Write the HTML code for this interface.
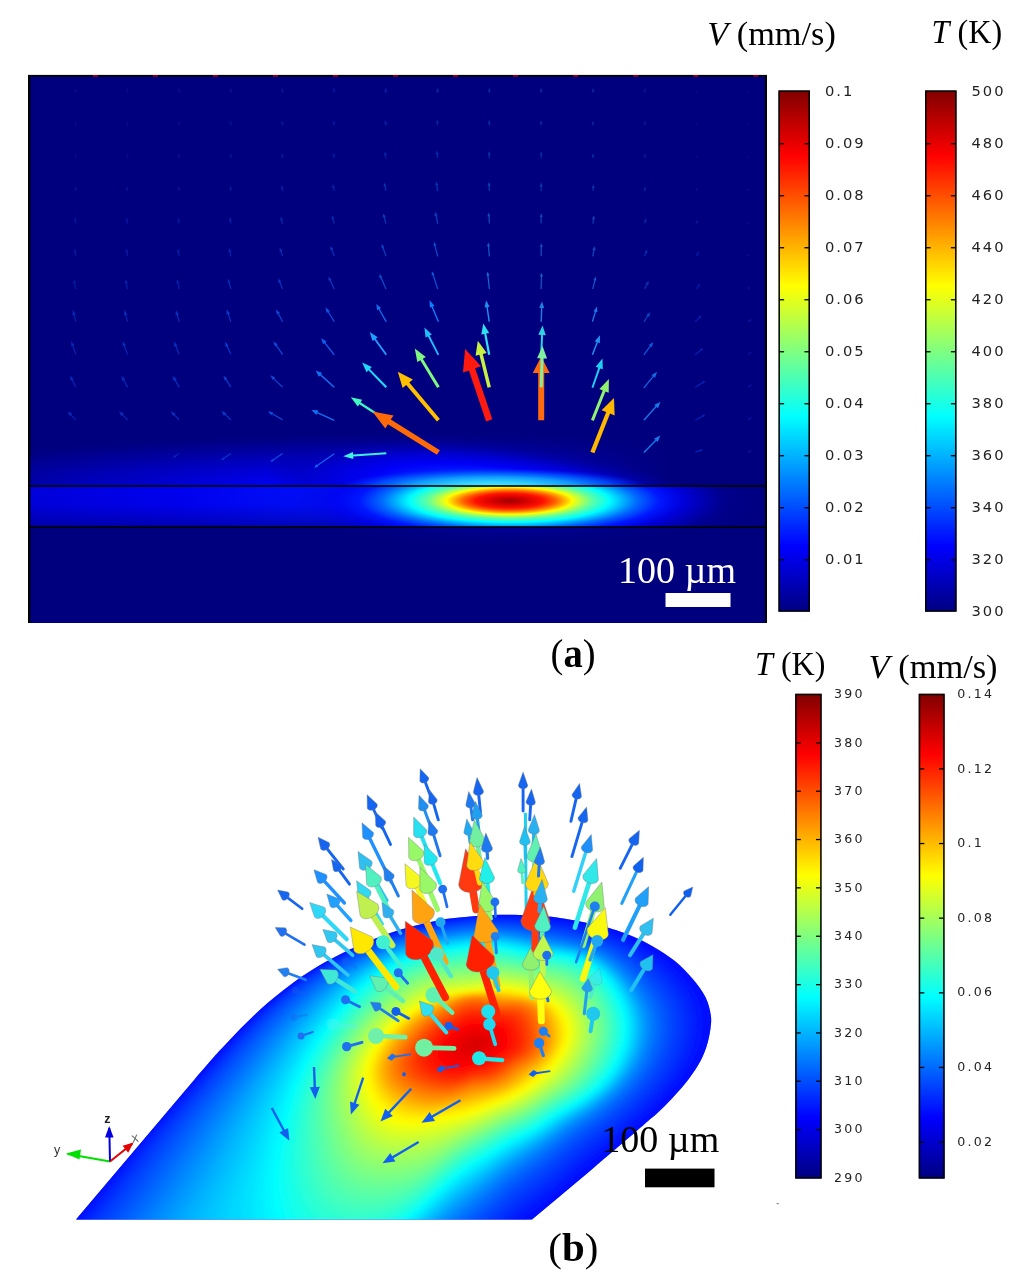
<!DOCTYPE html>
<html lang="en"><head><meta charset="utf-8"><title>Figure</title>
<style>html,body{margin:0;padding:0;background:#fff}svg{display:block}.pal{font-family:"Liberation Serif","DejaVu Serif",serif}.mono{font-family:"DejaVu Sans","Liberation Sans",sans-serif;font-size:14.7px;letter-spacing:2px;fill:#222}.m2{font-size:12.6px;letter-spacing:2.2px}</style></head><body>
<svg width="1024" height="1281" viewBox="0 0 1024 1281">
<rect width="1024" height="1281" fill="#fff"/>
<defs>
<clipPath id="cpA"><rect x="28" y="75" width="739" height="548"/></clipPath>
<clipPath id="cpTop"><rect x="28" y="75" width="739" height="411.0"/></clipPath>
<clipPath id="cpLay"><rect x="28" y="486.0" width="739" height="41.0"/></clipPath>
<clipPath id="cpBot"><rect x="28" y="527.0" width="739" height="96.0"/></clipPath>
<radialGradient id="gHot" gradientUnits="userSpaceOnUse" cx="0" cy="0" r="330.0" gradientTransform="translate(509.5 500.8) scale(1 0.215)">
<stop offset="0.0000" stop-color="#9c0000" stop-opacity="1.00"/>
<stop offset="0.0485" stop-color="#d00000" stop-opacity="1.00"/>
<stop offset="0.1030" stop-color="#ff1000" stop-opacity="1.00"/>
<stop offset="0.1394" stop-color="#ff6000" stop-opacity="1.00"/>
<stop offset="0.1667" stop-color="#ffb000" stop-opacity="1.00"/>
<stop offset="0.1909" stop-color="#ffff00" stop-opacity="1.00"/>
<stop offset="0.2182" stop-color="#b0ff50" stop-opacity="1.00"/>
<stop offset="0.2485" stop-color="#60ffa0" stop-opacity="1.00"/>
<stop offset="0.3030" stop-color="#00ffff" stop-opacity="1.00"/>
<stop offset="0.3455" stop-color="#00b0ff" stop-opacity="1.00"/>
<stop offset="0.3879" stop-color="#0068ff" stop-opacity="1.00"/>
<stop offset="0.4545" stop-color="#0018ff" stop-opacity="1.00"/>
<stop offset="0.5303" stop-color="#0000ee" stop-opacity="0.64"/>
<stop offset="0.6515" stop-color="#0000c4" stop-opacity="0.07"/>
<stop offset="0.8182" stop-color="#00009c" stop-opacity="0.00"/>
<stop offset="1.0000" stop-color="#000088" stop-opacity="0.00"/>
</radialGradient>
<radialGradient id="gUp" gradientUnits="userSpaceOnUse" cx="0" cy="0" r="205" gradientTransform="translate(487.5 490.0) skewX(58) scale(1 0.25)">
<stop offset="0" stop-color="#0078ff" stop-opacity="1"/>
<stop offset="0.16" stop-color="#0050ff" stop-opacity="1"/>
<stop offset="0.34" stop-color="#0020ff" stop-opacity="1"/>
<stop offset="0.52" stop-color="#0000f8" stop-opacity="1"/>
<stop offset="0.7" stop-color="#0000d8" stop-opacity="0.8"/>
<stop offset="0.86" stop-color="#0000b0" stop-opacity="0.45"/>
<stop offset="1" stop-color="#000090" stop-opacity="0"/>
</radialGradient>
<radialGradient id="gBand" gradientUnits="userSpaceOnUse" cx="0" cy="0" r="155" gradientTransform="translate(493.5 487.5) scale(1 0.125)">
<stop offset="0" stop-color="#58f0ff" stop-opacity="1"/>
<stop offset="0.3" stop-color="#30d0ff" stop-opacity="1"/>
<stop offset="0.55" stop-color="#10a0ff" stop-opacity="0.95"/>
<stop offset="0.78" stop-color="#0060ff" stop-opacity="0.7"/>
<stop offset="1" stop-color="#0030ff" stop-opacity="0"/>
</radialGradient>
<radialGradient id="gUpL" gradientUnits="userSpaceOnUse" cx="0" cy="0" r="600" gradientTransform="translate(440 489.0) scale(1 0.095)">
<stop offset="0" stop-color="#0018ff" stop-opacity="1"/>
<stop offset="0.2" stop-color="#0000ff" stop-opacity="1"/>
<stop offset="0.4" stop-color="#0000e0" stop-opacity="0.95"/>
<stop offset="0.62" stop-color="#0000c0" stop-opacity="0.85"/>
<stop offset="0.82" stop-color="#0000a0" stop-opacity="0.6"/>
<stop offset="1" stop-color="#000088" stop-opacity="0"/>
</radialGradient>
<linearGradient id="gLay" gradientUnits="userSpaceOnUse" x1="28" y1="0" x2="767" y2="0">
<stop offset="0" stop-color="#0000dc"/>
<stop offset="0.2" stop-color="#0000f0"/>
<stop offset="0.4" stop-color="#0010ff"/>
<stop offset="0.8" stop-color="#0000f8"/>
<stop offset="0.86" stop-color="#0000d0"/>
<stop offset="0.905" stop-color="#0000a0"/>
<stop offset="0.945" stop-color="#000086"/>
<stop offset="1" stop-color="#000080"/>
</linearGradient>
<linearGradient id="gLayV" gradientUnits="userSpaceOnUse" x1="0" y1="486.0" x2="0" y2="527.0">
<stop offset="0" stop-color="#00007f" stop-opacity="0"/>
<stop offset="0.45" stop-color="#00007f" stop-opacity="0.05"/>
<stop offset="0.8" stop-color="#00007f" stop-opacity="0.35"/>
<stop offset="1" stop-color="#00007f" stop-opacity="0.62"/>
</linearGradient>
<radialGradient id="gDn" gradientUnits="userSpaceOnUse" cx="0" cy="0" r="200" gradientTransform="translate(509.5 527.0) scale(1 0.1)">
<stop offset="0" stop-color="#0000a8" stop-opacity="0.6"/>
<stop offset="0.5" stop-color="#000098" stop-opacity="0.3"/>
<stop offset="1" stop-color="#00007f" stop-opacity="0"/>
</radialGradient>
<linearGradient id="gFade" gradientUnits="userSpaceOnUse" x1="440" y1="0" x2="670" y2="0"><stop offset="0" stop-color="#fff"/><stop offset="1" stop-color="#000"/></linearGradient>
<mask id="mFade" maskUnits="userSpaceOnUse" x="0" y="300" width="1024" height="300"><rect x="0" y="300" width="1024" height="300" fill="url(#gFade)"/></mask>
</defs>
<rect x="28" y="75" width="739" height="548" fill="#00007f"/>
<g clip-path="url(#cpTop)"><rect x="28" y="380" width="739" height="120" fill="url(#gUpL)" mask="url(#mFade)"/><rect x="28" y="380" width="739" height="120" fill="url(#gUp)"/><rect x="28" y="380" width="739" height="120" fill="url(#gBand)"/></g>
<g clip-path="url(#cpLay)"><rect x="28" y="486.0" width="739" height="41.0" fill="url(#gLay)"/><rect x="28" y="486.0" width="739" height="41.0" fill="url(#gLayV)"/><rect x="28" y="486.0" width="739" height="41.0" fill="url(#gHot)"/></g>
<g clip-path="url(#cpBot)"><rect x="28" y="527.0" width="739" height="40" fill="url(#gDn)"/></g>
<g>
<path d="M76.2,419.4 71.2,414.5 72.1,413.6 67.3,411.3 69.6,416.1 70.5,415.2 75.4,420.2Z" fill="#0628b4"/>
<path d="M127.9,419.4 122.9,414.5 123.8,413.6 119,411.3 121.3,416.1 122.2,415.2 127.1,420.2Z" fill="#062cb8"/>
<path d="M179.6,419.4 174.6,414.5 175.5,413.6 170.7,411.3 173,416.1 173.9,415.2 178.8,420.2Z" fill="#0830c0"/>
<path d="M231.3,419.4 225.4,413.9 226.3,413 221.4,410.9 223.8,415.7 224.7,414.7 230.5,420.2Z" fill="#0a3acc"/>
<path d="M282.9,419.3 272.5,413.3 273.1,412.2 267.9,411.3 271.3,415.4 271.9,414.3 282.3,420.3Z" fill="#0e4ad8"/>
<path d="M76.3,386.9 72.7,379.7 73.8,379.2 69.9,375.5 70.6,380.8 71.7,380.2 75.3,387.3Z" fill="#0628b4"/>
<path d="M128,386.8 124.2,379.8 125.3,379.2 121.4,375.6 122.2,380.9 123.3,380.3 127,387.4Z" fill="#062cb8"/>
<path d="M179.7,386.8 175.7,379.9 176.8,379.3 172.7,375.8 173.6,381.1 174.7,380.4 178.7,387.4Z" fill="#0830c0"/>
<path d="M231.4,386.8 226.5,379.3 227.5,378.6 223.3,375.4 224.5,380.5 225.5,379.9 230.4,387.4Z" fill="#0a3acc"/>
<path d="M283,386.7 274.3,378.4 275.2,377.5 270.4,375.3 272.7,380.1 273.6,379.2 282.2,387.5Z" fill="#0e4ad8"/>
<path d="M76.3,354.2 73.4,345.7 74.6,345.3 71.2,341.2 71.2,346.5 72.3,346.1 75.3,354.6Z" fill="#0628b4"/>
<path d="M128,354.2 124.9,345.8 126.1,345.3 122.7,341.2 122.7,346.6 123.9,346.1 127,354.6Z" fill="#062cb8"/>
<path d="M179.7,354.2 176.3,345.8 177.5,345.4 174,341.4 174.2,346.7 175.3,346.3 178.7,354.6Z" fill="#0830c0"/>
<path d="M231.4,354.2 227.6,346 228.7,345.5 225,341.7 225.5,347 226.6,346.5 230.4,354.6Z" fill="#0a3acc"/>
<path d="M283.1,354.1 276.7,345.1 277.8,344.4 273.4,341.3 274.8,346.4 275.8,345.7 282.1,354.7Z" fill="#0e4ad8"/>
<path d="M76.3,321.6 74.6,314.8 75.9,314.5 72.9,310.1 72.4,315.3 73.6,315 75.3,321.8Z" fill="#0628b4"/>
<path d="M128,321.6 126.2,314.8 127.4,314.5 124.4,310.1 123.9,315.4 125.2,315.1 127,321.8Z" fill="#062cb8"/>
<path d="M179.7,321.5 177.8,314.8 179,314.5 175.9,310.2 175.5,315.5 176.7,315.1 178.7,321.9Z" fill="#0830c0"/>
<path d="M231.4,321.5 228.8,314 230,313.5 226.7,309.4 226.6,314.7 227.8,314.3 230.4,321.9Z" fill="#0a3acc"/>
<path d="M283.1,321.4 278.9,313.5 280,312.9 276,309.3 276.8,314.6 277.9,314 282.1,322Z" fill="#0e4ad8"/>
<path d="M178.9,453.1 175.2,455.6 174.7,454.9 172.6,458 176.2,457.1 175.7,456.4 179.5,453.9Z" fill="#0628b8"/>
<path d="M230.6,453.1 223.6,457.8 223.1,457.2 220.9,460.2 224.6,459.3 224.1,458.7 231.2,453.9Z" fill="#0a38c8"/>
<path d="M282.3,453.1 272.8,459.5 272.3,458.9 270.2,461.9 273.8,461 273.3,460.4 282.9,453.9Z" fill="#1050dc"/>
<path d="M76.4,288.9 75.2,283.2 76.2,283 73.9,279.6 73.1,283.6 74.1,283.4 75.2,289.1Z" fill="#041da5"/>
<path d="M128.1,288.9 126.9,283.2 127.9,283 125.5,279.6 124.7,283.7 125.7,283.4 126.9,289.1Z" fill="#0420a8"/>
<path d="M179.8,288.9 178.5,283.2 179.5,283 177.1,279.6 176.4,283.7 177.4,283.5 178.6,289.1Z" fill="#0623ae"/>
<path d="M231.5,288.8 229.7,282.5 230.7,282.2 228.2,279 227.6,283.1 228.6,282.8 230.3,289.2Z" fill="#072ab6"/>
<path d="M283.1,288.8 280.3,281.9 281.3,281.5 278.3,278.6 278.3,282.8 279.2,282.4 282.1,289.2Z" fill="#0a35bf"/>
<path d="M334.8,288.8 330.6,279.9 331.5,279.5 328.5,276.7 328.7,280.8 329.6,280.4 333.8,289.2Z" fill="#0c3ac5"/>
<path d="M386.5,288.8 381.5,277.3 382.4,276.9 379.4,274.1 379.5,278.2 380.4,277.8 385.5,289.2Z" fill="#0c51d0"/>
<path d="M438.2,288.8 433.7,274.7 434.6,274.4 431.9,271.3 431.6,275.4 432.6,275.1 437.2,289.2Z" fill="#0c5cdb"/>
<path d="M490,288.9 488.5,275.5 489.5,275.3 487.5,271.7 486.3,275.7 487.3,275.6 488.8,289.1Z" fill="#1768d0"/>
<path d="M541.7,289 542,276.6 543,276.6 541.6,272.8 539.8,276.5 540.9,276.5 540.5,289Z" fill="#175cc5"/>
<path d="M593.4,289.1 595.4,280.5 596.4,280.7 595.8,276.6 593.3,280 594.3,280.2 592.2,288.9Z" fill="#1456cb"/>
<path d="M645,289.3 647.4,284.5 648.4,285 648.7,280.9 645.5,283.5 646.4,284 644,288.7Z" fill="#0934b4"/>
<path d="M696.7,289.3 698.6,286.7 699.4,287.3 700.4,283.2 696.9,285.4 697.7,286 695.7,288.7Z" fill="#031aa8"/>
<path d="M748.3,289.4 748.5,289.1 749.3,289.8 750,286.5 746.9,287.7 747.7,288.4 747.5,288.6Z" fill="#01149d"/>
<path d="M76.4,256.2 75.8,252.4 76.8,252.2 74.6,248.7 73.6,252.7 74.6,252.6 75.2,256.4Z" fill="#0419a0"/>
<path d="M128.1,256.2 127.4,252.4 128.4,252.2 126.2,248.7 125.3,252.7 126.3,252.6 126.9,256.4Z" fill="#041ba2"/>
<path d="M179.8,256.2 179.1,252.4 180.1,252.2 177.8,248.7 176.9,252.8 177.9,252.6 178.6,256.4Z" fill="#051ea7"/>
<path d="M231.5,256.2 230.5,251.8 231.5,251.5 229.1,248.2 228.4,252.2 229.4,252 230.3,256.4Z" fill="#0624af"/>
<path d="M283.1,256.1 281.6,251.2 282.5,250.9 279.8,247.8 279.5,251.9 280.5,251.6 282.1,256.5Z" fill="#092eb6"/>
<path d="M334.8,256.1 332.4,249.5 333.3,249.1 330.5,246.1 330.3,250.2 331.3,249.9 333.8,256.5Z" fill="#0a32bb"/>
<path d="M386.5,256.1 383.5,247.4 384.5,247 381.7,244 381.5,248.1 382.4,247.7 385.5,256.5Z" fill="#0a45c5"/>
<path d="M438.3,256.2 435.5,245.4 436.5,245.1 434,241.9 433.4,245.9 434.4,245.7 437.1,256.4Z" fill="#0a4fce"/>
<path d="M490,256.2 489.1,246.2 490.1,246.1 488.2,242.5 486.9,246.4 487.9,246.3 488.8,256.4Z" fill="#1459c5"/>
<path d="M541.7,256.3 541.9,247.1 542.9,247.1 541.4,243.3 539.7,247.1 540.7,247.1 540.5,256.3Z" fill="#144fbb"/>
<path d="M593.4,256.4 594.6,250.1 595.6,250.3 594.7,246.3 592.4,249.7 593.4,249.9 592.2,256.2Z" fill="#114ac0"/>
<path d="M645,256.5 646.3,253.3 647.3,253.6 647.2,249.5 644.3,252.5 645.3,252.8 644,256.1Z" fill="#072dac"/>
<path d="M696.7,256.6 697.6,254.9 698.5,255.4 698.9,251.3 695.7,253.9 696.6,254.4 695.7,256Z" fill="#0216a2"/>
<path d="M748.4,256.6 748.5,256.4 749.4,256.9 749.5,253.8 746.7,255.2 747.6,255.7 747.4,256Z" fill="#011198"/>
<path d="M76.4,223.5 76.1,221.2 77.1,221.1 75,217.5 73.9,221.5 74.9,221.3 75.2,223.7Z" fill="#03159b"/>
<path d="M128.1,223.5 127.8,221.2 128.8,221.1 126.7,217.5 125.6,221.5 126.6,221.4 126.9,223.7Z" fill="#03179d"/>
<path d="M179.8,223.5 179.4,221.2 180.4,221.1 178.3,217.5 177.3,221.5 178.3,221.4 178.6,223.7Z" fill="#0419a1"/>
<path d="M231.5,223.5 231,220.7 232,220.5 229.8,217 228.8,221.1 229.9,220.9 230.3,223.7Z" fill="#051ea7"/>
<path d="M283.2,223.5 282.3,220.2 283.3,219.9 280.8,216.7 280.2,220.7 281.2,220.5 282,223.7Z" fill="#0726ad"/>
<path d="M334.9,223.4 333.5,218.7 334.5,218.4 331.9,215.2 331.4,219.3 332.4,219.1 333.7,223.8Z" fill="#082ab1"/>
<path d="M386.6,223.4 384.8,217 385.8,216.8 383.3,213.5 382.7,217.6 383.7,217.3 385.4,223.8Z" fill="#083aba"/>
<path d="M438.3,223.5 436.6,215.5 437.6,215.3 435.3,211.9 434.5,216 435.5,215.7 437.1,223.7Z" fill="#0843c2"/>
<path d="M490,223.6 489.5,216.3 490.5,216.2 488.6,212.5 487.3,216.4 488.3,216.3 488.8,223.6Z" fill="#114bba"/>
<path d="M541.7,223.6 541.8,217 542.8,217 541.3,213.2 539.6,217 540.6,217 540.5,223.6Z" fill="#1143b1"/>
<path d="M593.4,223.7 594,219.4 595,219.5 594,215.6 591.9,219.1 592.9,219.2 592.2,223.5Z" fill="#0f3eb6"/>
<path d="M645,223.8 645.7,221.8 646.6,222.1 646.2,218 643.6,221.2 644.6,221.5 644,223.4Z" fill="#0625a5"/>
<path d="M696.7,223.8 697,223.1 698,223.5 698,219.4 695,222.3 696,222.7 695.7,223.4Z" fill="#02139d"/>
<path d="M748.4,223.8 748.5,223.6 749.5,224 749.2,220.9 746.6,222.6 747.5,223.1 747.4,223.4Z" fill="#010f94"/>
<path d="M76.4,190.8 76.3,189.6 77.3,189.5 75.3,185.9 74.1,189.9 75.1,189.8 75.2,191Z" fill="#031195"/>
<path d="M128.1,190.8 127.9,189.6 129,189.5 127,185.9 125.8,189.9 126.8,189.8 126.9,191Z" fill="#031297"/>
<path d="M179.8,190.8 179.6,189.6 180.7,189.5 178.6,185.9 177.5,189.9 178.5,189.8 178.6,191Z" fill="#03149a"/>
<path d="M231.5,190.8 231.3,189.3 232.3,189.2 230.2,185.6 229.1,189.6 230.1,189.5 230.3,191Z" fill="#04189f"/>
<path d="M283.2,190.8 282.8,188.9 283.8,188.7 281.5,185.3 280.6,189.3 281.7,189.1 282,191Z" fill="#061fa4"/>
<path d="M334.9,190.8 334.1,187.7 335.1,187.5 332.7,184.1 332,188.2 333,187.9 333.7,191Z" fill="#0722a8"/>
<path d="M386.6,190.8 385.6,186.3 386.6,186.1 384.2,182.7 383.5,186.8 384.5,186.6 385.4,191Z" fill="#072fae"/>
<path d="M438.3,190.8 437.3,185.1 438.4,185 436.2,181.5 435.2,185.5 436.2,185.3 437.1,191Z" fill="#0736b5"/>
<path d="M490,190.9 489.7,185.8 490.7,185.7 488.9,182 487.5,185.9 488.5,185.9 488.8,190.9Z" fill="#0d3cae"/>
<path d="M541.7,190.9 541.7,186.4 542.8,186.4 541.2,182.6 539.6,186.4 540.6,186.4 540.5,190.9Z" fill="#0d36a8"/>
<path d="M593.4,191 593.7,188.3 594.7,188.4 593.6,184.4 591.5,188 592.6,188.1 592.2,190.8Z" fill="#0c32ab"/>
<path d="M645.1,191 645.3,189.9 646.3,190.1 645.7,186 643.2,189.4 644.2,189.6 643.9,190.8Z" fill="#051e9e"/>
<path d="M696.7,191.1 696.9,190.7 697.8,191.1 697.4,187.4 694.8,190 695.8,190.4 695.7,190.7Z" fill="#020f97"/>
<path d="M748.4,191.1 748.5,190.8 749.5,191.2 748.9,188.1 746.5,190.1 747.5,190.4 747.4,190.7Z" fill="#010c90"/>
<path d="M76.4,158.2 76.3,157 77.3,156.9 75.4,153.2 74.1,157.1 75.1,157 75.2,158.2Z" fill="#020d90"/>
<path d="M128.1,158.2 128,157 129,156.9 127.1,153.2 125.8,157.1 126.8,157.1 126.9,158.2Z" fill="#020e91"/>
<path d="M179.8,158.1 179.7,157 180.7,156.9 178.7,153.2 177.5,157.2 178.5,157.1 178.6,158.3Z" fill="#030f94"/>
<path d="M231.5,158.1 231.3,156.9 232.4,156.8 230.4,153.2 229.2,157.2 230.2,157.1 230.3,158.3Z" fill="#031398"/>
<path d="M283.2,158.1 283,156.9 284,156.8 281.8,153.3 280.8,157.3 281.8,157.1 282,158.3Z" fill="#04189b"/>
<path d="M334.9,158.1 334.5,156.4 335.6,156.2 333.3,152.7 332.4,156.7 333.4,156.6 333.7,158.3Z" fill="#051a9e"/>
<path d="M386.6,158.1 386.1,155.3 387.1,155.1 384.9,151.6 383.9,155.6 384.9,155.5 385.4,158.3Z" fill="#0524a3"/>
<path d="M438.3,158.1 437.8,154.3 438.8,154.2 436.7,150.6 435.6,154.6 436.6,154.5 437.1,158.3Z" fill="#0529a8"/>
<path d="M490,158.2 489.8,154.9 490.8,154.8 489.1,151.1 487.7,155 488.7,154.9 488.8,158.2Z" fill="#0a2ea3"/>
<path d="M541.7,158.2 541.7,155.4 542.7,155.4 541.2,151.5 539.5,155.3 540.6,155.3 540.5,158.2Z" fill="#0a299e"/>
<path d="M593.4,158.3 593.5,156.9 594.5,156.9 593.3,153 591.3,156.6 592.4,156.7 592.2,158.1Z" fill="#0926a1"/>
<path d="M645.1,158.3 645.3,157.1 646.3,157.3 645.5,153.3 643.2,156.7 644.2,156.9 643.9,158.1Z" fill="#041796"/>
<path d="M696.8,158.3 696.8,158.1 697.8,158.3 697,155.3 694.7,157.5 695.7,157.8 695.6,158.1Z" fill="#010c91"/>
<path d="M748.5,158.4 748.5,158.1 749.5,158.4 748.7,155.3 746.4,157.5 747.4,157.7 747.3,158Z" fill="#01098c"/>
<path d="M76.4,125.5 76.3,124.3 77.3,124.2 75.5,120.5 74.1,124.4 75.1,124.3 75.2,125.5Z" fill="#020b8e"/>
<path d="M128.1,125.5 128,124.3 129,124.2 127.2,120.5 125.8,124.4 126.8,124.3 126.9,125.5Z" fill="#020c8f"/>
<path d="M179.8,125.5 179.7,124.3 180.7,124.2 178.8,120.5 177.5,124.4 178.5,124.3 178.6,125.5Z" fill="#020d91"/>
<path d="M231.5,125.5 231.4,124.3 232.4,124.2 230.5,120.5 229.2,124.4 230.2,124.4 230.3,125.5Z" fill="#031095"/>
<path d="M283.2,125.4 283,124.2 284,124.1 282,120.5 280.9,124.5 281.9,124.4 282,125.6Z" fill="#041598"/>
<path d="M334.9,125.4 334.7,124.2 335.7,124.1 333.6,120.6 332.5,124.5 333.6,124.4 333.7,125.6Z" fill="#04169a"/>
<path d="M386.6,125.4 386.4,123.9 387.4,123.7 385.3,120.2 384.2,124.2 385.2,124 385.4,125.6Z" fill="#041f9f"/>
<path d="M438.3,125.4 438,123.1 439.1,123 437.1,119.4 435.9,123.4 436.9,123.3 437.1,125.6Z" fill="#0424a3"/>
<path d="M490,125.5 489.9,123.6 490.9,123.6 489.2,119.8 487.7,123.7 488.8,123.6 488.8,125.5Z" fill="#09289f"/>
<path d="M541.7,125.5 541.7,124 542.7,124 541.1,120.2 539.5,124 540.5,124 540.5,125.5Z" fill="#09249a"/>
<path d="M593.4,125.5 593.5,124.3 594.5,124.4 593.2,120.5 591.3,124.2 592.3,124.3 592.2,125.5Z" fill="#08229c"/>
<path d="M645.1,125.6 645.3,124.4 646.3,124.6 645.3,120.6 643.1,124.1 644.1,124.2 643.9,125.4Z" fill="#031493"/>
<path d="M696.8,125.6 696.8,125.3 697.8,125.5 696.8,122.6 694.7,124.9 695.7,125.1 695.6,125.4Z" fill="#010a8f"/>
<path d="M748.5,125.6 748.5,125.3 749.5,125.6 748.6,122.6 746.4,124.8 747.4,125.1 747.3,125.4Z" fill="#01088a"/>
<path d="M76.4,92.8 76.3,91.6 77.3,91.5 75.5,87.8 74.1,91.7 75.2,91.6 75.2,92.8Z" fill="#020b8e"/>
<path d="M128.1,92.8 128,91.6 129,91.5 127.2,87.8 125.8,91.7 126.9,91.6 126.9,92.8Z" fill="#020c8f"/>
<path d="M179.8,92.8 179.7,91.6 180.7,91.5 178.9,87.8 177.5,91.7 178.6,91.6 178.6,92.8Z" fill="#020d91"/>
<path d="M231.5,92.8 231.4,91.6 232.4,91.5 230.6,87.8 229.2,91.7 230.2,91.6 230.3,92.8Z" fill="#031095"/>
<path d="M283.2,92.7 283,91.5 284.1,91.4 282.1,87.8 280.9,91.8 281.9,91.7 282,92.9Z" fill="#041598"/>
<path d="M334.9,92.7 334.7,91.5 335.8,91.4 333.7,87.8 332.6,91.8 333.6,91.7 333.7,92.9Z" fill="#04169a"/>
<path d="M386.6,92.7 386.4,91.5 387.5,91.4 385.5,87.8 384.3,91.8 385.3,91.7 385.4,92.9Z" fill="#041f9f"/>
<path d="M438.3,92.8 438.2,91.6 439.2,91.5 437.3,87.8 436,91.7 437,91.7 437.1,92.8Z" fill="#0424a3"/>
<path d="M490,92.8 489.9,91.6 491,91.6 489.3,87.8 487.8,91.6 488.8,91.6 488.8,92.8Z" fill="#09289f"/>
<path d="M541.7,92.8 541.7,91.6 542.7,91.6 541.1,87.8 539.5,91.6 540.5,91.6 540.5,92.8Z" fill="#09249a"/>
<path d="M593.4,92.8 593.4,91.6 594.5,91.7 593.1,87.8 591.3,91.5 592.3,91.6 592.2,92.8Z" fill="#08229c"/>
<path d="M645.1,92.9 645.2,91.7 646.2,91.8 645.1,87.8 643.1,91.4 644.1,91.5 643.9,92.7Z" fill="#031493"/>
<path d="M696.8,92.9 696.8,92.6 697.8,92.8 696.7,89.8 694.7,92.2 695.7,92.4 695.6,92.7Z" fill="#010a8f"/>
<path d="M748.5,92.9 748.5,92.6 749.5,92.8 748.4,89.9 746.4,92.2 747.4,92.4 747.3,92.7Z" fill="#01088a"/>
<path d="M748.2,452.9 750,451.7 750.3,452.2 751.9,450 749.3,450.5 749.5,450.9 747.6,452.1Z" fill="#021ca8"/>
<path d="M748.2,420.2 750,419 750.3,419.5 751.9,417.3 749.3,417.8 749.5,418.2 747.6,419.4Z" fill="#021ca8"/>
<path d="M748.2,387.5 750,386.3 750.3,386.8 751.9,384.6 749.3,385.1 749.5,385.5 747.6,386.7Z" fill="#021ca8"/>
<path d="M748.2,354.8 750,353.6 750.3,354.1 751.9,351.9 749.3,352.4 749.5,352.8 747.6,354Z" fill="#021ca8"/>
<path d="M748.2,322.1 750,320.9 750.3,321.4 751.9,319.2 749.3,319.7 749.5,320.1 747.6,321.3Z" fill="#021ca8"/>
<path d="M334.8,321.4 328.8,311.7 330,310.9 325.4,307.3 326.6,313 327.8,312.3 333.8,322Z" fill="#1050e0"/>
<path d="M334.8,354.4 325.3,342.5 326.6,341.5 321.1,338.2 323.1,344.3 324.3,343.3 333.8,355.2Z" fill="#1060f0"/>
<path d="M334.8,386.8 321,374.3 322.2,373 315.7,370.5 318.8,376.7 320.1,375.4 333.8,387.8Z" fill="#1070f0"/>
<path d="M334.6,419.7 317.6,412 318.4,410.3 311.4,409.9 316.3,414.9 317,413.2 334,420.9Z" fill="#1070f0"/>
<path d="M334,453.3 317,465.1 316.4,464.3 314,467.8 318.1,466.8 317.6,466 334.6,454.3Z" fill="#1468e8"/>
<path d="M386.9,321.4 379.7,308.9 381.1,308.1 376.2,304 377.2,310.3 378.6,309.5 385.7,322Z" fill="#1070f0"/>
<path d="M439,321.4 432.8,306.4 434.5,305.7 429.5,300.2 429.9,307.6 431.5,306.9 437.8,322Z" fill="#1080ff"/>
<path d="M387,354.3 375.8,338.7 377.7,337.3 369.8,331.9 372.4,341.1 374.3,339.7 385.6,355.3Z" fill="#20a0ff"/>
<path d="M439.2,354.4 429.6,335.6 431.9,334.4 424.4,327.6 425.6,337.6 427.9,336.5 437.6,355.2Z" fill="#20c0ff"/>
<path d="M387.1,386.6 369.9,368.9 371.8,367 362.2,362.4 366.5,372.2 368.4,370.3 385.5,388Z" fill="#20d8f8"/>
<path d="M386.9,419.3 360.6,402.2 362.2,399.8 350.8,397.2 357.8,406.6 359.4,404.2 385.7,421.3Z" fill="#40f8c0"/>
<path d="M386.2,452.3 353.1,454.6 352.9,452.1 343.2,456.3 353.4,459.1 353.2,456.6 386.4,454.3Z" fill="#40f0e0"/>
<path d="M439.7,386.5 422.8,358.7 425.8,356.9 414.8,348.4 417.3,362.1 420.3,360.3 437.1,388.1Z" fill="#80f880"/>
<path d="M439.9,419 409.3,382.4 412.9,379.4 397.8,371.8 402.6,388 406.2,385 436.9,421.6Z" fill="#ffc000"/>
<path d="M439.9,450.2 390.8,419.6 393.5,415.4 372.4,411.4 385.3,428.6 387.9,424.3 436.9,454.8Z" fill="#ff6a08"/>
<path d="M489.9,321.6 487.8,307 489.6,306.8 486.1,300.2 484.6,307.5 486.4,307.2 488.5,321.8Z" fill="#2090f0"/>
<path d="M490.3,354.6 486.3,333.6 489.2,333.1 483.3,323.5 481.3,334.6 484.2,334 488.1,355Z" fill="#30e0f0"/>
<path d="M492.3,419.2 475.1,368.3 481,366.3 465.1,348.9 463,372.4 468.9,370.4 486.1,421.4Z" fill="#ff1a10"/>
<path d="M490.9,386.9 482.8,354 486.7,353 477.8,340.8 475.6,355.8 479.4,354.8 487.5,387.7Z" fill="#c8f040"/>
<path d="M541.9,321.7 542.4,307.9 544.2,308 542,301.4 539.2,307.8 541,307.9 540.5,321.7Z" fill="#2080e0"/>
<path d="M544.2,420.3 544.2,373 549.6,373 541.2,356.5 532.8,373 538.2,373 538.2,420.3Z" fill="#ff6a10"/>
<path d="M542.2,354.8 543.1,335 545.8,335.2 542.5,325.5 538.3,334.8 541.1,334.9 540.2,354.8Z" fill="#30d0e0"/>
<path d="M542.7,387.3 543.6,358.4 547.1,358.6 542.5,345.9 537.1,358.2 540.6,358.3 539.7,387.3Z" fill="#80f0a0"/>
<path d="M593,321.9 596,311.9 597.3,312.3 597,306.5 593.5,311.2 594.8,311.6 591.8,321.5Z" fill="#1c78e8"/>
<path d="M593.1,355.1 598,342.5 599.9,343.2 600,335.2 594.7,341.2 596.6,341.9 591.7,354.5Z" fill="#2090f0"/>
<path d="M593.3,388.1 600.2,368.4 602.8,369.3 602.5,358.6 595.7,366.8 598.3,367.7 591.5,387.5Z" fill="#20d0f0"/>
<path d="M593.8,420.9 605.5,391.5 608.7,392.8 608.9,378.9 599.4,389.1 602.7,390.4 591,419.7Z" fill="#90f070"/>
<path d="M594.4,453.3 610.1,413.6 614.6,415.4 614,397.9 601.6,410.2 606.2,412 590.4,451.7Z" fill="#ffb800"/>
<path d="M644.4,453 656.4,440.7 657.7,441.9 660.4,435.5 654.1,438.4 655.4,439.7 643.4,452Z" fill="#1878e8"/>
<path d="M644.4,420.8 656.6,407 658,408.2 660.4,401.7 654.2,404.9 655.6,406.1 643.4,419.8Z" fill="#1878e8"/>
<path d="M644.4,388.2 653.8,376.8 655,377.9 657.1,371.8 651.5,375 652.8,376 643.4,387.4Z" fill="#1468e0"/>
<path d="M644.4,355.2 650.8,346.5 651.9,347.3 653.3,342.1 648.7,344.9 649.8,345.8 643.4,354.4Z" fill="#1058d8"/>
<path d="M644.4,322 648.2,316.3 649.2,317 650.3,312.3 646.3,315 647.3,315.7 643.4,321.4Z" fill="#0c48c8"/>
<path d="M695.4,453 700.2,451.1 700.5,451.8 702.8,449.5 699.6,449.4 699.8,450.1 695,452Z" fill="#0428c0"/>
<path d="M695.4,420.7 703,416.4 703.4,417.1 705.4,414.5 702.2,414.9 702.5,415.5 695,419.9Z" fill="#0428c0"/>
<path d="M695.5,387.7 703.1,382.9 703.5,383.6 705.4,380.9 702.2,381.4 702.6,382.1 694.9,386.9Z" fill="#0428c0"/>
<path d="M695.5,355.2 701.3,350.2 701.8,350.8 703.3,347.9 700.2,348.9 700.7,349.5 694.9,354.4Z" fill="#0428c0"/>
<path d="M695.6,322.1 699.7,317.9 700.3,318.4 701.5,315.4 698.5,316.6 699,317.2 694.8,321.3Z" fill="#0424b8"/>
</g>
<rect x="28" y="485.2" width="739" height="1.6" fill="#000"/>
<rect x="28" y="526.2" width="739" height="1.6" fill="#000"/>
<rect x="28" y="75" width="2.4" height="548" fill="#000"/>
<rect x="28" y="74.9" width="739" height="1.7" fill="#000"/>
<rect x="765" y="75" width="2" height="548" fill="#000"/>
<rect x="92.8" y="75.1" width="5" height="1.5" fill="#a8001c"/>
<rect x="152.8" y="75.1" width="5" height="1.5" fill="#a8001c"/>
<rect x="212.9" y="75.1" width="5" height="1.5" fill="#a8001c"/>
<rect x="272.9" y="75.1" width="5" height="1.5" fill="#a8001c"/>
<rect x="333" y="75.1" width="5" height="1.5" fill="#a8001c"/>
<rect x="393.1" y="75.1" width="5" height="1.5" fill="#a8001c"/>
<rect x="453.1" y="75.1" width="5" height="1.5" fill="#a8001c"/>
<rect x="513.1" y="75.1" width="5" height="1.5" fill="#a8001c"/>
<rect x="573.2" y="75.1" width="5" height="1.5" fill="#a8001c"/>
<rect x="633.2" y="75.1" width="5" height="1.5" fill="#a8001c"/>
<rect x="693.3" y="75.1" width="5" height="1.5" fill="#a8001c"/>
<rect x="753.3" y="75.1" width="5" height="1.5" fill="#a8001c"/>
<rect x="665.5" y="593" width="65" height="14" fill="#fff"/>
<text x="618" y="583" class="pal" font-size="37" fill="#fff" textLength="118" lengthAdjust="spacingAndGlyphs">100 µm</text>
<defs><linearGradient id="gJet" gradientUnits="objectBoundingBox" x1="0" y1="1" x2="0" y2="0">
<stop offset="0" stop-color="#000080"/>
<stop offset="0.125" stop-color="#0000ff"/>
<stop offset="0.375" stop-color="#00ffff"/>
<stop offset="0.625" stop-color="#ffff00"/>
<stop offset="0.875" stop-color="#ff0000"/>
<stop offset="1" stop-color="#800000"/>
</linearGradient></defs>
<rect x="778.5" y="90.5" width="31.5" height="521.2" fill="url(#gJet)"/>
<rect x="779.2" y="91.2" width="30" height="519.7" fill="none" stroke="#000" stroke-width="1.5"/>
<rect x="779.5" y="559.1" width="4.6" height="1.3" fill="#000"/>
<rect x="804.4" y="559.1" width="4.6" height="1.3" fill="#000"/>
<rect x="779.5" y="507.1" width="4.6" height="1.3" fill="#000"/>
<rect x="804.4" y="507.1" width="4.6" height="1.3" fill="#000"/>
<rect x="779.5" y="455.1" width="4.6" height="1.3" fill="#000"/>
<rect x="804.4" y="455.1" width="4.6" height="1.3" fill="#000"/>
<rect x="779.5" y="403.1" width="4.6" height="1.3" fill="#000"/>
<rect x="804.4" y="403.1" width="4.6" height="1.3" fill="#000"/>
<rect x="779.5" y="351.1" width="4.6" height="1.3" fill="#000"/>
<rect x="804.4" y="351.1" width="4.6" height="1.3" fill="#000"/>
<rect x="779.5" y="299.1" width="4.6" height="1.3" fill="#000"/>
<rect x="804.4" y="299.1" width="4.6" height="1.3" fill="#000"/>
<rect x="779.5" y="247.1" width="4.6" height="1.3" fill="#000"/>
<rect x="804.4" y="247.1" width="4.6" height="1.3" fill="#000"/>
<rect x="779.5" y="195.1" width="4.6" height="1.3" fill="#000"/>
<rect x="804.4" y="195.1" width="4.6" height="1.3" fill="#000"/>
<rect x="779.5" y="143.1" width="4.6" height="1.3" fill="#000"/>
<rect x="804.4" y="143.1" width="4.6" height="1.3" fill="#000"/>
<text x="825" y="564" class="mono">0.01</text>
<text x="825" y="512" class="mono">0.02</text>
<text x="825" y="460" class="mono">0.03</text>
<text x="825" y="408" class="mono">0.04</text>
<text x="825" y="356" class="mono">0.05</text>
<text x="825" y="304" class="mono">0.06</text>
<text x="825" y="252" class="mono">0.07</text>
<text x="825" y="200" class="mono">0.08</text>
<text x="825" y="148" class="mono">0.09</text>
<text x="825" y="96" class="mono">0.1</text>
<rect x="925" y="90.5" width="31.5" height="521.2" fill="url(#gJet)"/>
<rect x="925.8" y="91.2" width="30" height="519.7" fill="none" stroke="#000" stroke-width="1.5"/>
<rect x="926" y="559.1" width="4.6" height="1.3" fill="#000"/>
<rect x="950.9" y="559.1" width="4.6" height="1.3" fill="#000"/>
<rect x="926" y="507.1" width="4.6" height="1.3" fill="#000"/>
<rect x="950.9" y="507.1" width="4.6" height="1.3" fill="#000"/>
<rect x="926" y="455.1" width="4.6" height="1.3" fill="#000"/>
<rect x="950.9" y="455.1" width="4.6" height="1.3" fill="#000"/>
<rect x="926" y="403.1" width="4.6" height="1.3" fill="#000"/>
<rect x="950.9" y="403.1" width="4.6" height="1.3" fill="#000"/>
<rect x="926" y="351.1" width="4.6" height="1.3" fill="#000"/>
<rect x="950.9" y="351.1" width="4.6" height="1.3" fill="#000"/>
<rect x="926" y="299.1" width="4.6" height="1.3" fill="#000"/>
<rect x="950.9" y="299.1" width="4.6" height="1.3" fill="#000"/>
<rect x="926" y="247.1" width="4.6" height="1.3" fill="#000"/>
<rect x="950.9" y="247.1" width="4.6" height="1.3" fill="#000"/>
<rect x="926" y="195.1" width="4.6" height="1.3" fill="#000"/>
<rect x="950.9" y="195.1" width="4.6" height="1.3" fill="#000"/>
<rect x="926" y="143.1" width="4.6" height="1.3" fill="#000"/>
<rect x="950.9" y="143.1" width="4.6" height="1.3" fill="#000"/>
<text x="971.5" y="616" class="mono">300</text>
<text x="971.5" y="564" class="mono">320</text>
<text x="971.5" y="512" class="mono">340</text>
<text x="971.5" y="460" class="mono">360</text>
<text x="971.5" y="408" class="mono">380</text>
<text x="971.5" y="356" class="mono">400</text>
<text x="971.5" y="304" class="mono">420</text>
<text x="971.5" y="252" class="mono">440</text>
<text x="971.5" y="200" class="mono">460</text>
<text x="971.5" y="148" class="mono">480</text>
<text x="971.5" y="96" class="mono">500</text>
<rect x="795.2" y="693.8" width="26.4" height="484.8" fill="url(#gJet)"/>
<rect x="796" y="694.5" width="24.9" height="483.3" fill="none" stroke="#000" stroke-width="1.5"/>
<rect x="796.2" y="742.2" width="4.6" height="1.3" fill="#000"/>
<rect x="816" y="742.2" width="4.6" height="1.3" fill="#000"/>
<rect x="796.2" y="790.6" width="4.6" height="1.3" fill="#000"/>
<rect x="816" y="790.6" width="4.6" height="1.3" fill="#000"/>
<rect x="796.2" y="838.9" width="4.6" height="1.3" fill="#000"/>
<rect x="816" y="838.9" width="4.6" height="1.3" fill="#000"/>
<rect x="796.2" y="887.2" width="4.6" height="1.3" fill="#000"/>
<rect x="816" y="887.2" width="4.6" height="1.3" fill="#000"/>
<rect x="796.2" y="935.6" width="4.6" height="1.3" fill="#000"/>
<rect x="816" y="935.6" width="4.6" height="1.3" fill="#000"/>
<rect x="796.2" y="984" width="4.6" height="1.3" fill="#000"/>
<rect x="816" y="984" width="4.6" height="1.3" fill="#000"/>
<rect x="796.2" y="1032.3" width="4.6" height="1.3" fill="#000"/>
<rect x="816" y="1032.3" width="4.6" height="1.3" fill="#000"/>
<rect x="796.2" y="1080.6" width="4.6" height="1.3" fill="#000"/>
<rect x="816" y="1080.6" width="4.6" height="1.3" fill="#000"/>
<rect x="796.2" y="1129" width="4.6" height="1.3" fill="#000"/>
<rect x="816" y="1129" width="4.6" height="1.3" fill="#000"/>
<text x="834" y="698.1" class="mono m2">390</text>
<text x="834" y="746.5" class="mono m2">380</text>
<text x="834" y="794.8" class="mono m2">370</text>
<text x="834" y="843.1" class="mono m2">360</text>
<text x="834" y="891.5" class="mono m2">350</text>
<text x="834" y="939.9" class="mono m2">340</text>
<text x="834" y="988.2" class="mono m2">330</text>
<text x="834" y="1036.5" class="mono m2">320</text>
<text x="834" y="1084.9" class="mono m2">310</text>
<text x="834" y="1133.2" class="mono m2">300</text>
<text x="834" y="1181.6" class="mono m2">290</text>
<rect x="918.7" y="693.8" width="25.9" height="484.8" fill="url(#gJet)"/>
<rect x="919.5" y="694.5" width="24.4" height="483.3" fill="none" stroke="#000" stroke-width="1.5"/>
<rect x="919.7" y="768.2" width="4.6" height="1.3" fill="#000"/>
<rect x="939" y="768.2" width="4.6" height="1.3" fill="#000"/>
<rect x="919.7" y="842.9" width="4.6" height="1.3" fill="#000"/>
<rect x="939" y="842.9" width="4.6" height="1.3" fill="#000"/>
<rect x="919.7" y="917.5" width="4.6" height="1.3" fill="#000"/>
<rect x="939" y="917.5" width="4.6" height="1.3" fill="#000"/>
<rect x="919.7" y="992.2" width="4.6" height="1.3" fill="#000"/>
<rect x="939" y="992.2" width="4.6" height="1.3" fill="#000"/>
<rect x="919.7" y="1066.8" width="4.6" height="1.3" fill="#000"/>
<rect x="939" y="1066.8" width="4.6" height="1.3" fill="#000"/>
<rect x="919.7" y="1141.5" width="4.6" height="1.3" fill="#000"/>
<rect x="939" y="1141.5" width="4.6" height="1.3" fill="#000"/>
<text x="957.3" y="697.8" class="mono m2">0.14</text>
<text x="957.3" y="772.5" class="mono m2">0.12</text>
<text x="957.3" y="847.1" class="mono m2">0.1</text>
<text x="957.3" y="921.8" class="mono m2">0.08</text>
<text x="957.3" y="996.4" class="mono m2">0.06</text>
<text x="957.3" y="1071" class="mono m2">0.04</text>
<text x="957.3" y="1145.7" class="mono m2">0.02</text>
<text x="707.3" y="45.2" class="pal" font-size="33.5" textLength="128.5" lengthAdjust="spacingAndGlyphs"><tspan font-style="italic">V</tspan> (mm/s)</text>
<text x="931.6" y="42.7" class="pal" font-size="33.5" textLength="70.5" lengthAdjust="spacingAndGlyphs"><tspan font-style="italic">T</tspan> (K)</text>
<text x="755" y="674.8" class="pal" font-size="33.5" textLength="70.5" lengthAdjust="spacingAndGlyphs"><tspan font-style="italic">T</tspan> (K)</text>
<text x="868.6" y="678" class="pal" font-size="33.5" textLength="129" lengthAdjust="spacingAndGlyphs"><tspan font-style="italic">V</tspan> (mm/s)</text>
<defs><clipPath id="cpB"><path d="M76,1219.4 L194.1,1080 C219.2,1050.6 216,1054.7 226.9,1043 C237.8,1031.3 248.8,1020.1 259.7,1010.1 C270.6,1000.1 281.6,991.2 292.5,983.2 C303.4,975.2 314.4,968.4 325.3,962.1 C336.2,955.9 347.2,950.6 358.1,945.7 C369,940.8 380.6,936.3 390.9,932.8 C401.2,929.3 410.1,927 420,924.6 C429.9,922.2 437.9,920.2 450,918.6 C462.1,917 479.2,915.5 492.5,915 C505.8,914.5 518.8,914.8 530,915.3 C541.2,915.8 547.5,916.1 560,918 C572.5,919.9 592.9,923.9 604.9,926.9 C616.9,929.9 623.7,932.6 631.8,935.9 C639.9,939.2 646.1,942.5 653.3,946.7 C660.5,950.9 668.3,955.6 674.9,961 C681.5,966.4 687.7,973 692.8,979 C697.9,985 702.4,990.9 705.4,996.9 C708.4,1002.9 710,1009.5 710.8,1014.9 C711.6,1020.3 711.1,1023.8 710.4,1029.2 C709.6,1034.6 708.3,1041.2 706.3,1047.2 C704.3,1053.2 701.7,1059.1 698.2,1065.1 C694.8,1071.1 690.1,1077.4 685.6,1083.1 C681.1,1088.8 676.1,1094.1 671.3,1099.2 C666.5,1104.3 661.4,1109.4 656.9,1113.6 C652.4,1117.8 655.5,1114.7 644.4,1124.3 C633.2,1133.9 608.7,1155.2 590,1171 L532,1219.4 Z"/></clipPath><filter id="fB" x="-5%" y="-5%" width="110%" height="110%"><feGaussianBlur stdDeviation="2.4"/></filter></defs>
<g clip-path="url(#cpB)">
<rect x="40" y="890" width="700" height="350" fill="#000aff"/>
<g filter="url(#fB)">
<path d="M707.1,1044 702.7,1055.9 696.8,1067.2 689.6,1077.8 681.8,1087.7 673.6,1096.9 665.3,1105.5 657,1113.5 648.7,1120.9 640.9,1128 633.5,1134.9 626.1,1141.5 618.6,1147.6 611.3,1153.6 604.1,1159.3 597.1,1165.1 590.3,1171 583.6,1176.9 577,1183 570.2,1189.1 563.3,1195.2 556.1,1201.3 548.7,1207.3 540.9,1213.2 532.9,1219 524.6,1225.2 516,1232.2 507.1,1240.2 497.5,1249 487.3,1258.7 476,1269 463.6,1279.9 450,1291.2 435,1303.1 418.1,1316.6 398.5,1333.2 375.4,1353.6 347.8,1377.9 313.2,1409.6 265.1,1458 203.1,1516.7 139.5,1562.1 81,1587.7 25.5,1600.4 -25.1,1600.5 -65.8,1585.8 -94.1,1557.4 -111.1,1519.4 -113.8,1472.5 -85.4,1408.6 -26.1,1333.9 30.3,1271.1 69.3,1225.1 99,1188.7 123.8,1158.4 146.1,1132.4 166.1,1109.9 184,1090.3 199.7,1073 213.4,1057.8 225.7,1044 237.5,1031.5 248.9,1020.1 259.9,1009.8 270.6,1000.3 281.1,991.8 291.3,984 301.3,976.9 311,970.5 320.5,964.8 329.7,959.5 338.7,954.8 347.4,950.6 355.8,946.6 363.9,943 371.8,939.8 379.5,936.8 387,934.1 394.3,931.6 401.6,929.4 408.7,927.5 415.7,925.6 422.5,923.9 429.3,922.4 436.1,921.1 442.7,919.9 449.4,918.6 456,917.4 462.6,916.4 469.3,915.6 476,915.1 482.8,914.8 489.6,914.8 496.4,915 503.4,915 510.6,914.9 518,914.8 525.5,915 533.2,915.4 541.2,916 549.5,916.7 558,917.7 566.9,918.9 576.2,920.3 585.8,922.1 595.7,924.3 605.9,927.1 616.4,930.3 627.3,934.1 638.1,938.7 648.9,944.2 659.7,950.4 670.2,957.5 680.1,965.7 689.1,974.8 697.3,984.7 704.2,995.5 708.7,1007.2 710.5,1019.4 709.8,1031.7Z" fill="#000fff"/>
<path d="M699.4,1044 695.2,1055.5 689.6,1066.4 682.8,1076.8 675.2,1086.3 667.4,1095.3 659.4,1103.6 651.3,1111.3 643.2,1118.5 635.6,1125.3 628.3,1132 621.1,1138.2 613.8,1144.1 606.6,1149.8 599.6,1155.3 592.8,1160.8 586.3,1166.4 579.8,1172.2 573.3,1178 566.8,1183.8 560.1,1189.6 553.2,1195.5 546,1201.2 538.5,1206.9 530.8,1212.5 522.8,1218.5 514.5,1225.3 505.9,1233 496.8,1241.5 486.8,1250.8 476,1260.8 464.1,1271.3 451,1282.3 436.4,1293.9 420.1,1307.2 401.1,1323.5 378.7,1343.6 351.9,1367.4 318.3,1398.2 271.9,1444.5 212.3,1500.7 151.1,1544.3 94.5,1569.1 40.7,1581.5 -8.3,1581.9 -48,1568 -75.9,1541 -92.9,1504.7 -96.3,1459.8 -69.7,1398.4 -13.4,1326.5 40.4,1266 77.6,1221.4 106,1186 129.8,1156.5 151.3,1131 170.5,1108.9 187.8,1089.7 203,1072.7 216.3,1057.6 228.3,1044 239.8,1031.6 250.9,1020.3 261.7,1010.1 272.2,1000.7 282.6,992.2 292.6,984.4 302.5,977.4 312.1,971 321.5,965.3 330.7,960.1 339.6,955.4 348.2,951.2 356.6,947.3 364.6,943.7 372.5,940.5 380.1,937.5 387.6,934.8 394.9,932.4 402.1,930.3 409.2,928.3 416.2,926.6 423,924.9 429.7,923.4 436.4,922.2 443,921 449.6,919.8 456.2,918.7 462.7,917.7 469.3,917 476,916.5 482.7,916.3 489.4,916.4 496.2,916.6 503.1,916.6 510.1,916.6 517.4,916.7 524.8,917 532.3,917.5 540.1,918.2 548.2,919 556.5,920 565.2,921.2 574.2,922.7 583.6,924.5 593.3,926.7 603.2,929.5 613.4,932.7 623.9,936.6 634.3,941.2 644.6,946.7 654.8,952.9 664.7,960 674.1,968 682.6,976.9 690.4,986.6 696.8,997.1 701,1008.4 702.7,1020.2 702.1,1032.2Z" fill="#0019ff"/>
<path d="M692.2,1044 688.2,1055.1 682.8,1065.7 676.3,1075.7 669,1085 661.5,1093.7 653.8,1101.8 645.9,1109.2 638.1,1116.2 630.6,1122.8 623.5,1129.1 616.3,1135.1 609.2,1140.8 602.2,1146.2 595.4,1151.5 588.8,1156.8 582.4,1162.2 576.1,1167.7 569.9,1173.2 563.5,1178.8 557,1184.4 550.4,1189.9 543.4,1195.5 536.2,1200.9 528.8,1206.4 521.1,1212.2 513.1,1218.7 504.8,1226.1 496,1234.4 486.4,1243.3 476,1252.9 464.5,1263 451.9,1273.7 437.8,1285 422,1298.1 403.6,1314.2 381.8,1333.9 355.8,1357.3 323.2,1387.1 278.5,1431.5 221.3,1485.1 162.4,1526.9 107.8,1550.8 55.7,1563 8.2,1563.5 -30.4,1550.4 -57.9,1524.7 -74.8,1490 -78.7,1447 -54,1388.2 -0.6,1319.1 50.6,1260.8 86.1,1217.6 113.2,1183.3 136,1154.5 156.6,1129.6 175.1,1108 191.7,1089 206.5,1072.3 219.4,1057.4 231.1,1044 242.3,1031.8 253.2,1020.6 263.7,1010.4 274.1,1001.1 284.2,992.6 294.1,984.9 303.9,977.9 313.4,971.6 322.7,965.9 331.7,960.7 340.6,956 349.1,951.8 357.4,948 365.4,944.4 373.2,941.2 380.8,938.3 388.2,935.6 395.5,933.2 402.7,931.1 409.8,929.3 416.7,927.5 423.4,925.9 430.1,924.5 436.8,923.3 443.4,922.2 449.9,921 456.4,920 462.9,919 469.4,918.4 476,917.9 482.6,917.8 489.3,917.9 495.9,918.1 502.7,918.3 509.7,918.4 516.8,918.5 524,918.9 531.4,919.6 539,920.3 546.9,921.2 555,922.3 563.5,923.5 572.3,925 581.5,926.8 590.9,929.1 600.6,931.8 610.6,935 620.7,938.9 630.7,943.6 640.5,949 650.2,955.3 659.6,962.3 668.4,970.1 676.5,978.9 683.8,988.3 689.8,998.5 693.8,1009.5 695.4,1020.9 694.7,1032.5Z" fill="#0023ff"/>
<path d="M685.5,1044 681.6,1054.8 676.4,1065.1 670.2,1074.8 663.3,1083.8 656,1092.2 648.5,1100.1 640.9,1107.3 633.3,1114 626,1120.4 618.9,1126.5 611.9,1132.2 604.9,1137.7 598.1,1142.9 591.4,1147.9 585,1153 578.8,1158.2 572.8,1163.5 566.7,1168.8 560.5,1174.1 554.2,1179.5 547.7,1184.8 541,1190.1 534.1,1195.3 526.9,1200.6 519.5,1206.2 511.8,1212.6 503.8,1219.7 495.3,1227.7 486.1,1236.3 476,1245.5 464.9,1255.2 452.7,1265.6 439.1,1276.7 423.8,1289.5 406,1305.4 384.8,1324.7 359.5,1347.5 328,1376.5 284.9,1419 230,1470 173.4,1510 120.7,1533 70.4,1544.8 24.4,1545.5 -13.1,1533.1 -39.9,1508.6 -56.8,1475.4 -61.1,1434.3 -38.1,1377.9 12.4,1311.7 60.9,1255.5 94.7,1213.8 120.5,1180.4 142.4,1152.4 162.1,1128.1 179.9,1106.9 195.9,1088.4 210.2,1071.9 222.7,1057.3 234.1,1044 245,1031.9 255.6,1020.8 266,1010.7 276.1,1001.5 286,993.1 295.8,985.5 305.4,978.5 314.8,972.2 324,966.5 332.9,961.4 341.6,956.7 350.1,952.5 358.3,948.7 366.3,945.2 374,942 381.5,939.1 388.9,936.5 396.2,934.1 403.3,932 410.3,930.2 417.2,928.5 423.9,927 430.5,925.6 437.1,924.4 443.7,923.3 450.1,922.3 456.6,921.2 463,920.4 469.5,919.7 476,919.4 482.5,919.3 489.1,919.4 495.7,919.7 502.4,919.9 509.2,920 516.2,920.3 523.3,920.8 530.5,921.5 538,922.4 545.7,923.3 553.6,924.4 561.9,925.7 570.5,927.2 579.5,929 588.8,931.2 598.2,933.9 607.9,937.2 617.7,941.1 627.3,945.8 636.6,951.3 645.9,957.5 654.8,964.4 663.1,972.2 670.8,980.7 677.7,990 683.3,999.9 687.1,1010.6 688.6,1021.7 687.9,1032.9Z" fill="#002dff"/>
<path d="M679.4,1044 675.7,1054.5 670.7,1064.5 664.7,1073.9 658,1082.7 651,1090.9 643.8,1098.5 636.4,1105.6 628.9,1112.1 621.7,1118.3 614.8,1124.1 607.9,1129.6 601,1134.8 594.3,1139.8 587.9,1144.7 581.6,1149.6 575.6,1154.6 569.7,1159.7 563.8,1164.8 557.8,1169.9 551.6,1175 545.4,1180.1 538.9,1185.2 532.1,1190.2 525.2,1195.3 518,1200.8 510.6,1206.9 502.9,1213.8 494.6,1221.4 485.7,1229.7 476,1238.6 465.3,1248 453.5,1258 440.4,1268.9 425.5,1281.5 408.2,1297 387.6,1316 363,1338.3 332.5,1366.3 291.1,1406.9 238.4,1455.5 184,1493.6 133.3,1515.7 84.8,1527.1 40.4,1527.8 4,1516 -22.2,1492.6 -38.8,1460.9 -43.5,1421.5 -22.2,1367.5 25.5,1304.1 71.5,1250.1 103.5,1209.8 128.1,1177.5 148.9,1150.3 167.8,1126.6 184.9,1105.9 200.3,1087.7 214.1,1071.5 226.2,1057.1 237.2,1044 247.9,1032 258.2,1021.1 268.3,1011.1 278.3,1002 288,993.6 297.6,986 307,979.1 316.3,972.9 325.4,967.2 334.2,962.1 342.8,957.5 351.2,953.3 359.3,949.5 367.2,946 374.8,942.8 382.3,940 389.7,937.4 396.8,935 403.9,933 410.9,931.2 417.7,929.6 424.4,928 431,926.7 437.5,925.6 444,924.6 450.4,923.5 456.8,922.5 463.1,921.7 469.6,921.1 476,920.8 482.5,920.7 488.9,920.9 495.4,921.2 502,921.5 508.8,921.7 515.6,922 522.6,922.6 529.7,923.4 537,924.3 544.5,925.3 552.3,926.5 560.4,927.8 568.9,929.3 577.7,931.1 586.7,933.3 596,936 605.4,939.2 614.9,943.1 624.2,947.8 633.2,953.3 641.9,959.4 650.4,966.3 658.3,974 665.6,982.4 672.1,991.4 677.5,1001.2 681,1011.5 682.4,1022.3 681.7,1033.2Z" fill="#0037ff"/>
<path d="M674,1044 670.4,1054.2 665.7,1063.9 659.9,1073.1 653.5,1081.7 646.6,1089.7 639.6,1097.2 632.4,1104 625.1,1110.4 618,1116.4 611.2,1122.1 604.4,1127.4 597.6,1132.4 591.1,1137.2 584.7,1141.9 578.6,1146.6 572.8,1151.5 567,1156.3 561.2,1161.3 555.3,1166.2 549.4,1171.1 543.2,1176 536.9,1180.8 530.4,1185.7 523.6,1190.6 516.7,1195.9 509.5,1201.8 502.1,1208.5 494.1,1215.8 485.4,1223.8 476,1232.3 465.7,1241.4 454.2,1251.1 441.5,1261.6 427.1,1274 410.3,1289.2 390.3,1307.8 366.4,1329.6 336.8,1356.7 296.9,1395.4 246.5,1441.5 194.3,1477.8 145.4,1499 98.8,1509.8 56,1510.5 20.8,1499.2 -4.6,1476.8 -21,1446.4 -25.9,1408.7 -6.1,1357.1 38.7,1296.5 82.2,1244.7 112.5,1205.8 135.8,1174.6 155.7,1148.1 173.7,1125 190,1104.8 204.9,1086.9 218.1,1071.1 229.8,1056.9 240.6,1044 250.9,1032.2 261,1021.4 270.9,1011.5 280.6,1002.5 290.1,994.2 299.5,986.7 308.8,979.8 317.9,973.6 326.8,968 335.5,962.9 344,958.3 352.3,954.1 360.3,950.3 368.1,946.9 375.7,943.7 383.1,940.9 390.4,938.3 397.5,936 404.6,934 411.5,932.2 418.2,930.6 424.9,929.1 431.4,927.9 437.9,926.8 444.3,925.8 450.7,924.8 457,923.9 463.3,923.1 469.6,922.5 476,922.2 482.4,922.2 488.8,922.4 495.2,922.7 501.7,923 508.3,923.3 515.1,923.7 521.9,924.3 528.9,925.2 536,926.2 543.4,927.3 551,928.4 559,929.8 567.3,931.2 576,933 584.9,935.1 594,937.8 603.2,941 612.4,944.9 621.4,949.6 630.1,955 638.5,961.2 646.6,968.1 654.1,975.6 661.1,983.9 667.3,992.8 672.3,1002.3 675.6,1012.4 676.9,1022.9 676.3,1033.5Z" fill="#0041ff"/>
<path d="M669.3,1044 665.8,1053.9 661.2,1063.5 655.6,1072.4 649.4,1080.9 642.8,1088.7 635.9,1096 628.8,1102.7 621.7,1108.9 614.8,1114.7 608,1120.2 601.3,1125.3 594.6,1130.2 588.2,1134.8 582,1139.4 576,1144 570.2,1148.7 564.6,1153.4 558.9,1158.1 553.2,1162.9 547.3,1167.6 541.4,1172.3 535.2,1176.9 528.8,1181.6 522.3,1186.4 515.5,1191.5 508.6,1197.2 501.3,1203.6 493.5,1210.7 485.1,1218.4 476,1226.5 466,1235.3 454.9,1244.7 442.6,1255 428.6,1267 412.2,1282 392.8,1300.1 369.5,1321.4 340.9,1347.5 302.5,1384.5 254.2,1428.1 204.2,1462.5 157.3,1482.6 112.5,1492.9 71.4,1493.4 37.6,1482.4 12.9,1461 -3,1431.9 -8.2,1395.8 10.2,1346.5 52.3,1288.6 93.2,1239.1 121.8,1201.7 143.9,1171.5 162.7,1145.8 179.9,1123.3 195.5,1103.6 209.7,1086.2 222.5,1070.6 233.8,1056.7 244.2,1044 254.2,1032.4 264,1021.7 273.7,1012 283.1,1003 292.5,994.8 301.7,987.4 310.7,980.6 319.7,974.4 328.4,968.8 337,963.7 345.4,959.2 353.6,955 361.5,951.3 369.2,947.8 376.7,944.7 384,941.9 391.2,939.3 398.3,937 405.2,935.1 412.1,933.3 418.8,931.7 425.4,930.3 431.9,929.1 438.3,928 444.7,927.1 450.9,926.1 457.2,925.2 463.4,924.5 469.7,923.9 476,923.6 482.3,923.6 488.6,923.8 495,924.2 501.4,924.5 507.9,924.8 514.6,925.3 521.3,926 528.1,926.9 535.1,928 542.4,929.1 549.9,930.3 557.7,931.6 565.9,933 574.4,934.7 583.2,936.8 592.1,939.4 601.2,942.6 610.2,946.5 618.9,951.2 627.3,956.6 635.4,962.8 643.2,969.6 650.4,977.1 657,985.2 662.9,993.9 667.7,1003.2 670.9,1013.1 672.1,1023.4 671.5,1033.8Z" fill="#004bff"/>
<path d="M664.9,1044 661.5,1053.7 657,1063 651.6,1071.8 645.6,1080 639.1,1087.7 632.5,1094.8 625.5,1101.4 618.5,1107.5 611.7,1113.1 605,1118.5 598.4,1123.5 591.8,1128.1 585.5,1132.6 579.4,1137.1 573.5,1141.5 567.9,1146 562.3,1150.6 556.8,1155.2 551.2,1159.8 545.5,1164.3 539.6,1168.8 533.6,1173.3 527.4,1177.8 521,1182.4 514.4,1187.3 507.6,1192.9 500.6,1199.1 493,1205.9 484.9,1213.3 476,1221.1 466.3,1229.5 455.5,1238.6 443.6,1248.6 430,1260.4 414.1,1275 395.2,1292.8 372.6,1313.4 344.8,1338.6 308,1373.8 261.8,1415 214,1447.5 169,1466.5 126.1,1476.1 86.7,1476.3 54.3,1465.7 30.5,1445.1 15.1,1417.2 9.9,1382.6 26.9,1335.7 66.2,1280.6 104.6,1233.3 131.5,1197.4 152.3,1168.2 170.1,1143.4 186.4,1121.6 201.3,1102.4 214.9,1085.4 227.2,1070.2 238.1,1056.5 248.1,1044 257.9,1032.6 267.4,1022.1 276.8,1012.4 286,1003.6 295.1,995.5 304.1,988.1 312.9,981.4 321.7,975.3 330.3,969.7 338.7,964.7 346.9,960.2 354.9,956 362.7,952.3 370.3,948.8 377.7,945.7 385,942.9 392.1,940.4 399.1,938.1 406,936.2 412.8,934.5 419.4,932.9 425.9,931.5 432.4,930.3 438.7,929.3 445,928.4 451.2,927.5 457.4,926.6 463.6,925.9 469.8,925.4 476,925.1 482.2,925.1 488.5,925.3 494.7,925.6 501.1,926 507.5,926.4 514.1,926.9 520.7,927.6 527.4,928.6 534.2,929.7 541.3,930.8 548.7,932 556.4,933.3 564.5,934.7 572.9,936.4 581.6,938.4 590.4,941 599.3,944.2 608.1,948 616.6,952.7 624.7,958.1 632.6,964.2 640,971 646.9,978.4 653.3,986.4 658.9,995 663.5,1004.2 666.4,1013.8 667.6,1023.9 667,1034Z" fill="#0055ff"/>
<path d="M660.8,1044 657.5,1053.5 653.2,1062.6 647.9,1071.2 642.1,1079.3 635.8,1086.8 629.3,1093.8 622.5,1100.2 615.6,1106.2 608.9,1111.7 602.2,1116.9 595.7,1121.7 589.2,1126.2 583,1130.6 577,1134.9 571.2,1139.2 565.7,1143.6 560.3,1148.1 554.8,1152.5 549.3,1156.9 543.7,1161.3 538,1165.6 532.1,1169.9 526,1174.3 519.8,1178.7 513.4,1183.5 506.8,1188.8 499.9,1194.8 492.5,1201.4 484.6,1208.4 476,1216 466.6,1224.1 456.2,1232.8 444.5,1242.6 431.3,1254.1 415.9,1268.4 397.5,1285.7 375.5,1305.8 348.6,1330.1 313.2,1363.4 269.2,1402.3 223.5,1432.8 180.5,1450.7 139.5,1459.6 101.9,1459.5 70.8,1449.2 48.1,1429.3 33.3,1402.5 28.1,1369.4 43.7,1324.7 80.3,1272.4 116.2,1227.3 141.4,1193 161,1164.9 177.8,1140.9 193.2,1119.8 207.4,1101.1 220.4,1084.5 232.1,1069.6 242.6,1056.2 252.3,1044 261.8,1032.8 271,1022.5 280.1,1013 289.1,1004.3 297.9,996.3 306.7,989 315.3,982.3 323.9,976.3 332.2,970.8 340.5,965.7 348.5,961.2 356.4,957.1 364.1,953.4 371.5,950 378.8,946.8 386,944.1 393,941.5 399.9,939.3 406.8,937.4 413.5,935.7 420,934.2 426.5,932.8 432.9,931.6 439.2,930.6 445.4,929.7 451.5,928.8 457.6,928 463.7,927.3 469.9,926.8 476,926.5 482.2,926.5 488.3,926.7 494.5,927.1 500.8,927.5 507.1,927.9 513.5,928.4 520.1,929.2 526.7,930.2 533.4,931.4 540.4,932.5 547.6,933.7 555.2,935 563.2,936.4 571.5,938 580,940 588.8,942.5 597.5,945.6 606.2,949.4 614.5,954.1 622.3,959.5 629.9,965.6 637.1,972.3 643.7,979.6 649.8,987.5 655.2,996 659.5,1005 662.3,1014.5 663.4,1024.3 662.8,1034.2Z" fill="#005fff"/>
<path d="M657,1044 653.8,1053.3 649.6,1062.2 644.5,1070.7 638.8,1078.6 632.7,1086 626.3,1092.8 619.7,1099.2 612.9,1105 606.3,1110.4 599.7,1115.4 593.2,1120.1 586.8,1124.5 580.6,1128.7 574.8,1132.9 569.1,1137.1 563.7,1141.4 558.4,1145.7 553,1150 547.6,1154.2 542.1,1158.5 536.4,1162.6 530.7,1166.8 524.7,1171 518.7,1175.3 512.4,1179.9 506,1185.1 499.3,1190.8 492.1,1197.2 484.4,1203.9 476,1211.2 466.8,1219 456.7,1227.4 445.5,1236.9 432.6,1248.1 417.6,1262 399.7,1279 378.3,1298.5 352.3,1321.9 318.3,1353.5 276.3,1390 232.7,1418.6 191.7,1435.3 152.5,1443.5 116.7,1443.1 87.1,1432.9 65.4,1413.7 51.2,1388 46.1,1356.3 60.4,1313.9 94.4,1264.3 127.8,1221.4 151.3,1188.5 169.7,1161.6 185.5,1138.4 200.1,1117.9 213.5,1099.8 225.9,1083.6 237.1,1069.1 247.2,1056 256.6,1044 265.8,1033 274.7,1022.8 283.6,1013.5 292.3,1004.9 300.9,997.1 309.4,989.9 317.8,983.3 326.1,977.3 334.3,971.8 342.3,966.8 350.2,962.3 358,958.2 365.5,954.5 372.8,951.1 380,948 387.1,945.2 394,942.7 400.8,940.5 407.5,938.6 414.2,936.9 420.7,935.4 427.1,934.1 433.4,933 439.6,932 445.7,931.1 451.8,930.2 457.8,929.4 463.9,928.7 469.9,928.2 476,928 482.1,928 488.2,928.2 494.3,928.5 500.5,928.9 506.7,929.4 513.1,930 519.5,930.8 526,931.8 532.6,933 539.4,934.1 546.6,935.3 554,936.6 561.9,937.9 570.1,939.5 578.6,941.4 587.2,943.9 595.9,946.9 604.3,950.8 612.5,955.4 620.1,960.8 627.4,966.8 634.3,973.5 640.8,980.8 646.6,988.6 651.8,996.9 655.9,1005.8 658.6,1015.1 659.6,1024.7 659,1034.4Z" fill="#0069ff"/>
<path d="M653.6,1044 650.5,1053.1 646.4,1061.9 641.5,1070.2 635.9,1078 629.9,1085.2 623.6,1092 617.1,1098.2 610.5,1103.9 603.9,1109.2 597.4,1114.1 590.9,1118.6 584.6,1122.9 578.5,1127 572.8,1131.1 567.2,1135.2 561.9,1139.4 556.6,1143.5 551.3,1147.7 546,1151.8 540.6,1155.9 535.1,1159.9 529.4,1163.9 523.6,1167.9 517.6,1172.1 511.5,1176.6 505.2,1181.6 498.7,1187.2 491.7,1193.2 484.2,1199.7 476,1206.7 467.1,1214.2 457.3,1222.3 446.3,1231.5 433.8,1242.5 419.2,1256.1 401.7,1272.6 381,1291.6 355.8,1314.1 323.2,1344 283.1,1378.2 241.6,1405 202.4,1420.5 165.1,1427.9 131,1427.1 102.9,1417.1 82.2,1398.5 68.7,1373.8 63.8,1343.5 76.9,1303.2 108.3,1256.3 139.2,1215.6 161.2,1184.2 178.3,1158.3 193.2,1135.9 206.9,1116.1 219.7,1098.5 231.4,1082.7 242.2,1068.6 251.9,1055.7 261,1044 269.8,1033.2 278.5,1023.2 287,1014.1 295.5,1005.6 303.8,997.9 312.1,990.7 320.3,984.2 328.4,978.3 336.4,972.9 344.2,967.9 351.9,963.4 359.5,959.4 366.9,955.6 374.1,952.2 381.2,949.2 388.1,946.4 394.9,943.9 401.7,941.7 408.3,939.8 414.9,938.1 421.3,936.7 427.6,935.4 433.9,934.3 440,933.3 446.1,932.4 452.1,931.6 458.1,930.8 464,930.1 470,929.6 476,929.4 482,929.3 488,929.6 494.1,929.9 500.2,930.3 506.3,930.8 512.6,931.4 518.9,932.3 525.3,933.3 531.8,934.5 538.5,935.7 545.6,936.9 553,938.1 560.7,939.4 568.9,940.9 577.3,942.7 585.8,945.1 594.3,948.2 602.7,952 610.6,956.6 618.1,962 625.2,968 631.9,974.6 638.1,981.8 643.7,989.5 648.6,997.7 652.6,1006.5 655.1,1015.6 656.1,1025.1 655.5,1034.6Z" fill="#0073ff"/>
<path d="M650.5,1044 647.4,1053 643.5,1061.6 638.7,1069.8 633.2,1077.4 627.4,1084.6 621.2,1091.2 614.8,1097.3 608.2,1102.9 601.7,1108.1 595.3,1112.9 588.9,1117.3 582.6,1121.5 576.6,1125.5 570.9,1129.5 565.5,1133.5 560.2,1137.5 555,1141.6 549.9,1145.7 544.6,1149.6 539.3,1153.6 533.8,1157.4 528.2,1161.3 522.5,1165.2 516.7,1169.2 510.7,1173.5 504.6,1178.4 498.1,1183.8 491.3,1189.6 484,1195.9 476,1202.5 467.3,1209.7 457.8,1217.6 447.1,1226.5 434.9,1237.2 420.7,1250.5 403.7,1266.6 383.5,1285.1 359,1306.7 327.8,1334.9 289.5,1367 250,1391.9 212.7,1406.4 177.2,1413 144.8,1411.8 118.1,1401.9 98.5,1383.9 85.6,1360.2 80.8,1331.1 92.8,1292.9 121.7,1248.5 150.3,1209.9 170.7,1179.9 186.7,1155 200.7,1133.5 213.6,1114.3 225.6,1097.2 236.8,1081.9 247.1,1068.1 256.4,1055.5 265.2,1044 273.7,1033.4 282.2,1023.6 290.5,1014.6 298.6,1006.3 306.7,998.6 314.8,991.6 322.7,985.2 330.6,979.3 338.4,973.9 346,969 353.6,964.5 361,960.5 368.3,956.8 375.3,953.4 382.3,950.3 389.1,947.5 395.9,945 402.5,942.8 409.1,941 415.6,939.3 421.9,937.9 428.2,936.6 434.4,935.5 440.4,934.6 446.5,933.7 452.4,932.9 458.3,932.1 464.2,931.4 470.1,931 476,930.7 481.9,930.7 487.9,930.9 493.9,931.3 499.9,931.7 506,932.2 512.1,932.8 518.4,933.7 524.6,934.7 531.1,935.9 537.7,937.1 544.6,938.3 551.9,939.5 559.6,940.7 567.7,942.2 576,944 584.5,946.3 592.9,949.3 601.1,953.1 608.9,957.7 616.3,963 623.2,969 629.6,975.6 635.6,982.7 641.1,990.4 645.8,998.5 649.6,1007.1 652,1016.1 652.9,1025.4 652.4,1034.8Z" fill="#007dff"/>
<path d="M647.7,1044 644.8,1052.8 640.9,1061.3 636.2,1069.4 630.9,1076.9 625.1,1084 619.1,1090.5 612.8,1096.5 606.3,1102 599.8,1107.1 593.4,1111.8 587.1,1116.1 580.9,1120.2 575,1124.1 569.3,1128 563.9,1131.9 558.7,1135.9 553.6,1139.9 548.5,1143.8 543.3,1147.7 538.1,1151.5 532.7,1155.2 527.2,1158.9 521.6,1162.7 515.8,1166.6 510,1170.8 503.9,1175.5 497.6,1180.7 491,1186.3 483.8,1192.3 476,1198.7 467.5,1205.6 458.2,1213.3 447.8,1221.9 436,1232.3 422.1,1245.3 405.5,1261 385.8,1278.9 362.1,1299.7 332.1,1326.4 295.7,1356.4 258,1379.6 222.5,1393 188.6,1398.9 157.9,1397.3 132.6,1387.4 113.9,1370 101.7,1347.1 97.1,1319.3 108,1283 134.6,1241.1 160.9,1204.5 179.8,1175.9 194.8,1152 207.8,1131.1 220,1112.6 231.3,1096 242,1081.1 251.8,1067.6 260.8,1055.3 269.2,1044 277.5,1033.6 285.7,1024 293.7,1015.1 301.6,1006.9 309.5,999.4 317.3,992.4 325,986.1 332.7,980.2 340.3,974.9 347.8,970 355.2,965.5 362.5,961.5 369.6,957.8 376.5,954.4 383.4,951.4 390.1,948.6 396.7,946.1 403.3,944 409.8,942.1 416.2,940.5 422.5,939.1 428.7,937.8 434.8,936.7 440.8,935.8 446.8,935 452.7,934.2 458.5,933.4 464.3,932.7 470.1,932.3 476,932 481.9,932 487.8,932.2 493.7,932.5 499.6,932.9 505.6,933.4 511.7,934.1 517.8,935 524,936.1 530.4,937.3 536.9,938.5 543.8,939.7 551,940.8 558.6,942 566.6,943.4 574.9,945.1 583.3,947.4 591.6,950.4 599.7,954.1 607.4,958.6 614.6,964 621.3,969.9 627.6,976.5 633.5,983.6 638.7,991.1 643.3,999.2 646.9,1007.7 649.3,1016.6 650.1,1025.7 649.6,1034.9Z" fill="#0087ff"/>
<path d="M645.2,1044 642.3,1052.7 638.5,1061.1 633.9,1069 628.7,1076.5 623.1,1083.4 617.1,1089.9 610.9,1095.8 604.5,1101.2 598.1,1106.2 591.7,1110.8 585.4,1115.1 579.3,1119 573.4,1122.9 567.8,1126.7 562.5,1130.5 557.4,1134.4 552.4,1138.3 547.3,1142.1 542.2,1145.9 536.9,1149.6 531.6,1153.2 526.2,1156.8 520.7,1160.4 515,1164.1 509.3,1168.2 503.4,1172.8 497.2,1177.8 490.6,1183.2 483.6,1189 476,1195.1 467.7,1201.8 458.6,1209.1 448.5,1217.5 437,1227.7 423.4,1240.3 407.2,1255.6 388.1,1273.1 365.1,1293.1 336.3,1318.2 301.6,1346 265.9,1367.5 232.1,1379.7 200,1384.8 170.9,1382.8 147,1373 129.5,1356 117.9,1334 113.5,1307.4 123.3,1273 147.5,1233.7 171.6,1199.1 189,1171.8 202.8,1148.9 214.9,1128.8 226.3,1110.9 237,1094.8 247.1,1080.3 256.5,1067.1 265.1,1055.1 273.2,1044 281.2,1033.8 289.1,1024.4 296.9,1015.6 304.6,1007.6 312.2,1000.1 319.8,993.2 327.3,986.9 334.8,981.1 342.2,975.8 349.5,971 356.7,966.5 363.8,962.5 370.8,958.8 377.7,955.4 384.4,952.4 391,949.6 397.6,947.2 404.1,945 410.5,943.1 416.9,941.6 423.1,940.2 429.2,938.9 435.3,937.9 441.2,937 447.1,936.2 452.9,935.3 458.7,934.6 464.4,933.9 470.2,933.5 476,933.2 481.8,933.2 487.6,933.4 493.5,933.7 499.4,934.1 505.3,934.7 511.3,935.3 517.4,936.2 523.5,937.4 529.7,938.6 536.2,939.8 542.9,940.9 550.1,942 557.6,943.2 565.6,944.5 573.8,946.2 582.2,948.4 590.5,951.3 598.5,955 606.1,959.5 613.1,964.8 619.7,970.8 625.9,977.3 631.5,984.3 636.6,991.8 641,999.8 644.5,1008.2 646.8,1017 647.6,1026 647,1035Z" fill="#0091ff"/>
<path d="M642.9,1044 640.1,1052.6 636.3,1060.9 631.9,1068.7 626.8,1076 621.2,1082.9 615.4,1089.3 609.2,1095.1 602.9,1100.5 596.5,1105.4 590.2,1109.9 583.9,1114.1 577.8,1118 572,1121.7 566.5,1125.5 561.2,1129.2 556.2,1133 551.2,1136.8 546.2,1140.6 541.1,1144.2 535.9,1147.8 530.7,1151.3 525.3,1154.7 519.8,1158.2 514.3,1161.9 508.6,1165.8 502.8,1170.2 496.8,1175 490.3,1180.2 483.4,1185.8 476,1191.7 467.9,1198.1 459.1,1205.1 449.2,1213.3 437.9,1223.2 424.7,1235.6 408.9,1250.5 390.2,1267.5 368,1286.7 340.3,1310.3 307.5,1335.9 273.7,1355.6 241.6,1366.6 211.4,1370.8 184,1368.2 161.6,1358.4 145.2,1341.8 134.5,1320.6 130.3,1295.1 139.1,1262.8 160.8,1226 182.5,1193.6 198.3,1167.6 211,1145.7 222.2,1126.5 232.8,1109.2 242.8,1093.6 252.3,1079.4 261.2,1066.6 269.4,1054.8 277.3,1044 285,1034 292.6,1024.7 300.1,1016.1 307.6,1008.2 315,1000.8 322.3,994.1 329.6,987.8 336.8,982 344,976.8 351.2,971.9 358.2,967.5 365.2,963.5 372,959.8 378.8,956.4 385.4,953.4 391.9,950.6 398.4,948.2 404.8,946 411.2,944.2 417.5,942.6 423.6,941.2 429.7,940 435.7,939 441.6,938.1 447.4,937.3 453.1,936.5 458.9,935.7 464.6,935.1 470.3,934.6 476,934.4 481.7,934.3 487.5,934.5 493.3,934.8 499.1,935.3 505,935.8 510.9,936.5 516.9,937.4 522.9,938.6 529.1,939.8 535.5,941 542.2,942.1 549.2,943.2 556.8,944.3 564.7,945.5 572.9,947.1 581.2,949.3 589.4,952.2 597.3,955.8 604.8,960.3 611.8,965.6 618.2,971.5 624.2,978 629.7,985 634.7,992.4 638.9,1000.3 642.3,1008.7 644.5,1017.3 645.2,1026.2 644.7,1035.2Z" fill="#009bff"/>
<path d="M640.8,1044 638,1052.5 634.3,1060.6 630,1068.4 625,1075.7 619.5,1082.5 613.7,1088.7 607.6,1094.5 601.4,1099.8 595,1104.7 588.8,1109.1 582.5,1113.2 576.5,1117 570.7,1120.7 565.2,1124.3 560,1128 555,1131.8 550.1,1135.5 545.1,1139.1 540.1,1142.7 535,1146.1 529.7,1149.5 524.4,1152.8 519.1,1156.2 513.6,1159.7 508,1163.5 502.3,1167.8 496.3,1172.4 490,1177.4 483.3,1182.8 476,1188.4 468.1,1194.5 459.5,1201.3 449.8,1209.2 438.8,1218.9 425.9,1231 410.5,1245.6 392.3,1262.1 370.7,1280.4 344.3,1302.5 313.2,1326 281.3,1343.8 251.1,1353.5 222.7,1356.8 197.1,1353.7 176.3,1343.7 161,1327.6 151.1,1307.1 147.3,1282.8 155,1252.5 174.1,1218.3 193.4,1188 207.7,1163.5 219.2,1142.6 229.5,1124.1 239.2,1107.4 248.6,1092.3 257.5,1078.6 265.9,1066.1 273.8,1054.6 281.3,1044 288.8,1034.2 296.1,1025.1 303.4,1016.7 310.6,1008.8 317.7,1001.6 324.8,994.9 331.8,988.7 338.9,983 345.9,977.7 352.8,972.9 359.7,968.5 366.5,964.5 373.3,960.8 379.9,957.4 386.4,954.4 392.8,951.6 399.2,949.2 405.5,947 411.8,945.2 418,943.6 424.2,942.3 430.2,941.1 436.1,940.1 441.9,939.2 447.7,938.4 453.4,937.6 459,936.9 464.7,936.2 470.3,935.8 476,935.5 481.7,935.4 487.4,935.6 493.1,935.9 498.9,936.3 504.7,936.9 510.6,937.6 516.5,938.5 522.4,939.7 528.5,940.9 534.8,942.1 541.4,943.2 548.5,944.3 555.9,945.3 563.8,946.5 572,948 580.2,950.2 588.4,953 596.3,956.6 603.7,961.1 610.5,966.3 616.9,972.2 622.7,978.7 628.1,985.6 632.9,993 637,1000.9 640.3,1009.1 642.3,1017.7 643.1,1026.4 642.5,1035.3Z" fill="#00a5ff"/>
<path d="M638.8,1044 636.1,1052.4 632.5,1060.4 628.2,1068.1 623.3,1075.3 617.9,1082 612.2,1088.3 606.2,1094 599.9,1099.2 593.7,1104 587.4,1108.3 581.2,1112.3 575.2,1116.1 569.4,1119.7 564,1123.3 558.9,1126.9 553.9,1130.6 549,1134.2 544.1,1137.7 539.1,1141.2 534,1144.5 528.9,1147.8 523.6,1151 518.3,1154.3 512.9,1157.7 507.4,1161.4 501.8,1165.5 495.9,1169.9 489.7,1174.8 483.1,1179.9 476,1185.3 468.3,1191.1 459.8,1197.7 450.4,1205.3 439.7,1214.7 427.1,1226.6 412.1,1240.8 394.3,1256.8 373.4,1274.4 348.1,1294.9 318.8,1316.3 288.8,1332.2 260.4,1340.7 233.8,1343.1 210.1,1339.3 190.8,1329.2 176.8,1313.4 167.7,1293.6 164.2,1270.5 170.8,1242.2 187.4,1210.6 204.4,1182.4 217,1159.3 227.4,1139.4 236.7,1121.7 245.7,1105.7 254.4,1091.1 262.7,1077.8 270.7,1065.6 278.1,1054.4 285.4,1044 292.5,1034.4 299.6,1025.5 306.6,1017.2 313.6,1009.5 320.4,1002.3 327.3,995.7 334.1,989.5 340.9,983.9 347.7,978.6 354.5,973.8 361.2,969.5 367.9,965.4 374.5,961.8 380.9,958.4 387.3,955.3 393.7,952.6 400,950.1 406.3,948 412.5,946.2 418.6,944.6 424.7,943.3 430.6,942.1 436.5,941.1 442.3,940.2 448,939.5 453.6,938.7 459.2,937.9 464.8,937.3 470.4,936.8 476,936.6 481.6,936.5 487.3,936.6 493,936.9 498.7,937.4 504.4,937.9 510.2,938.7 516.1,939.6 522,940.8 528,942 534.2,943.2 540.7,944.3 547.7,945.3 555.1,946.3 563,947.4 571.1,948.9 579.4,950.9 587.5,953.7 595.3,957.3 602.6,961.8 609.4,967 615.6,972.9 621.3,979.3 626.6,986.2 631.2,993.6 635.2,1001.3 638.3,1009.5 640.3,1018 641.1,1026.7 640.5,1035.4Z" fill="#00b0ff"/>
<path d="M636.9,1044 634.2,1052.3 630.7,1060.3 626.5,1067.8 621.7,1075 616.4,1081.6 610.8,1087.8 604.8,1093.4 598.6,1098.6 592.4,1103.3 586.1,1107.6 580,1111.5 574,1115.2 568.3,1118.7 562.9,1122.3 557.8,1125.8 552.9,1129.4 548.1,1133 543.2,1136.5 538.2,1139.8 533.2,1143.1 528.1,1146.2 522.9,1149.3 517.6,1152.4 512.3,1155.7 506.9,1159.3 501.3,1163.3 495.6,1167.6 489.5,1172.2 483,1177.1 476,1182.2 468.5,1187.9 460.2,1194.2 451,1201.6 440.6,1210.8 428.2,1222.3 413.6,1236.2 396.2,1251.8 376,1268.6 351.9,1287.6 324.3,1306.8 296.1,1320.9 269.5,1328.2 244.7,1329.6 222.8,1325.3 205,1315 192.2,1299.5 184,1280.4 180.9,1258.4 186.4,1232 200.6,1203 215.1,1176.9 226.2,1155.2 235.5,1136.3 243.9,1119.4 252.1,1104 260.1,1089.9 267.9,1077 275.4,1065.1 282.5,1054.1 289.4,1044 296.3,1034.6 303.1,1025.8 309.8,1017.7 316.5,1010.1 323.1,1003 329.7,996.5 336.3,990.4 343,984.8 349.5,979.6 356.1,974.8 362.7,970.4 369.2,966.4 375.6,962.7 382,959.4 388.3,956.3 394.6,953.6 400.8,951.1 407,949 413.1,947.1 419.2,945.6 425.2,944.3 431.1,943.1 436.9,942.1 442.6,941.3 448.3,940.5 453.8,939.7 459.4,939 464.9,938.4 470.4,937.9 476,937.6 481.6,937.5 487.2,937.6 492.8,937.9 498.5,938.4 504.1,938.9 509.9,939.7 515.7,940.7 521.5,941.8 527.4,943.1 533.6,944.3 540.1,945.3 547,946.3 554.4,947.2 562.2,948.3 570.3,949.7 578.5,951.7 586.6,954.4 594.4,958 601.6,962.4 608.3,967.6 614.4,973.5 620,979.9 625.1,986.8 629.7,994.1 633.5,1001.8 636.5,1009.9 638.5,1018.3 639.1,1026.9 638.6,1035.5Z" fill="#00baff"/>
<path d="M635.1,1044 632.5,1052.2 629,1060.1 624.9,1067.6 620.2,1074.6 615,1081.2 609.4,1087.3 603.5,1092.9 597.4,1098 591.2,1102.7 584.9,1106.9 578.8,1110.7 572.8,1114.3 567.2,1117.8 561.8,1121.3 556.8,1124.8 551.9,1128.3 547.1,1131.8 542.3,1135.2 537.4,1138.5 532.4,1141.6 527.3,1144.7 522.1,1147.6 516.9,1150.7 511.7,1153.9 506.4,1157.3 500.9,1161.1 495.2,1165.3 489.2,1169.7 482.8,1174.4 476,1179.3 468.6,1184.7 460.6,1190.8 451.6,1197.9 441.4,1206.9 429.3,1218.2 415,1231.7 398.1,1246.8 378.5,1262.9 355.5,1280.5 329.6,1297.6 303.3,1310 278.4,1316 255.3,1316.5 235,1311.6 218.8,1301.2 207.2,1286.1 199.8,1267.6 197.1,1246.7 201.6,1222.2 213.4,1195.6 225.7,1171.5 235.3,1151.2 243.4,1133.3 250.9,1117.1 258.4,1102.3 265.7,1088.7 273,1076.2 280,1064.6 286.7,1053.9 293.4,1044 300,1034.8 306.5,1026.2 313,1018.2 319.5,1010.7 325.8,1003.8 332.2,997.3 338.6,991.2 345,985.7 351.4,980.5 357.8,975.7 364.2,971.4 370.5,967.4 376.8,963.7 383.1,960.3 389.3,957.3 395.4,954.5 401.6,952.1 407.7,949.9 413.7,948.1 419.8,946.6 425.7,945.3 431.5,944.1 437.3,943.2 443,942.3 448.6,941.6 454.1,940.8 459.5,940.1 465,939.5 470.5,939 476,938.7 481.5,938.6 487.1,938.7 492.6,938.9 498.2,939.4 503.9,940 509.6,940.7 515.3,941.7 521,942.9 526.9,944.1 533,945.3 539.4,946.4 546.3,947.3 553.6,948.1 561.4,949.1 569.5,950.5 577.7,952.4 585.8,955.1 593.5,958.6 600.7,963 607.3,968.2 613.3,974.1 618.8,980.4 623.7,987.3 628.2,994.6 631.9,1002.2 634.8,1010.2 636.7,1018.6 637.3,1027 636.8,1035.6Z" fill="#00c4ff"/>
<path d="M633.4,1044 630.8,1052.1 627.4,1059.9 623.3,1067.3 618.7,1074.3 613.5,1080.9 608,1086.9 602.2,1092.4 596.1,1097.5 590,1102.1 583.8,1106.2 577.6,1110 571.7,1113.5 566.1,1116.9 560.8,1120.4 555.8,1123.8 551,1127.3 546.2,1130.7 541.4,1134 536.5,1137.2 531.6,1140.3 526.5,1143.2 521.4,1146.1 516.3,1149 511.1,1152 505.8,1155.4 500.5,1159.1 494.9,1163.1 489,1167.4 482.7,1171.8 476,1176.5 468.8,1181.7 460.9,1187.5 452.2,1194.4 442.2,1203.2 430.4,1214.2 416.4,1227.4 400,1242.1 381,1257.4 359,1273.5 334.7,1288.8 310.1,1299.4 286.9,1304.3 265.5,1304 246.9,1298.5 232,1288 221.5,1273.1 215,1255.4 212.5,1235.4 216.2,1212.7 225.7,1188.5 235.8,1166.4 244,1147.3 251.1,1130.3 257.8,1114.9 264.5,1100.7 271.2,1087.5 277.9,1075.4 284.5,1064.1 290.9,1053.7 297.3,1044 303.6,1035 309.9,1026.5 316.2,1018.7 322.4,1011.3 328.5,1004.5 334.7,998.1 340.8,992.1 347,986.6 353.2,981.4 359.4,976.7 365.6,972.3 371.8,968.3 378,964.7 384.2,961.3 390.2,958.2 396.3,955.5 402.3,953 408.4,950.9 414.4,949.1 420.3,947.6 426.2,946.3 432,945.2 437.7,944.2 443.3,943.4 448.8,942.6 454.3,941.9 459.7,941.1 465.1,940.5 470.6,940 476,939.7 481.5,939.6 487,939.7 492.5,940 498,940.4 503.6,941 509.2,941.7 514.9,942.7 520.6,943.9 526.4,945.2 532.4,946.3 538.8,947.4 545.6,948.2 552.9,949 560.7,950 568.7,951.3 576.9,953.1 584.9,955.8 592.6,959.3 599.7,963.7 606.2,968.8 612.1,974.6 617.5,981 622.4,987.8 626.7,995 630.3,1002.6 633.1,1010.6 634.9,1018.8 635.5,1027.2 635,1035.7Z" fill="#00ceff"/>
<path d="M631.6,1044 629.1,1052 625.8,1059.7 621.8,1067.1 617.2,1074 612.1,1080.5 606.7,1086.5 600.9,1091.9 594.9,1096.9 588.8,1101.5 582.6,1105.5 576.5,1109.3 570.6,1112.7 565,1116.1 559.8,1119.4 554.8,1122.8 550.1,1126.2 545.3,1129.6 540.6,1132.9 535.7,1136 530.8,1138.9 525.8,1141.7 520.7,1144.5 515.7,1147.3 510.5,1150.3 505.4,1153.5 500,1157.1 494.5,1161 488.7,1165 482.6,1169.3 476,1173.8 468.9,1178.7 461.3,1184.3 452.7,1191.1 442.9,1199.5 431.5,1210.3 417.8,1223.1 401.8,1237.4 383.4,1252 362.5,1266.8 339.6,1280.2 316.7,1289.3 295,1293.1 275.2,1292 258,1286.1 244.6,1275.4 235,1261 229.3,1243.8 227.1,1224.8 229.9,1203.8 237.3,1181.8 245.5,1161.5 252.3,1143.6 258.4,1127.5 264.3,1112.8 270.4,1099.1 276.5,1086.4 282.7,1074.6 288.9,1063.7 295,1053.5 301.1,1044 307.2,1035.2 313.3,1026.9 319.3,1019.2 325.2,1012 331.2,1005.2 337.1,998.9 343,993 349,987.5 355,982.3 361,977.6 367.1,973.3 373.2,969.3 379.2,965.6 385.2,962.3 391.2,959.2 397.2,956.5 403.1,954 409.1,951.9 415,950.1 420.9,948.6 426.7,947.3 432.5,946.2 438.1,945.3 443.7,944.5 449.1,943.7 454.5,942.9 459.9,942.2 465.2,941.6 470.6,941.1 476,940.8 481.4,940.7 486.9,940.7 492.3,941 497.8,941.4 503.3,942 508.9,942.8 514.5,943.8 520.1,945 525.8,946.2 531.8,947.4 538.1,948.4 544.9,949.2 552.2,949.9 559.9,950.8 568,952 576.1,953.9 584.1,956.5 591.7,959.9 598.8,964.3 605.2,969.4 611,975.2 616.3,981.5 621,988.3 625.2,995.5 628.8,1003.1 631.5,1011 633.2,1019.1 633.8,1027.4 633.2,1035.8Z" fill="#00d8ff"/>
<path d="M629.9,1044 627.4,1051.9 624.1,1059.6 620.2,1066.8 615.7,1073.7 610.7,1080.1 605.3,1086 599.6,1091.4 593.6,1096.4 587.5,1100.8 581.4,1104.9 575.3,1108.5 569.5,1111.9 563.9,1115.2 558.8,1118.5 553.9,1121.9 549.1,1125.2 544.4,1128.5 539.7,1131.7 534.9,1134.7 530,1137.6 525.1,1140.3 520.1,1143 515,1145.7 510,1148.6 504.9,1151.7 499.6,1155.2 494.2,1158.9 488.5,1162.8 482.4,1166.9 476,1171.2 469.1,1175.9 461.6,1181.3 453.2,1187.8 443.7,1196 432.5,1206.4 419.1,1219 403.5,1232.8 385.7,1246.7 365.8,1260.3 344.3,1272 322.9,1279.7 302.7,1282.6 284.3,1280.8 268.5,1274.4 256.2,1263.8 247.6,1249.6 242.5,1233.1 240.5,1215.1 242.6,1195.6 248.1,1175.6 254.5,1156.8 260.2,1140.1 265.4,1124.8 270.6,1110.7 276,1097.6 281.6,1085.3 287.4,1073.9 293.2,1063.2 298.9,1053.3 304.8,1044 310.6,1035.3 316.5,1027.2 322.3,1019.7 328.1,1012.6 333.8,1005.9 339.5,999.6 345.2,993.8 351,988.3 356.8,983.3 362.7,978.6 368.6,974.3 374.5,970.3 380.5,966.6 386.4,963.3 392.2,960.2 398.1,957.5 404,955 409.8,952.9 415.7,951.1 421.5,949.6 427.3,948.4 432.9,947.3 438.5,946.4 444,945.6 449.4,944.8 454.8,944.1 460.1,943.4 465.4,942.7 470.7,942.2 476,941.9 481.4,941.7 486.7,941.8 492.2,942 497.6,942.4 503.1,943 508.5,943.8 514.1,944.8 519.6,946 525.3,947.3 531.2,948.4 537.4,949.4 544.2,950.2 551.4,950.9 559.1,951.7 567.1,952.9 575.2,954.6 583.2,957.2 590.8,960.6 597.7,964.9 604.1,970 609.8,975.8 615,982.1 619.7,988.9 623.8,996 627.2,1003.5 629.8,1011.3 631.4,1019.4 632,1027.6 631.5,1035.9Z" fill="#00e2ff"/>
<path d="M628.1,1044 625.6,1051.8 622.4,1059.4 618.6,1066.6 614.2,1073.4 609.2,1079.7 603.9,1085.6 598.2,1090.9 592.3,1095.8 586.3,1100.2 580.2,1104.2 574.2,1107.8 568.4,1111.1 562.9,1114.3 557.7,1117.6 552.9,1120.9 548.2,1124.2 543.5,1127.4 538.9,1130.5 534.1,1133.5 529.3,1136.2 524.3,1138.9 519.4,1141.5 514.4,1144.1 509.4,1146.9 504.4,1149.9 499.2,1153.2 493.9,1156.8 488.3,1160.6 482.3,1164.5 476,1168.6 469.2,1173.1 461.9,1178.3 453.7,1184.6 444.4,1192.6 433.5,1202.7 420.5,1214.9 405.3,1228.2 388,1241.5 369,1254 348.8,1264.2 328.8,1270.7 309.8,1272.7 292.7,1270.4 278.1,1263.7 266.9,1253.1 259,1239.4 254.4,1223.5 252.6,1206.3 254,1188.2 258,1169.9 262.9,1152.6 267.5,1136.8 271.9,1122.3 276.4,1108.8 281.3,1096.2 286.4,1084.3 291.8,1073.2 297.2,1062.8 302.7,1053.1 308.3,1044 314,1035.5 319.7,1027.6 325.3,1020.1 330.8,1013.1 336.3,1006.6 341.8,1000.4 347.4,994.6 353,989.2 358.7,984.2 364.4,979.6 370.1,975.3 375.9,971.3 381.7,967.7 387.5,964.3 393.3,961.3 399,958.5 404.8,956.1 410.6,954 416.4,952.2 422.1,950.7 427.8,949.5 433.4,948.4 439,947.5 444.4,946.7 449.7,945.9 455,945.2 460.2,944.5 465.5,943.9 470.7,943.4 476,943 481.3,942.9 486.6,942.9 492,943.1 497.4,943.5 502.8,944.1 508.2,944.9 513.6,945.9 519.1,947.1 524.7,948.3 530.6,949.5 536.7,950.5 543.4,951.2 550.6,951.8 558.3,952.6 566.3,953.7 574.3,955.4 582.3,958 589.8,961.3 596.7,965.6 603,970.7 608.6,976.4 613.7,982.7 618.2,989.4 622.2,996.5 625.5,1003.9 628.1,1011.7 629.6,1019.7 630.2,1027.8 629.6,1035.9Z" fill="#00ecff"/>
<path d="M626.2,1044 623.8,1051.7 620.7,1059.2 616.9,1066.3 612.5,1073 607.7,1079.3 602.4,1085.1 596.8,1090.4 591,1095.2 585,1099.5 578.9,1103.4 573,1107 567.2,1110.3 561.8,1113.4 556.7,1116.6 551.9,1119.9 547.2,1123.1 542.6,1126.3 538,1129.3 533.3,1132.2 528.5,1134.9 523.6,1137.4 518.7,1139.9 513.8,1142.5 508.9,1145.2 503.9,1148.1 498.8,1151.3 493.5,1154.8 488,1158.4 482.2,1162.2 476,1166.1 469.4,1170.4 462.2,1175.4 454.2,1181.4 445.1,1189.2 434.5,1199 421.8,1210.9 407,1223.7 390.3,1236.4 372.1,1247.8 353.1,1256.8 334.3,1262.3 316.4,1263.6 300.4,1260.9 286.8,1254.1 276.4,1243.6 269.1,1230.3 264.9,1215 263.2,1198.6 264,1181.7 266.7,1164.8 270.4,1148.8 274.1,1133.9 277.9,1120.1 281.8,1107.1 286.2,1094.9 290.9,1083.3 295.9,1072.5 301.1,1062.4 306.3,1052.9 311.7,1044 317.2,1035.7 322.7,1027.9 328.1,1020.6 333.5,1013.7 338.8,1007.2 344.2,1001.2 349.6,995.5 355,990.1 360.5,985.1 366.1,980.5 371.7,976.3 377.3,972.3 383,968.7 388.7,965.4 394.3,962.3 400,959.6 405.7,957.2 411.4,955.1 417.1,953.3 422.8,951.8 428.4,950.6 434,949.6 439.4,948.7 444.8,947.9 450,947.1 455.3,946.4 460.4,945.7 465.6,945.1 470.8,944.6 476,944.2 481.2,944.1 486.5,944.1 491.8,944.3 497.1,944.7 502.5,945.3 507.8,946.1 513.2,947.1 518.6,948.3 524.2,949.5 529.9,950.6 536,951.6 542.6,952.3 549.8,952.9 557.4,953.6 565.4,954.6 573.4,956.3 581.2,958.8 588.7,962.1 595.5,966.4 601.7,971.4 607.3,977.1 612.3,983.3 616.7,990 620.6,997 623.8,1004.4 626.2,1012.1 627.8,1020 628.3,1028 627.8,1036Z" fill="#00f6ff"/>
<path d="M624.3,1044 621.9,1051.6 618.8,1059 615.1,1066 610.8,1072.7 606,1078.8 600.8,1084.6 595.3,1089.8 589.5,1094.6 583.6,1098.8 577.6,1102.7 571.7,1106.1 566,1109.4 560.6,1112.5 555.6,1115.6 550.8,1118.8 546.2,1122 541.7,1125.1 537.1,1128.1 532.4,1130.9 527.7,1133.5 522.9,1136 518,1138.4 513.2,1140.8 508.3,1143.4 503.4,1146.3 498.4,1149.4 493.2,1152.7 487.8,1156.2 482.1,1159.8 476,1163.6 469.5,1167.7 462.5,1172.5 454.7,1178.4 445.8,1185.9 435.4,1195.4 423.1,1206.9 408.7,1219.3 392.6,1231.4 375.2,1241.9 357.2,1249.8 339.3,1254.5 322.4,1255.4 307.2,1252.5 294.4,1245.7 284.6,1235.4 277.7,1222.5 273.7,1207.9 272,1192.2 272.3,1176.3 274.2,1160.5 276.9,1145.4 280,1131.3 283.2,1118 286.7,1105.5 290.7,1093.7 295.1,1082.5 299.8,1071.9 304.7,1062 309.7,1052.7 315,1044 320.3,1035.8 325.6,1028.2 330.9,1021 336.1,1014.3 341.3,1007.9 346.5,1001.9 351.7,996.3 357,991 362.3,986.1 367.8,981.5 373.3,977.3 378.8,973.4 384.3,969.8 389.9,966.5 395.4,963.4 401,960.7 406.6,958.3 412.2,956.2 417.9,954.5 423.5,953 429,951.8 434.5,950.8 439.9,949.9 445.2,949.1 450.4,948.4 455.5,947.7 460.6,947 465.7,946.4 470.9,945.9 476,945.5 481.2,945.3 486.4,945.3 491.6,945.5 496.9,945.9 502.1,946.5 507.4,947.3 512.7,948.3 518.1,949.5 523.6,950.7 529.2,951.8 535.3,952.7 541.8,953.4 548.9,954 556.5,954.6 564.4,955.6 572.3,957.3 580.1,959.7 587.5,963 594.3,967.2 600.4,972.2 605.9,977.8 610.7,984 615.1,990.6 618.9,997.6 622,1004.9 624.3,1012.5 625.8,1020.3 626.3,1028.2 625.8,1036.2Z" fill="#01fffe"/>
<path d="M622.2,1044 619.8,1051.5 616.8,1058.8 613.1,1065.7 608.9,1072.3 604.3,1078.4 599.1,1084 593.7,1089.2 588,1093.9 582.1,1098.1 576.2,1101.8 570.3,1105.3 564.7,1108.4 559.4,1111.5 554.4,1114.6 549.7,1117.7 545.2,1120.9 540.7,1123.9 536.2,1126.8 531.5,1129.5 526.8,1132.1 522.1,1134.5 517.3,1136.8 512.5,1139.2 507.7,1141.7 502.9,1144.5 498,1147.5 492.9,1150.7 487.6,1154.1 481.9,1157.5 476,1161.2 469.7,1165.1 462.8,1169.7 455.2,1175.4 446.5,1182.6 436.4,1191.8 424.4,1202.9 410.4,1214.8 394.8,1226.4 378.1,1236.1 361,1243.3 343.9,1247.3 327.8,1248 313.2,1245 301,1238.4 291.5,1228.5 284.9,1216.1 280.9,1202 279.1,1187 279.1,1171.8 280.4,1156.9 282.5,1142.6 285.1,1129 288,1116.2 291.1,1104.1 294.8,1092.6 298.9,1081.7 303.3,1071.3 308,1061.7 312.9,1052.5 318,1044 323.2,1036 328.4,1028.5 333.5,1021.4 338.6,1014.8 343.7,1008.5 348.7,1002.7 353.8,997.1 359,991.9 364.2,987 369.5,982.5 374.9,978.3 380.3,974.5 385.7,970.9 391.1,967.6 396.6,964.6 402.1,961.9 407.6,959.5 413.1,957.5 418.7,955.7 424.2,954.3 429.7,953.1 435.1,952.1 440.4,951.2 445.6,950.4 450.7,949.7 455.8,949 460.8,948.3 465.9,947.7 470.9,947.2 476,946.9 481.1,946.7 486.2,946.6 491.4,946.8 496.6,947.2 501.8,947.8 507,948.6 512.2,949.6 517.5,950.7 522.9,951.9 528.5,953.1 534.5,953.9 541,954.6 548,955.1 555.5,955.7 563.3,956.7 571.2,958.3 578.9,960.6 586.2,963.9 592.9,968.1 598.9,973 604.3,978.6 609.1,984.7 613.3,991.3 617,998.2 620,1005.4 622.3,1012.9 623.7,1020.6 624.2,1028.4 623.7,1036.3Z" fill="#0bfff4"/>
<path d="M620,1044 617.7,1051.4 614.7,1058.6 611.2,1065.4 607,1071.9 602.4,1077.9 597.4,1083.4 592,1088.5 586.4,1093.2 580.6,1097.3 574.7,1101 569,1104.4 563.4,1107.5 558.1,1110.5 553.3,1113.6 548.6,1116.6 544.2,1119.7 539.7,1122.7 535.2,1125.5 530.6,1128.2 526,1130.6 521.3,1133 516.6,1135.2 511.9,1137.5 507.2,1140 502.4,1142.7 497.6,1145.6 492.6,1148.7 487.3,1151.9 481.8,1155.3 476,1158.8 469.8,1162.6 463.1,1167 455.7,1172.4 447.2,1179.4 437.3,1188.3 425.7,1198.9 412.1,1210.4 397,1221.3 381,1230.4 364.7,1236.8 348.5,1240.4 333,1240.9 319,1237.8 307.3,1231.4 298.1,1221.9 291.6,1210 287.6,1196.5 285.8,1182.2 285.5,1167.7 286.3,1153.5 287.9,1139.9 290,1126.8 292.5,1114.4 295.3,1102.7 298.7,1091.5 302.5,1080.9 306.8,1070.8 311.3,1061.3 316,1052.4 321,1044 326,1036.1 331.1,1028.8 336.1,1021.8 341.1,1015.3 346.1,1009.2 351,1003.4 356,997.9 361,992.8 366.1,988 371.3,983.6 376.5,979.4 381.8,975.6 387.1,972 392.5,968.8 397.8,965.8 403.2,963.2 408.6,960.8 414.1,958.8 419.5,957 425,955.6 430.4,954.4 435.7,953.5 440.9,952.6 446.1,951.9 451.1,951.2 456.1,950.5 461.1,949.8 466,949.2 471,948.7 476,948.3 481,948.1 486.1,948.1 491.2,948.2 496.3,948.6 501.4,949.2 506.6,950 511.7,950.9 516.9,952.1 522.2,953.3 527.8,954.4 533.6,955.2 540,955.9 547,956.4 554.4,956.9 562.1,957.9 570,959.4 577.6,961.7 584.8,964.9 591.4,969 597.4,973.9 602.6,979.5 607.3,985.5 611.5,992 615.1,998.8 618,1005.9 620.2,1013.3 621.6,1020.9 622,1028.7 621.5,1036.4Z" fill="#15ffea"/>
<path d="M617.8,1044 615.6,1051.3 612.6,1058.4 609.1,1065.1 605.1,1071.4 600.5,1077.4 595.6,1082.9 590.3,1087.9 584.8,1092.4 579.1,1096.5 573.3,1100.2 567.6,1103.5 562.1,1106.5 556.9,1109.5 552.1,1112.5 547.5,1115.5 543.1,1118.5 538.7,1121.5 534.3,1124.2 529.8,1126.8 525.2,1129.2 520.6,1131.5 515.9,1133.7 511.3,1135.9 506.6,1138.3 502,1140.9 497.2,1143.7 492.3,1146.7 487.1,1149.8 481.7,1153 476,1156.4 469.9,1160.1 463.4,1164.3 456.1,1169.5 447.9,1176.2 438.3,1184.7 427,1194.9 413.9,1205.9 399.3,1216.3 384,1224.6 368.4,1230.4 352.9,1233.6 338,1233.9 324.7,1230.9 313.3,1224.7 304.4,1215.6 298.1,1204.2 294.1,1191.3 292.1,1177.6 291.5,1163.8 291.9,1150.3 293,1137.2 294.7,1124.7 296.9,1112.8 299.4,1101.4 302.5,1090.5 306.1,1080.1 310.1,1070.3 314.5,1061 319.1,1052.2 323.9,1044 328.8,1036.3 333.8,1029.1 338.7,1022.3 343.6,1015.9 348.4,1009.8 353.3,1004.1 358.1,998.8 363.1,993.7 368.1,989 373.1,984.6 378.3,980.5 383.4,976.7 388.6,973.2 393.9,970 399.1,967.1 404.4,964.5 409.7,962.1 415.1,960.1 420.4,958.4 425.8,957 431.1,955.9 436.3,954.9 441.5,954.1 446.6,953.4 451.5,952.7 456.5,952 461.3,951.4 466.2,950.8 471.1,950.3 476,949.9 480.9,949.7 485.9,949.6 490.9,949.8 496,950.1 501,950.6 506.1,951.4 511.2,952.4 516.3,953.5 521.5,954.6 527,955.7 532.8,956.6 539.1,957.2 545.9,957.7 553.2,958.2 560.9,959.1 568.6,960.6 576.2,962.9 583.3,966 589.8,970.1 595.7,974.9 600.9,980.4 605.5,986.3 609.6,992.7 613.1,999.5 616,1006.5 618.1,1013.8 619.4,1021.3 619.8,1028.9 619.3,1036.5Z" fill="#1fffe0"/>
<path d="M615.6,1044 613.4,1051.2 610.5,1058.1 607,1064.8 603,1071 598.6,1076.9 593.7,1082.3 588.6,1087.2 583.1,1091.7 577.5,1095.7 571.8,1099.3 566.2,1102.6 560.8,1105.6 555.7,1108.5 550.9,1111.5 546.4,1114.4 542.1,1117.4 537.7,1120.2 533.3,1122.9 528.9,1125.4 524.4,1127.8 519.8,1130 515.2,1132.1 510.7,1134.3 506.1,1136.6 501.5,1139.1 496.8,1141.9 492,1144.8 486.9,1147.8 481.6,1150.9 476,1154.1 470,1157.6 463.6,1161.7 456.6,1166.7 448.6,1173.1 439.2,1181.2 428.3,1190.9 415.6,1201.4 401.6,1211.2 386.9,1218.9 372,1224.1 357.2,1226.9 343,1227.1 330.1,1224.1 319.2,1218.2 310.6,1209.4 304.3,1198.6 300.3,1186.3 298.1,1173.2 297.3,1160.1 297.2,1147.2 297.9,1134.7 299.3,1122.7 301.1,1111.2 303.3,1100.1 306.1,1089.5 309.5,1079.4 313.4,1069.8 317.6,1060.7 322,1052.1 326.7,1044 331.5,1036.4 336.4,1029.3 341.2,1022.7 346,1016.4 350.8,1010.4 355.5,1004.9 360.3,999.6 365.1,994.6 370,990 375,985.7 380,981.7 385.1,977.9 390.2,974.5 395.3,971.3 400.4,968.4 405.6,965.8 410.8,963.5 416.1,961.6 421.4,959.9 426.7,958.5 431.9,957.4 437,956.5 442.1,955.7 447.1,955 452,954.3 456.8,953.7 461.6,953.1 466.4,952.5 471.2,952 476,951.6 480.9,951.4 485.7,951.3 490.7,951.4 495.6,951.7 500.6,952.2 505.6,952.9 510.6,953.8 515.7,954.9 520.8,956 526.2,957.1 531.9,957.9 538.1,958.5 544.8,959 552,959.6 559.5,960.5 567.2,961.9 574.6,964.1 581.7,967.2 588.1,971.2 593.9,975.9 599,981.3 603.6,987.2 607.6,993.5 611,1000.1 613.8,1007.1 615.9,1014.3 617.2,1021.6 617.6,1029.1 617.1,1036.6Z" fill="#29ffd6"/>
<path d="M613.3,1044 611.1,1051.1 608.3,1057.9 604.9,1064.4 601,1070.6 596.6,1076.3 591.9,1081.6 586.8,1086.5 581.4,1090.9 575.9,1094.9 570.3,1098.4 564.8,1101.7 559.5,1104.6 554.5,1107.5 549.8,1110.4 545.4,1113.4 541,1116.2 536.8,1119 532.4,1121.7 528,1124.1 523.6,1126.4 519.1,1128.5 514.6,1130.6 510,1132.7 505.5,1134.9 501,1137.4 496.4,1140 491.7,1142.8 486.7,1145.7 481.5,1148.7 476,1151.8 470.2,1155.2 463.9,1159.1 457,1163.9 449.2,1170 440.2,1177.8 429.5,1187 417.3,1196.9 403.8,1206.2 389.7,1213.3 375.6,1217.9 361.4,1220.4 347.8,1220.5 335.4,1217.6 324.8,1211.9 316.4,1203.6 310.2,1193.3 306.2,1181.5 303.9,1169.1 302.8,1156.5 302.3,1144.3 302.6,1132.3 303.6,1120.7 305.1,1109.6 307.1,1098.9 309.7,1088.6 312.9,1078.7 316.5,1069.3 320.6,1060.3 324.9,1051.9 329.5,1044 334.2,1036.6 339,1029.6 343.7,1023 348.4,1016.9 353.1,1011.1 357.8,1005.6 362.5,1000.4 367.2,995.6 372,991 376.9,986.8 381.8,982.8 386.8,979.2 391.7,975.8 396.8,972.7 401.8,969.8 406.9,967.3 412,965 417.2,963.1 422.4,961.5 427.6,960.1 432.7,959 437.8,958.1 442.8,957.4 447.6,956.7 452.4,956.1 457.2,955.4 461.9,954.8 466.6,954.3 471.3,953.8 476,953.4 480.8,953.1 485.6,953 490.4,953.1 495.3,953.4 500.2,953.8 505.1,954.5 510,955.4 515,956.4 520.1,957.5 525.4,958.5 531,959.3 537.1,959.9 543.7,960.4 550.8,961 558.1,961.9 565.6,963.3 573,965.5 579.9,968.5 586.3,972.4 592,977 597.1,982.3 601.6,988.1 605.6,994.3 608.9,1000.8 611.7,1007.6 613.7,1014.7 615,1022 615.3,1029.4 614.8,1036.7Z" fill="#33ffcc"/>
<path d="M611,1044 608.8,1051 606,1057.7 602.7,1064.1 598.9,1070.1 594.6,1075.8 589.9,1081 584.9,1085.8 579.7,1090.2 574.3,1094.1 568.8,1097.6 563.4,1100.7 558.2,1103.7 553.2,1106.6 548.6,1109.4 544.3,1112.3 540,1115.1 535.8,1117.8 531.5,1120.4 527.2,1122.8 522.8,1125 518.3,1127.1 513.9,1129.1 509.4,1131.1 505,1133.3 500.6,1135.7 496,1138.2 491.4,1140.9 486.5,1143.8 481.4,1146.6 476,1149.6 470.3,1152.9 464.2,1156.6 457.4,1161.2 449.9,1167 441.1,1174.3 430.8,1183.1 419,1192.4 406.1,1201.1 392.6,1207.7 379.1,1211.8 365.6,1214 352.5,1214 340.5,1211.3 330.3,1205.8 322.1,1197.9 315.9,1188.1 311.8,1177 309.4,1165.1 308,1153.1 307.2,1141.4 307.2,1130 307.9,1118.9 309.1,1108.1 310.8,1097.7 313.1,1087.6 316.1,1078 319.6,1068.8 323.5,1060 327.7,1051.8 332.2,1044 336.8,1036.7 341.5,1029.9 346.2,1023.4 350.8,1017.4 355.4,1011.7 360,1006.3 364.6,1001.3 369.3,996.5 374,992 378.8,987.9 383.6,984 388.5,980.4 393.4,977.1 398.3,974 403.2,971.2 408.2,968.7 413.3,966.5 418.3,964.6 423.4,963.1 428.5,961.8 433.6,960.7 438.5,959.9 443.4,959.1 448.2,958.5 452.9,957.9 457.6,957.3 462.2,956.7 466.8,956.1 471.4,955.7 476,955.3 480.7,955 485.4,954.9 490.1,954.9 494.9,955.1 499.7,955.5 504.5,956.2 509.4,957 514.3,957.9 519.3,959 524.5,960 530.1,960.8 536,961.4 542.5,961.9 549.4,962.4 556.7,963.3 564,964.7 571.3,966.9 578.1,969.8 584.4,973.6 590.1,978.1 595.1,983.3 599.6,989 603.5,995.1 606.8,1001.5 609.5,1008.2 611.5,1015.2 612.7,1022.3 613,1029.6 612.5,1036.8Z" fill="#3dffc2"/>
<path d="M608.7,1044 606.5,1050.8 603.8,1057.4 600.5,1063.7 596.8,1069.7 592.6,1075.2 588,1080.4 583.1,1085.1 578,1089.4 572.7,1093.2 567.3,1096.7 562,1099.8 556.8,1102.7 552,1105.6 547.5,1108.4 543.2,1111.2 539,1113.9 534.8,1116.6 530.6,1119.1 526.3,1121.4 522,1123.6 517.6,1125.6 513.2,1127.6 508.8,1129.5 504.5,1131.7 500.1,1134 495.7,1136.5 491.1,1139.1 486.3,1141.8 481.3,1144.6 476,1147.5 470.4,1150.6 464.4,1154.1 457.9,1158.5 450.5,1164 442,1170.9 432.1,1179.2 420.7,1188 408.3,1196.1 395.4,1202.1 382.6,1205.8 369.6,1207.8 357,1207.7 345.5,1205.1 335.6,1200 327.5,1192.5 321.4,1183.2 317.2,1172.6 314.6,1161.3 313,1149.8 311.9,1138.7 311.6,1127.8 311.9,1117 312.9,1106.6 314.3,1096.5 316.5,1086.7 319.3,1077.3 322.6,1068.3 326.4,1059.7 330.5,1051.6 334.9,1044 339.4,1036.8 344,1030.1 348.6,1023.8 353.1,1017.9 357.7,1012.3 362.2,1007 366.8,1002.1 371.4,997.4 376.1,993.1 380.8,989 385.5,985.2 390.2,981.7 395,978.4 399.8,975.4 404.7,972.7 409.6,970.2 414.5,968.1 419.5,966.2 424.5,964.7 429.5,963.5 434.4,962.4 439.3,961.6 444.1,960.9 448.8,960.3 453.4,959.7 458,959.1 462.5,958.6 467,958.1 471.5,957.6 476,957.2 480.6,956.9 485.2,956.7 489.8,956.7 494.5,956.9 499.2,957.3 504,957.8 508.8,958.6 513.6,959.5 518.6,960.5 523.7,961.4 529.1,962.2 535,962.8 541.3,963.4 548.1,963.9 555.2,964.8 562.4,966.2 569.5,968.3 576.2,971.2 582.5,974.9 588.1,979.3 593.1,984.4 597.5,989.9 601.3,995.9 604.6,1002.2 607.3,1008.8 609.2,1015.7 610.4,1022.7 610.7,1029.8 610.2,1037Z" fill="#47ffb8"/>
<path d="M606.4,1044 604.2,1050.7 601.5,1057.2 598.3,1063.4 594.6,1069.2 590.5,1074.7 586,1079.7 581.2,1084.4 576.2,1088.6 571,1092.4 565.7,1095.8 560.5,1098.9 555.5,1101.8 550.8,1104.6 546.3,1107.3 542.1,1110.1 537.9,1112.8 533.8,1115.4 529.6,1117.8 525.4,1120.1 521.1,1122.2 516.8,1124.2 512.5,1126.1 508.2,1128 504,1130.1 499.7,1132.3 495.3,1134.7 490.8,1137.2 486.1,1139.9 481.2,1142.6 476,1145.3 470.5,1148.3 464.7,1151.7 458.3,1155.8 451.1,1161 442.9,1167.6 433.3,1175.3 422.4,1183.5 410.5,1191.1 398.2,1196.6 385.9,1200 373.6,1201.7 361.5,1201.7 350.3,1199.2 340.6,1194.3 332.7,1187.3 326.6,1178.5 322.3,1168.4 319.6,1157.6 317.8,1146.7 316.4,1136.1 315.8,1125.6 315.9,1115.3 316.5,1105.2 317.8,1095.4 319.7,1085.9 322.3,1076.7 325.5,1067.8 329.2,1059.4 333.2,1051.5 337.5,1044 341.9,1037 346.4,1030.4 351,1024.2 355.5,1018.4 360,1012.9 364.5,1007.8 369,1002.9 373.5,998.4 378.1,994.1 382.7,990.1 387.4,986.4 392,983 396.7,979.8 401.4,976.8 406.2,974.2 411,971.8 415.8,969.7 420.7,967.9 425.6,966.4 430.5,965.2 435.3,964.2 440.1,963.4 444.8,962.8 449.4,962.2 453.9,961.6 458.4,961.1 462.8,960.5 467.2,960 471.6,959.6 476,959.2 480.5,958.9 485,958.7 489.5,958.6 494.1,958.7 498.8,959.1 503.4,959.6 508.1,960.3 512.9,961.1 517.8,962 522.8,962.9 528.1,963.7 533.9,964.3 540.1,964.9 546.7,965.5 553.6,966.4 560.7,967.8 567.6,969.8 574.3,972.6 580.5,976.2 586,980.5 591,985.4 595.3,990.9 599.2,996.7 602.4,1002.9 605.1,1009.4 607,1016.2 608.1,1023.1 608.4,1030.1 607.8,1037.1Z" fill="#51ffae"/>
<path d="M604,1044 601.9,1050.6 599.2,1056.9 596,1063 592.4,1068.7 588.4,1074.1 584,1079.1 579.3,1083.7 574.4,1087.8 569.3,1091.6 564.2,1094.9 559.1,1098 554.2,1100.8 549.6,1103.6 545.2,1106.3 541,1109 536.9,1111.6 532.8,1114.2 528.7,1116.6 524.6,1118.8 520.4,1120.8 516.1,1122.7 511.9,1124.6 507.7,1126.5 503.4,1128.5 499.2,1130.6 494.9,1133 490.5,1135.4 485.9,1138 481.1,1140.6 476,1143.2 470.6,1146.1 464.9,1149.3 458.7,1153.2 451.7,1158.1 443.8,1164.3 434.6,1171.5 424.1,1179.1 412.7,1186.1 401,1191.2 389.3,1194.2 377.4,1195.8 365.8,1195.7 355,1193.5 345.5,1188.9 337.7,1182.3 331.6,1174 327.3,1164.4 324.4,1154.2 322.4,1143.8 320.8,1133.6 319.8,1123.6 319.6,1113.6 320.1,1103.9 321.1,1094.3 322.9,1085 325.3,1076 328.4,1067.4 331.9,1059.1 335.8,1051.3 340,1044 344.4,1037.1 348.9,1030.6 353.3,1024.6 357.8,1018.9 362.2,1013.5 366.7,1008.5 371.1,1003.7 375.6,999.3 380.1,995.2 384.7,991.3 389.2,987.7 393.8,984.3 398.4,981.2 403,978.3 407.7,975.7 412.4,973.3 417.1,971.3 421.9,969.6 426.7,968.1 431.5,967 436.3,966 441,965.3 445.5,964.6 450,964.1 454.4,963.6 458.8,963 463.1,962.5 467.4,962.1 471.7,961.6 476,961.2 480.4,960.9 484.8,960.7 489.2,960.6 493.7,960.6 498.3,960.9 502.9,961.3 507.5,961.9 512.2,962.7 517,963.6 521.9,964.5 527.2,965.2 532.8,965.9 538.8,966.4 545.3,967.1 552,968 558.9,969.3 565.8,971.3 572.3,974 578.4,977.5 583.9,981.7 588.8,986.5 593.2,991.8 597,997.6 600.2,1003.6 602.8,1010 604.7,1016.6 605.8,1023.4 606.1,1030.3 605.5,1037.2Z" fill="#5bffa4"/>
<path d="M601.6,1044 599.5,1050.5 596.8,1056.7 593.7,1062.6 590.2,1068.3 586.3,1073.5 582,1078.4 577.4,1082.9 572.6,1087 567.6,1090.7 562.6,1094 557.7,1097 552.9,1099.9 548.3,1102.6 544,1105.3 539.9,1107.9 535.9,1110.5 531.9,1113 527.8,1115.3 523.7,1117.5 519.6,1119.4 515.4,1121.3 511.2,1123.1 507.1,1124.9 502.9,1126.9 498.8,1129 494.5,1131.2 490.2,1133.6 485.7,1136.1 481,1138.6 476,1141.2 470.8,1143.9 465.2,1147 459.1,1150.7 452.3,1155.3 444.7,1161 435.8,1167.7 425.8,1174.8 414.9,1181.2 403.7,1185.9 392.5,1188.6 381.1,1190.1 369.9,1190 359.5,1187.9 350.3,1183.7 342.5,1177.5 336.4,1169.7 332,1160.6 328.9,1150.8 326.7,1141 324.9,1131.2 323.7,1121.6 323.3,1112 323.5,1102.5 324.4,1093.3 325.9,1084.2 328.2,1075.4 331.2,1066.9 334.6,1058.9 338.4,1051.2 342.5,1044 346.8,1037.2 351.2,1030.9 355.6,1024.9 360,1019.4 364.4,1014.1 368.9,1009.2 373.3,1004.6 377.7,1000.2 382.2,996.2 386.7,992.4 391.1,988.9 395.6,985.6 400.1,982.6 404.6,979.8 409.2,977.2 413.8,974.9 418.5,973 423.2,971.3 427.9,969.9 432.6,968.8 437.2,967.9 441.8,967.2 446.3,966.6 450.7,966 455,965.5 459.2,965 463.4,964.6 467.6,964.1 471.8,963.7 476,963.3 480.2,962.9 484.5,962.7 488.9,962.5 493.3,962.6 497.8,962.7 502.3,963.1 506.8,963.7 511.5,964.4 516.2,965.2 521,966 526.2,966.8 531.7,967.4 537.5,968 543.8,968.7 550.4,969.6 557.1,971 563.8,972.9 570.3,975.5 576.3,978.9 581.7,983 586.6,987.6 590.9,992.8 594.7,998.4 597.9,1004.4 600.5,1010.6 602.4,1017.1 603.5,1023.8 603.7,1030.6 603.1,1037.3Z" fill="#65ff9a"/>
<path d="M599.2,1044 597.1,1050.3 594.5,1056.5 591.4,1062.3 588,1067.8 584.1,1073 579.9,1077.8 575.5,1082.2 570.8,1086.2 565.9,1089.8 561,1093.1 556.2,1096.1 551.5,1098.9 547.1,1101.6 542.9,1104.2 538.8,1106.8 534.8,1109.4 530.9,1111.8 526.9,1114 522.8,1116.1 518.8,1118.1 514.7,1119.9 510.6,1121.7 506.5,1123.4 502.4,1125.3 498.3,1127.4 494.2,1129.5 489.9,1131.8 485.5,1134.2 480.9,1136.6 476,1139.1 470.9,1141.8 465.4,1144.7 459.5,1148.2 452.9,1152.5 445.5,1157.8 437,1163.9 427.5,1170.5 417,1176.4 406.4,1180.6 395.7,1183.1 384.8,1184.5 374,1184.5 363.8,1182.5 354.8,1178.6 347.2,1172.8 341.1,1165.5 336.5,1157 333.3,1147.7 330.9,1138.2 328.9,1129 327.5,1119.7 326.8,1110.4 326.8,1101.3 327.5,1092.2 328.9,1083.4 331.1,1074.8 333.9,1066.5 337.2,1058.6 341,1051.1 345,1044 349.2,1037.4 353.6,1031.1 357.9,1025.3 362.3,1019.8 366.7,1014.7 371,1009.9 375.4,1005.4 379.8,1001.2 384.2,997.2 388.7,993.6 393.1,990.1 397.4,986.9 401.9,984 406.3,981.2 410.7,978.7 415.3,976.5 419.8,974.6 424.4,973 429,971.7 433.6,970.6 438.2,969.7 442.6,969 447,968.5 451.3,968 455.5,967.5 459.6,967.1 463.7,966.6 467.8,966.2 471.9,965.7 476,965.3 480.1,965 484.3,964.7 488.6,964.5 492.9,964.5 497.3,964.6 501.7,964.9 506.2,965.4 510.7,966 515.4,966.8 520.1,967.6 525.2,968.3 530.5,969 536.3,969.6 542.4,970.3 548.8,971.2 555.3,972.6 561.9,974.5 568.2,977 574.1,980.3 579.5,984.2 584.4,988.8 588.7,993.8 592.5,999.3 595.6,1005.1 598.2,1011.3 600,1017.6 601.1,1024.2 601.3,1030.8 600.7,1037.5Z" fill="#6fff90"/>
<path d="M596.9,1044 594.8,1050.2 592.1,1056.2 589.1,1061.9 585.7,1067.3 582,1072.4 577.9,1077.1 573.5,1081.4 569,1085.4 564.2,1089 559.5,1092.2 554.8,1095.1 550.2,1097.9 545.9,1100.6 541.7,1103.2 537.7,1105.7 533.8,1108.2 529.9,1110.6 526,1112.8 522,1114.8 518,1116.7 514,1118.5 509.9,1120.2 505.9,1121.9 501.9,1123.8 497.9,1125.7 493.8,1127.9 489.6,1130.1 485.3,1132.4 480.8,1134.7 476,1137.1 471,1139.6 465.7,1142.4 459.9,1145.7 453.5,1149.7 446.4,1154.6 438.2,1160.2 429.1,1166.2 419.2,1171.6 409,1175.5 398.8,1177.8 388.3,1179.1 377.9,1179.1 368,1177.3 359.2,1173.7 351.6,1168.4 345.5,1161.5 340.8,1153.5 337.5,1144.7 334.9,1135.6 332.7,1126.7 331.1,1117.8 330.3,1108.9 330.1,1100 330.6,1091.3 331.8,1082.6 333.9,1074.2 336.6,1066.1 339.8,1058.3 343.5,1050.9 347.4,1044 351.6,1037.5 355.9,1031.4 360.2,1025.7 364.5,1020.3 368.9,1015.3 373.2,1010.6 377.6,1006.2 381.9,1002.1 386.3,998.3 390.6,994.7 395,991.4 399.3,988.3 403.6,985.4 407.9,982.7 412.3,980.3 416.7,978.2 421.2,976.3 425.7,974.7 430.2,973.5 434.7,972.4 439.1,971.6 443.5,970.9 447.8,970.4 451.9,969.9 456,969.5 460.1,969.1 464.1,968.7 468,968.2 472,967.8 476,967.4 480,967 484.1,966.7 488.3,966.5 492.5,966.4 496.8,966.5 501.1,966.7 505.5,967.1 510,967.7 514.5,968.4 519.2,969.1 524.2,969.8 529.4,970.5 535,971.2 540.9,971.9 547.1,972.9 553.5,974.2 559.9,976.1 566.1,978.5 572,981.7 577.3,985.5 582.2,989.9 586.4,994.8 590.2,1000.2 593.4,1005.9 595.9,1011.9 597.7,1018.1 598.8,1024.6 599,1031.1 598.3,1037.6Z" fill="#79ff86"/>
<path d="M594.5,1044 592.4,1050.1 589.8,1056 586.8,1061.6 583.5,1066.9 579.8,1071.8 575.8,1076.4 571.6,1080.7 567.1,1084.6 562.5,1088.1 557.9,1091.3 553.3,1094.2 548.9,1096.9 544.6,1099.6 540.6,1102.1 536.6,1104.6 532.8,1107.1 528.9,1109.4 525.1,1111.5 521.1,1113.5 517.2,1115.4 513.2,1117.1 509.3,1118.8 505.3,1120.4 501.4,1122.2 497.5,1124.1 493.5,1126.2 489.4,1128.3 485.1,1130.6 480.7,1132.8 476,1135.1 471.1,1137.5 465.9,1140.2 460.3,1143.2 454.1,1146.9 447.2,1151.4 439.4,1156.6 430.7,1162 421.3,1167 411.6,1170.5 401.8,1172.6 391.7,1173.8 381.6,1173.9 372.1,1172.3 363.4,1169 355.9,1164.1 349.7,1157.7 345,1150.1 341.5,1141.7 338.7,1133.2 336.3,1124.6 334.6,1116.1 333.6,1107.4 333.2,1098.8 333.5,1090.3 334.7,1081.9 336.6,1073.6 339.2,1065.7 342.3,1058.1 345.9,1050.8 349.8,1044 353.9,1037.6 358.2,1031.6 362.4,1026 366.7,1020.8 371,1015.9 375.3,1011.3 379.7,1007 384,1003 388.3,999.3 392.6,995.8 396.9,992.6 401.1,989.6 405.3,986.8 409.6,984.2 413.8,981.8 418.2,979.8 422.5,978 426.9,976.5 431.4,975.2 435.7,974.3 440.1,973.5 444.3,972.8 448.5,972.3 452.6,971.9 456.6,971.5 460.5,971.1 464.4,970.7 468.3,970.3 472.1,969.9 476,969.5 479.9,969.1 483.9,968.8 488,968.5 492.1,968.4 496.3,968.4 500.5,968.5 504.8,968.9 509.2,969.3 513.7,970 518.3,970.7 523.1,971.4 528.2,972.1 533.7,972.8 539.4,973.6 545.4,974.6 551.6,975.9 557.9,977.7 564,980.1 569.8,983.1 575.1,986.8 579.9,991 584.2,995.8 587.9,1001 591.1,1006.6 593.6,1012.5 595.4,1018.6 596.4,1024.9 596.6,1031.3 595.9,1037.7Z" fill="#83ff7c"/>
<path d="M592.1,1044 590,1050 587.5,1055.7 584.5,1061.2 581.3,1066.4 577.7,1071.2 573.8,1075.8 569.6,1079.9 565.3,1083.7 560.8,1087.2 556.3,1090.4 551.8,1093.3 547.5,1096 543.4,1098.6 539.4,1101.1 535.6,1103.6 531.8,1105.9 528,1108.2 524.1,1110.3 520.3,1112.2 516.4,1114 512.5,1115.7 508.6,1117.3 504.8,1119 500.9,1120.7 497,1122.5 493.1,1124.5 489.1,1126.6 484.9,1128.8 480.6,1130.9 476,1133.2 471.2,1135.5 466.1,1138 460.7,1140.8 454.7,1144.2 448,1148.3 440.6,1153 432.3,1157.9 423.3,1162.4 414.1,1165.6 404.7,1167.5 395,1168.7 385.3,1168.8 376,1167.5 367.5,1164.5 360,1160 353.8,1154 349,1146.9 345.3,1139 342.4,1130.8 339.9,1122.6 338,1114.3 336.8,1106 336.3,1097.6 336.4,1089.3 337.4,1081.1 339.2,1073.1 341.7,1065.3 344.8,1057.8 348.3,1050.7 352.2,1044 356.2,1037.7 360.4,1031.9 364.6,1026.4 368.9,1021.2 373.2,1016.4 377.5,1012 381.8,1007.8 386.1,1004 390.3,1000.3 394.6,997 398.8,993.8 402.9,990.9 407.1,988.2 411.2,985.7 415.4,983.4 419.6,981.4 423.9,979.7 428.2,978.2 432.5,977 436.8,976.1 441,975.3 445.2,974.7 449.2,974.3 453.2,973.8 457.1,973.4 460.9,973.1 464.7,972.7 468.5,972.3 472.2,971.9 476,971.5 479.8,971.2 483.7,970.8 487.6,970.5 491.7,970.3 495.8,970.3 499.9,970.4 504.2,970.6 508.5,971 512.9,971.6 517.4,972.2 522.1,972.9 527.1,973.7 532.4,974.4 537.9,975.2 543.8,976.2 549.8,977.5 555.9,979.3 561.9,981.6 567.6,984.5 572.9,988.1 577.7,992.2 581.9,996.8 585.6,1001.9 588.8,1007.4 591.2,1013.1 593,1019.1 594,1025.3 594.2,1031.6 593.5,1037.8Z" fill="#8dff72"/>
<path d="M589.7,1044 587.6,1049.9 585.1,1055.5 582.2,1060.8 579,1065.9 575.5,1070.7 571.7,1075.1 567.7,1079.2 563.4,1082.9 559.1,1086.3 554.7,1089.4 550.4,1092.3 546.2,1095 542.1,1097.6 538.2,1100 534.5,1102.5 530.7,1104.8 527,1107 523.2,1109 519.4,1110.9 515.6,1112.7 511.8,1114.3 508,1115.9 504.2,1117.5 500.4,1119.2 496.6,1121 492.8,1122.9 488.8,1124.9 484.7,1127 480.5,1129.1 476,1131.2 471.3,1133.4 466.4,1135.8 461,1138.5 455.3,1141.6 448.9,1145.3 441.7,1149.5 433.8,1153.9 425.3,1157.9 416.5,1160.8 407.5,1162.6 398.2,1163.8 388.8,1164 379.8,1162.8 371.4,1160.2 364,1156 357.8,1150.5 352.8,1143.8 349,1136.3 345.9,1128.5 343.3,1120.6 341.2,1112.7 339.9,1104.6 339.2,1096.5 339.3,1088.4 340.1,1080.4 341.8,1072.5 344.2,1064.9 347.2,1057.5 350.7,1050.6 354.5,1044 358.5,1037.8 362.6,1032.1 366.8,1026.7 371,1021.7 375.3,1017 379.6,1012.7 383.8,1008.6 388.1,1004.9 392.3,1001.4 396.5,998.1 400.6,995.1 404.7,992.2 408.8,989.6 412.8,987.1 416.9,984.9 421.1,983 425.3,981.3 429.5,979.9 433.7,978.8 437.8,977.9 441.9,977.2 446,976.6 450,976.1 453.8,975.7 457.6,975.4 461.3,975 465,974.7 468.7,974.3 472.3,974 476,973.6 479.7,973.2 483.5,972.8 487.3,972.5 491.3,972.2 495.3,972.1 499.3,972.1 503.5,972.3 507.8,972.7 512.1,973.2 516.5,973.8 521.1,974.5 526,975.2 531.1,976 536.5,976.8 542.1,977.9 548,979.2 553.9,980.9 559.8,983.1 565.4,985.9 570.7,989.3 575.4,993.3 579.7,997.8 583.3,1002.8 586.5,1008.1 588.9,1013.7 590.7,1019.6 591.7,1025.7 591.9,1031.8 591.2,1038Z" fill="#97ff68"/>
<path d="M587.3,1044 585.3,1049.7 582.8,1055.2 580,1060.5 576.8,1065.4 573.4,1070.1 569.6,1074.4 565.7,1078.4 561.6,1082.1 557.4,1085.5 553.1,1088.5 548.9,1091.3 544.8,1094 540.9,1096.5 537.1,1099 533.4,1101.4 529.7,1103.6 526,1105.8 522.3,1107.8 518.6,1109.6 514.9,1111.3 511.1,1112.9 507.4,1114.5 503.6,1116 499.9,1117.7 496.2,1119.4 492.4,1121.2 488.5,1123.2 484.5,1125.2 480.4,1127.2 476,1129.3 471.4,1131.4 466.6,1133.6 461.4,1136.1 455.8,1139 449.7,1142.3 442.8,1146 435.3,1149.9 427.2,1153.5 418.9,1156.2 410.3,1157.9 401.3,1159 392.2,1159.3 383.4,1158.4 375.2,1156 367.8,1152.2 361.6,1147 356.5,1140.8 352.5,1133.7 349.3,1126.3 346.6,1118.7 344.4,1111 343,1103.2 342.1,1095.4 342,1087.5 342.8,1079.7 344.4,1072 346.7,1064.5 349.6,1057.3 353,1050.4 356.8,1044 360.7,1038 364.8,1032.3 369,1027 373.2,1022.1 377.4,1017.6 381.6,1013.3 385.9,1009.4 390.1,1005.8 394.3,1002.4 398.4,999.2 402.5,996.3 406.5,993.5 410.5,990.9 414.5,988.6 418.5,986.5 422.5,984.6 426.6,983 430.7,981.6 434.8,980.5 438.9,979.7 442.9,979 446.8,978.4 450.7,978 454.4,977.6 458.1,977.3 461.8,977 465.3,976.6 468.9,976.3 472.4,975.9 476,975.5 479.6,975.1 483.3,974.8 487,974.4 490.9,974.1 494.8,974 498.8,973.9 502.9,974 507,974.3 511.3,974.8 515.6,975.3 520.1,976 524.9,976.8 529.8,977.6 535,978.5 540.5,979.5 546.2,980.8 552,982.5 557.7,984.6 563.3,987.3 568.5,990.6 573.2,994.5 577.4,998.9 581.1,1003.7 584.2,1008.9 586.6,1014.4 588.4,1020.1 589.4,1026 589.5,1032.1 588.8,1038.1Z" fill="#a1ff5e"/>
<path d="M585,1044 582.9,1049.6 580.5,1055 577.7,1060.1 574.6,1065 571.2,1069.5 567.6,1073.8 563.7,1077.7 559.7,1081.3 555.6,1084.6 551.5,1087.6 547.4,1090.4 543.5,1093 539.6,1095.5 535.9,1098 532.3,1100.3 528.7,1102.5 525,1104.6 521.4,1106.5 517.8,1108.3 514.1,1110 510.4,1111.5 506.7,1113 503.1,1114.6 499.4,1116.1 495.8,1117.8 492.1,1119.6 488.3,1121.5 484.3,1123.4 480.3,1125.4 476,1127.4 471.5,1129.4 466.8,1131.5 461.8,1133.8 456.4,1136.4 450.5,1139.3 443.9,1142.7 436.8,1146.1 429.1,1149.3 421.1,1151.7 412.9,1153.3 404.3,1154.4 395.5,1154.8 386.9,1154 378.8,1152 371.5,1148.5 365.2,1143.8 360.1,1137.9 356,1131.2 352.6,1124.1 349.8,1116.9 347.5,1109.5 345.9,1101.9 345,1094.3 344.7,1086.6 345.4,1079 346.9,1071.4 349.1,1064.1 352,1057 355.3,1050.3 359,1044 362.9,1038.1 367,1032.5 371.1,1027.4 375.3,1022.6 379.5,1018.1 383.7,1014 387.9,1010.2 392.1,1006.6 396.2,1003.4 400.3,1000.3 404.3,997.4 408.2,994.8 412.1,992.3 416,990 420,988 423.9,986.2 427.9,984.6 431.9,983.3 435.9,982.3 439.9,981.4 443.8,980.8 447.6,980.2 451.4,979.8 455,979.5 458.6,979.1 462.1,978.8 465.6,978.5 469.1,978.2 472.5,977.9 476,977.5 479.5,977.1 483.1,976.7 486.7,976.3 490.5,976 494.3,975.8 498.2,975.7 502.2,975.7 506.3,975.9 510.5,976.3 514.8,976.9 519.2,977.5 523.7,978.3 528.5,979.1 533.6,980 538.9,981.1 544.4,982.4 550.1,984 555.7,986.1 561.2,988.7 566.3,991.9 571,995.6 575.2,999.8 578.8,1004.5 581.9,1009.6 584.3,1015 586.1,1020.6 587,1026.4 587.2,1032.3 586.4,1038.2Z" fill="#abff54"/>
<path d="M582.7,1044 580.6,1049.5 578.2,1054.7 575.4,1059.8 572.4,1064.5 569.1,1068.9 565.6,1073.1 561.8,1076.9 557.9,1080.5 553.9,1083.7 549.9,1086.7 546,1089.4 542.1,1092 538.4,1094.5 534.8,1096.9 531.2,1099.2 527.6,1101.3 524.1,1103.4 520.5,1105.2 516.9,1107 513.3,1108.6 509.7,1110.2 506.1,1111.6 502.5,1113.1 499,1114.6 495.4,1116.3 491.7,1118 488,1119.8 484.2,1121.7 480.2,1123.5 476,1125.4 471.6,1127.4 467,1129.3 462.1,1131.5 456.9,1133.8 451.2,1136.5 445,1139.4 438.2,1142.4 431,1145.2 423.3,1147.3 415.4,1148.9 407.2,1150 398.6,1150.5 390.2,1149.9 382.3,1148.1 375,1145 368.7,1140.6 363.5,1135.1 359.3,1128.8 355.9,1122 352.9,1115.1 350.5,1107.9 348.8,1100.6 347.7,1093.2 347.4,1085.8 347.9,1078.3 349.4,1070.9 351.5,1063.7 354.4,1056.8 357.6,1050.2 361.3,1044 365.1,1038.2 369.1,1032.8 373.2,1027.7 377.3,1023 381.5,1018.7 385.7,1014.7 389.9,1010.9 394.1,1007.5 398.2,1004.3 402.2,1001.4 406.1,998.6 410,996 413.8,993.6 417.6,991.4 421.4,989.4 425.3,987.7 429.2,986.2 433.1,985 437,983.9 440.9,983.1 444.7,982.5 448.4,982 452,981.6 455.6,981.2 459.1,980.9 462.5,980.6 465.9,980.4 469.3,980 472.6,979.7 476,979.3 479.4,978.9 482.9,978.5 486.4,978.1 490.1,977.8 493.8,977.5 497.6,977.4 501.6,977.4 505.6,977.5 509.7,977.9 513.9,978.4 518.2,979 522.6,979.8 527.3,980.6 532.2,981.6 537.3,982.7 542.7,984 548.2,985.6 553.7,987.5 559.1,990 564.2,993.1 568.8,996.7 573,1000.8 576.6,1005.4 579.6,1010.3 582,1015.6 583.8,1021.1 584.7,1026.8 584.8,1032.6 584.1,1038.3Z" fill="#b5ff4a"/>
<path d="M580.4,1044 578.3,1049.4 575.9,1054.5 573.2,1059.4 570.3,1064 567,1068.4 563.5,1072.4 559.9,1076.2 556,1079.6 552.2,1082.8 548.3,1085.7 544.5,1088.5 540.8,1091.1 537.1,1093.5 533.6,1095.8 530.1,1098.1 526.6,1100.2 523.1,1102.2 519.6,1104 516.1,1105.7 512.5,1107.3 509,1108.8 505.5,1110.2 502,1111.7 498.5,1113.2 494.9,1114.7 491.4,1116.4 487.7,1118.1 484,1119.9 480.1,1121.7 476,1123.5 471.7,1125.4 467.3,1127.2 462.5,1129.2 457.4,1131.3 452,1133.6 446.1,1136.1 439.6,1138.7 432.7,1141.2 425.5,1143.2 417.9,1144.7 409.9,1145.8 401.7,1146.3 393.5,1145.9 385.7,1144.3 378.5,1141.5 372.1,1137.5 366.8,1132.4 362.5,1126.4 359,1120 355.9,1113.3 353.5,1106.4 351.6,1099.4 350.4,1092.2 350,1084.9 350.5,1077.6 351.8,1070.4 353.9,1063.3 356.7,1056.5 359.9,1050.1 363.5,1044 367.3,1038.3 371.3,1033 375.3,1028.1 379.4,1023.5 383.5,1019.2 387.7,1015.3 391.9,1011.7 396,1008.4 400,1005.3 404,1002.4 407.9,999.8 411.7,997.3 415.4,994.9 419.1,992.8 422.9,990.9 426.7,989.2 430.5,987.8 434.3,986.6 438.1,985.6 441.8,984.8 445.5,984.2 449.1,983.7 452.7,983.3 456.2,982.9 459.6,982.6 462.9,982.4 466.2,982.1 469.5,981.8 472.7,981.5 476,981.1 479.3,980.7 482.7,980.3 486.2,979.9 489.7,979.5 493.4,979.2 497.1,979 501,979 504.9,979.1 508.9,979.4 513,979.9 517.2,980.5 521.6,981.3 526.1,982.1 530.8,983.1 535.8,984.2 541,985.5 546.4,987 551.8,988.9 557.1,991.3 562.1,994.3 566.7,997.8 570.8,1001.8 574.4,1006.2 577.4,1011.1 579.8,1016.2 581.5,1021.6 582.4,1027.1 582.5,1032.8 581.8,1038.5Z" fill="#bfff40"/>
<path d="M578.1,1044 576.1,1049.2 573.7,1054.3 571,1059.1 568.1,1063.6 564.9,1067.8 561.5,1071.8 557.9,1075.4 554.2,1078.8 550.5,1081.9 546.7,1084.8 543,1087.5 539.4,1090.1 535.9,1092.5 532.4,1094.8 529,1097 525.6,1099 522.1,1101 518.7,1102.7 515.2,1104.4 511.8,1106 508.3,1107.4 504.9,1108.8 501.4,1110.2 498,1111.7 494.5,1113.2 491,1114.8 487.5,1116.4 483.8,1118.1 480,1119.9 476,1121.6 471.8,1123.4 467.5,1125.1 462.9,1126.9 458,1128.8 452.7,1130.8 447.1,1133 441,1135.2 434.4,1137.4 427.5,1139.2 420.2,1140.6 412.5,1141.7 404.5,1142.3 396.6,1142.1 388.9,1140.7 381.8,1138.2 375.5,1134.5 370.1,1129.8 365.7,1124.2 362,1118 358.9,1111.6 356.4,1105 354.4,1098.1 353.1,1091.2 352.6,1084.1 352.9,1077 354.2,1069.9 356.3,1063 359,1056.3 362.1,1050 365.7,1044 369.5,1038.4 373.4,1033.2 377.4,1028.4 381.4,1023.9 385.5,1019.8 389.7,1015.9 393.8,1012.4 397.9,1009.2 401.9,1006.2 405.8,1003.5 409.6,1000.9 413.3,998.5 417,996.2 420.6,994.2 424.3,992.3 428,990.7 431.7,989.3 435.4,988.1 439.1,987.1 442.7,986.4 446.3,985.8 449.9,985.3 453.3,984.9 456.7,984.6 460,984.3 463.3,984 466.5,983.8 469.6,983.5 472.8,983.2 476,982.8 479.2,982.4 482.5,982 485.9,981.6 489.3,981.2 492.9,980.9 496.6,980.7 500.3,980.6 504.2,980.7 508.1,980.9 512.2,981.4 516.3,982 520.5,982.7 524.9,983.6 529.5,984.6 534.3,985.7 539.3,987 544.6,988.5 549.9,990.3 555.1,992.6 560.1,995.5 564.6,998.9 568.7,1002.7 572.2,1007.1 575.2,1011.8 577.5,1016.8 579.2,1022.1 580.1,1027.5 580.2,1033 579.5,1038.6Z" fill="#c9ff36"/>
<path d="M575.8,1044 573.9,1049.1 571.5,1054 568.9,1058.7 566,1063.1 562.9,1067.3 559.5,1071.1 556,1074.7 552.4,1078 548.8,1081.1 545.1,1083.9 541.5,1086.6 538,1089.1 534.6,1091.5 531.2,1093.7 527.9,1095.9 524.5,1097.9 521.2,1099.8 517.8,1101.5 514.4,1103.1 511,1104.6 507.6,1106 504.2,1107.4 500.9,1108.8 497.5,1110.2 494.1,1111.6 490.7,1113.2 487.2,1114.8 483.6,1116.4 479.9,1118.1 476,1119.7 471.9,1121.4 467.7,1123 463.2,1124.7 458.5,1126.4 453.5,1128.1 448.1,1130 442.3,1131.9 436.1,1133.7 429.5,1135.4 422.5,1136.7 415,1137.9 407.3,1138.5 399.6,1138.4 392,1137.3 385,1135 378.7,1131.6 373.3,1127.2 368.7,1121.9 365,1116.1 361.8,1109.9 359.2,1103.5 357.1,1096.9 355.7,1090.2 355.1,1083.3 355.4,1076.3 356.6,1069.4 358.6,1062.6 361.2,1056.1 364.4,1049.9 367.9,1044 371.6,1038.5 375.5,1033.4 379.4,1028.7 383.4,1024.3 387.5,1020.3 391.6,1016.6 395.7,1013.2 399.7,1010 403.7,1007.1 407.5,1004.5 411.3,1002 414.9,999.6 418.5,997.5 422.1,995.5 425.7,993.7 429.3,992.1 432.9,990.7 436.5,989.6 440.1,988.7 443.6,987.9 447.1,987.3 450.5,986.8 453.9,986.4 457.2,986.1 460.4,985.8 463.6,985.6 466.7,985.3 469.8,985 472.9,984.7 476,984.4 479.1,984 482.3,983.6 485.6,983.2 489,982.8 492.5,982.5 496.1,982.2 499.8,982.1 503.5,982.2 507.4,982.4 511.3,982.8 515.4,983.4 519.5,984.1 523.7,985 528.2,986 532.9,987.1 537.8,988.4 542.9,989.8 548.1,991.6 553.2,993.8 558.1,996.6 562.6,999.9 566.6,1003.7 570.1,1007.9 573,1012.5 575.3,1017.4 577,1022.5 577.9,1027.9 578,1033.3 577.3,1038.7Z" fill="#d3ff2c"/>
<path d="M573.6,1044 571.7,1049 569.4,1053.8 566.8,1058.4 563.9,1062.7 560.9,1066.7 557.6,1070.5 554.1,1074 550.6,1077.2 547.1,1080.2 543.5,1083 540.1,1085.6 536.7,1088.1 533.3,1090.4 530,1092.7 526.8,1094.8 523.5,1096.7 520.2,1098.6 516.9,1100.3 513.6,1101.8 510.2,1103.3 506.9,1104.7 503.6,1106 500.3,1107.3 497,1108.7 493.7,1110.1 490.4,1111.5 486.9,1113.1 483.4,1114.6 479.8,1116.2 476,1117.8 472,1119.4 467.9,1120.9 463.6,1122.4 459,1123.9 454.2,1125.5 449,1127 443.5,1128.6 437.6,1130.2 431.3,1131.7 424.6,1133.1 417.4,1134.2 410,1134.9 402.4,1134.9 395,1133.9 388.1,1131.9 381.8,1128.8 376.4,1124.7 371.8,1119.7 367.9,1114.2 364.7,1108.3 362,1102.1 359.8,1095.7 358.3,1089.2 357.6,1082.5 357.8,1075.7 359,1068.9 360.9,1062.2 363.5,1055.8 366.6,1049.7 370,1044 373.7,1038.6 377.5,1033.7 381.4,1029 385.4,1024.7 389.4,1020.8 393.5,1017.2 397.5,1013.9 401.5,1010.8 405.4,1008 409.2,1005.5 412.9,1003 416.5,1000.8 420,998.7 423.5,996.7 427,995 430.5,993.5 434,992.1 437.5,991 441,990.1 444.5,989.4 447.9,988.8 451.2,988.3 454.5,987.9 457.7,987.5 460.8,987.3 463.9,987 466.9,986.8 470,986.5 473,986.2 476,985.9 479.1,985.5 482.2,985.1 485.4,984.7 488.7,984.3 492.1,984 495.6,983.7 499.2,983.6 502.9,983.6 506.7,983.8 510.5,984.2 514.5,984.8 518.5,985.5 522.6,986.4 527,987.4 531.5,988.5 536.3,989.7 541.3,991.1 546.4,992.9 551.4,995 556.2,997.7 560.6,1000.9 564.6,1004.6 568,1008.7 570.9,1013.2 573.2,1018 574.8,1023 575.7,1028.2 575.8,1033.5 575,1038.8Z" fill="#ddff22"/>
<path d="M571.5,1044 569.6,1048.9 567.3,1053.6 564.7,1058.1 561.9,1062.3 558.9,1066.2 555.7,1069.9 552.3,1073.3 548.8,1076.4 545.4,1079.3 542,1082.1 538.6,1084.7 535.3,1087.1 532.1,1089.4 528.9,1091.6 525.7,1093.7 522.4,1095.6 519.2,1097.4 516,1099 512.7,1100.5 509.5,1102 506.2,1103.3 503,1104.6 499.8,1105.9 496.5,1107.2 493.3,1108.5 490,1109.9 486.7,1111.4 483.2,1112.9 479.7,1114.4 476,1115.9 472.2,1117.4 468.1,1118.8 463.9,1120.2 459.5,1121.6 454.9,1122.9 449.9,1124.2 444.7,1125.6 439.1,1126.9 433,1128.3 426.6,1129.6 419.7,1130.7 412.5,1131.4 405.1,1131.5 397.9,1130.7 391.1,1128.9 384.9,1126.1 379.4,1122.2 374.7,1117.6 370.8,1112.3 367.5,1106.6 364.7,1100.7 362.5,1094.5 360.9,1088.2 360.1,1081.7 360.2,1075 361.3,1068.4 363.2,1061.9 365.7,1055.6 368.8,1049.6 372.2,1044 375.8,1038.8 379.6,1033.9 383.5,1029.3 387.4,1025.2 391.3,1021.3 395.3,1017.8 399.3,1014.6 403.3,1011.6 407.1,1008.9 410.9,1006.4 414.5,1004.1 418,1001.9 421.5,999.8 424.9,998 428.3,996.3 431.7,994.8 435.1,993.5 438.5,992.4 441.9,991.5 445.2,990.7 448.5,990.1 451.8,989.6 455,989.2 458.1,988.9 461.2,988.6 464.2,988.3 467.1,988.1 470.1,987.8 473,987.5 476,987.2 479,986.9 482,986.5 485.2,986.1 488.4,985.7 491.7,985.4 495.1,985.1 498.6,985 502.3,985 506,985.2 509.7,985.6 513.6,986.1 517.5,986.9 521.6,987.7 525.8,988.7 530.2,989.8 534.9,991 539.8,992.3 544.8,994 549.7,996.1 554.4,998.7 558.7,1001.9 562.6,1005.4 565.9,1009.5 568.8,1013.9 571,1018.5 572.6,1023.5 573.5,1028.6 573.6,1033.7 572.9,1038.9Z" fill="#e7ff18"/>
<path d="M569.4,1044 567.5,1048.8 565.2,1053.4 562.7,1057.7 559.9,1061.8 556.9,1065.7 553.8,1069.3 550.5,1072.6 547.1,1075.6 543.7,1078.5 540.4,1081.2 537.1,1083.7 533.9,1086.1 530.8,1088.4 527.7,1090.5 524.5,1092.5 521.4,1094.4 518.2,1096.1 515.1,1097.8 511.9,1099.2 508.7,1100.6 505.5,1102 502.4,1103.2 499.2,1104.5 496.1,1105.7 492.9,1107 489.7,1108.3 486.4,1109.7 483.1,1111.1 479.6,1112.6 476,1114 472.3,1115.4 468.4,1116.7 464.3,1118 460,1119.2 455.5,1120.4 450.8,1121.5 445.8,1122.6 440.5,1123.8 434.7,1125.1 428.5,1126.3 421.8,1127.4 414.9,1128.2 407.8,1128.3 400.7,1127.6 394,1126 387.8,1123.4 382.4,1119.8 377.7,1115.4 373.7,1110.4 370.3,1105 367.4,1099.3 365.1,1093.4 363.4,1087.2 362.6,1080.9 362.6,1074.4 363.7,1067.9 365.5,1061.5 368,1055.4 371,1049.5 374.3,1044 377.9,1038.9 381.7,1034.1 385.5,1029.7 389.3,1025.6 393.2,1021.8 397.1,1018.4 401.1,1015.2 405,1012.4 408.8,1009.7 412.4,1007.3 416,1005 419.5,1002.9 422.8,1000.9 426.2,999.1 429.5,997.5 432.8,996 436.1,994.8 439.4,993.7 442.7,992.8 446,992 449.2,991.4 452.3,990.9 455.4,990.4 458.5,990.1 461.5,989.8 464.4,989.5 467.3,989.3 470.2,989 473.1,988.7 476,988.4 478.9,988.1 481.9,987.7 485,987.4 488.1,987 491.3,986.7 494.7,986.5 498.1,986.4 501.7,986.4 505.3,986.5 509,986.9 512.7,987.4 516.6,988.1 520.6,989 524.7,989.9 529,991 533.6,992.1 538.4,993.5 543.3,995.1 548.1,997.2 552.7,999.7 556.9,1002.8 560.7,1006.3 564,1010.2 566.7,1014.5 568.9,1019.1 570.5,1023.9 571.3,1028.9 571.4,1034 570.7,1039Z" fill="#f1ff0e"/>
<path d="M567.3,1044 565.5,1048.7 563.3,1053.2 560.8,1057.4 558,1061.4 555,1065.2 551.9,1068.7 548.7,1071.9 545.3,1074.9 542,1077.7 538.8,1080.3 535.7,1082.7 532.6,1085.1 529.5,1087.3 526.5,1089.4 523.4,1091.4 520.3,1093.2 517.3,1094.9 514.1,1096.5 511,1098 507.9,1099.3 504.8,1100.6 501.7,1101.8 498.7,1103 495.6,1104.2 492.5,1105.5 489.3,1106.7 486.1,1108 482.9,1109.4 479.5,1110.7 476,1112.1 472.4,1113.4 468.6,1114.6 464.6,1115.8 460.5,1116.9 456.2,1117.9 451.7,1118.9 446.9,1119.9 441.7,1120.9 436.2,1122.1 430.2,1123.3 423.8,1124.3 417.1,1125 410.2,1125.2 403.4,1124.6 396.9,1123.1 390.8,1120.7 385.4,1117.4 380.6,1113.3 376.6,1108.6 373.1,1103.4 370.1,1097.9 367.7,1092.2 366,1086.2 365,1080.1 365,1073.7 366,1067.4 367.8,1061.1 370.2,1055.1 373.2,1049.4 376.5,1044 380,1039 383.7,1034.3 387.4,1030 391.2,1026 395.1,1022.3 398.9,1019 402.8,1015.9 406.6,1013.1 410.3,1010.5 414,1008.2 417.4,1006 420.8,1003.9 424.1,1002 427.4,1000.2 430.6,998.6 433.9,997.2 437.1,996 440.3,994.9 443.5,994 446.7,993.2 449.8,992.5 452.8,992 455.9,991.5 458.8,991.2 461.8,990.8 464.6,990.6 467.5,990.3 470.3,990 473.2,989.8 476,989.5 478.9,989.2 481.8,988.9 484.8,988.5 487.9,988.2 491,987.9 494.3,987.7 497.6,987.6 501.1,987.7 504.6,987.8 508.2,988.2 511.9,988.7 515.7,989.4 519.6,990.2 523.6,991.1 527.9,992.1 532.4,993.2 537.1,994.5 541.9,996.1 546.6,998.2 551.1,1000.7 555.2,1003.6 558.9,1007.1 562.1,1011 564.8,1015.2 566.9,1019.6 568.4,1024.4 569.2,1029.2 569.3,1034.2 568.6,1039.1Z" fill="#fbff04"/>
<path d="M565.3,1044 563.5,1048.6 561.3,1053 558.9,1057.1 556.1,1061 553.2,1064.7 550.1,1068.1 546.9,1071.2 543.6,1074.1 540.4,1076.8 537.3,1079.4 534.2,1081.8 531.2,1084.1 528.2,1086.3 525.3,1088.4 522.3,1090.3 519.3,1092.1 516.3,1093.7 513.2,1095.3 510.2,1096.7 507.2,1098 504.1,1099.2 501.1,1100.4 498.1,1101.6 495.1,1102.7 492.1,1103.9 489,1105.1 485.9,1106.3 482.7,1107.6 479.4,1108.9 476,1110.1 472.5,1111.3 468.8,1112.5 465,1113.6 461,1114.6 456.8,1115.5 452.5,1116.4 447.9,1117.3 442.9,1118.2 437.6,1119.3 431.9,1120.4 425.7,1121.4 419.3,1122.1 412.6,1122.3 406,1121.7 399.6,1120.4 393.7,1118.1 388.3,1115 383.6,1111.2 379.4,1106.7 375.9,1101.8 372.8,1096.6 370.3,1091.1 368.5,1085.3 367.5,1079.3 367.4,1073.1 368.3,1066.9 370.1,1060.8 372.5,1054.9 375.4,1049.3 378.6,1044 382.1,1039.1 385.7,1034.5 389.4,1030.3 393.1,1026.4 396.9,1022.8 400.7,1019.5 404.4,1016.5 408.2,1013.8 411.8,1011.3 415.4,1009 418.8,1006.9 422.1,1004.9 425.4,1003 428.5,1001.3 431.7,999.7 434.9,998.3 438,997.1 441.1,996 444.2,995 447.3,994.2 450.3,993.6 453.3,993 456.2,992.5 459.1,992.1 462,991.7 464.8,991.4 467.6,991.2 470.4,990.9 473.2,990.7 476,990.4 478.8,990.1 481.7,989.8 484.6,989.5 487.6,989.3 490.7,989 493.9,988.9 497.2,988.8 500.5,988.9 504,989.1 507.5,989.4 511.2,989.9 514.9,990.5 518.7,991.3 522.7,992.2 526.9,993.1 531.3,994.2 535.9,995.5 540.6,997.1 545.2,999.1 549.6,1001.5 553.6,1004.5 557.1,1007.9 560.2,1011.7 562.8,1015.8 564.9,1020.2 566.4,1024.8 567.2,1029.6 567.2,1034.4 566.6,1039.3Z" fill="#fff900"/>
<path d="M563.4,1044 561.6,1048.5 559.5,1052.8 557.1,1056.8 554.3,1060.7 551.4,1064.2 548.4,1067.5 545.2,1070.6 542,1073.4 538.8,1076 535.7,1078.5 532.7,1080.8 529.8,1083.1 527,1085.3 524.1,1087.3 521.2,1089.2 518.2,1090.9 515.3,1092.5 512.3,1094 509.4,1095.4 506.4,1096.7 503.5,1097.9 500.5,1099.1 497.6,1100.2 494.6,1101.3 491.6,1102.4 488.6,1103.5 485.6,1104.7 482.5,1105.8 479.3,1107 476,1108.2 472.6,1109.3 469,1110.4 465.3,1111.4 461.5,1112.4 457.5,1113.2 453.3,1114 448.8,1114.8 444,1115.8 438.9,1116.8 433.4,1117.8 427.5,1118.8 421.2,1119.4 414.9,1119.5 408.5,1119 402.3,1117.7 396.4,1115.6 391.1,1112.7 386.4,1109.1 382.2,1104.9 378.5,1100.3 375.4,1095.3 372.8,1090 370.9,1084.4 369.8,1078.5 369.7,1072.5 370.6,1066.4 372.3,1060.4 374.6,1054.7 377.5,1049.2 380.7,1044 384.1,1039.2 387.7,1034.7 391.3,1030.6 394.9,1026.8 398.6,1023.3 402.3,1020.1 406,1017.1 409.7,1014.5 413.3,1012 416.7,1009.8 420.1,1007.7 423.3,1005.7 426.5,1003.9 429.6,1002.2 432.7,1000.7 435.8,999.3 438.8,998.1 441.8,997 444.8,996 447.8,995.2 450.8,994.5 453.7,993.9 456.6,993.3 459.4,992.9 462.2,992.5 465,992.2 467.7,991.9 470.5,991.6 473.2,991.4 476,991.1 478.8,990.9 481.6,990.6 484.5,990.4 487.4,990.2 490.5,990 493.6,989.9 496.8,989.9 500,990 503.4,990.2 506.9,990.5 510.4,991 514.1,991.6 517.9,992.3 521.8,993.1 526,994 530.3,995.1 534.9,996.3 539.5,997.9 543.9,999.9 548.2,1002.3 552.1,1005.2 555.5,1008.6 558.5,1012.3 561,1016.4 563,1020.7 564.4,1025.2 565.2,1029.9 565.3,1034.6 564.6,1039.4Z" fill="#ffef00"/>
<path d="M561.6,1044 559.9,1048.4 557.8,1052.6 555.3,1056.6 552.7,1060.3 549.7,1063.8 546.7,1067 543.5,1069.9 540.3,1072.6 537.2,1075.2 534.2,1077.6 531.3,1079.9 528.5,1082.1 525.7,1084.2 522.9,1086.2 520.1,1088.1 517.2,1089.8 514.3,1091.3 511.5,1092.8 508.6,1094.2 505.7,1095.4 502.8,1096.6 499.9,1097.7 497,1098.8 494.1,1099.8 491.2,1100.9 488.3,1101.9 485.3,1103 482.3,1104.1 479.2,1105.2 476,1106.3 472.7,1107.3 469.2,1108.4 465.7,1109.3 461.9,1110.2 458,1111 454,1111.8 449.7,1112.6 445.1,1113.5 440.1,1114.5 434.8,1115.4 429,1116.3 423.1,1116.9 416.9,1117 410.7,1116.5 404.7,1115.3 399,1113.3 393.7,1110.6 389,1107.2 384.7,1103.3 381,1098.8 377.8,1094.1 375.1,1088.9 373.1,1083.5 372,1077.8 371.8,1071.9 372.7,1066 374.3,1060.1 376.7,1054.4 379.5,1049.1 382.7,1044 386.1,1039.3 389.6,1034.9 393.1,1030.9 396.7,1027.1 400.2,1023.7 403.9,1020.6 407.5,1017.7 411.1,1015.1 414.6,1012.7 418,1010.5 421.3,1008.5 424.5,1006.6 427.6,1004.8 430.6,1003.1 433.6,1001.6 436.6,1000.2 439.6,999 442.5,997.9 445.4,996.9 448.3,996 451.2,995.3 454,994.6 456.8,994.1 459.6,993.6 462.4,993.2 465.1,992.8 467.8,992.5 470.6,992.3 473.3,992 476,991.8 478.7,991.6 481.5,991.4 484.4,991.2 487.3,991 490.2,990.9 493.3,990.9 496.4,990.9 499.6,991.1 502.9,991.3 506.2,991.6 509.7,992.1 513.3,992.6 517.1,993.3 521,994 525.2,994.8 529.5,995.8 533.9,997.1 538.4,998.6 542.8,1000.6 546.9,1003 550.7,1005.9 554,1009.3 556.9,1013 559.3,1016.9 561.2,1021.2 562.5,1025.6 563.3,1030.2 563.4,1034.8 562.8,1039.5Z" fill="#ffe500"/>
<path d="M559.9,1044 558.2,1048.3 556.1,1052.4 553.7,1056.3 551,1059.9 548.1,1063.3 545,1066.4 541.9,1069.3 538.7,1071.9 535.6,1074.4 532.7,1076.7 529.8,1079 527.1,1081.1 524.4,1083.2 521.7,1085.1 518.9,1086.9 516.2,1088.6 513.4,1090.2 510.6,1091.6 507.8,1092.9 505,1094.1 502.1,1095.3 499.3,1096.4 496.5,1097.4 493.7,1098.4 490.8,1099.4 488,1100.4 485.1,1101.4 482.1,1102.4 479.1,1103.4 476,1104.4 472.8,1105.4 469.4,1106.3 466,1107.2 462.4,1108.1 458.6,1108.9 454.7,1109.7 450.5,1110.5 446,1111.4 441.2,1112.3 436,1113.2 430.5,1114 424.8,1114.5 418.8,1114.6 412.9,1114.1 407,1113 401.4,1111.1 396.2,1108.6 391.5,1105.4 387.2,1101.7 383.3,1097.5 380,1092.9 377.2,1088 375.2,1082.7 374,1077.1 373.9,1071.4 374.7,1065.5 376.3,1059.8 378.6,1054.2 381.4,1049 384.6,1044 387.9,1039.4 391.4,1035.1 394.8,1031.1 398.3,1027.5 401.8,1024.1 405.3,1021 408.9,1018.2 412.4,1015.7 415.8,1013.3 419.2,1011.2 422.4,1009.2 425.5,1007.3 428.6,1005.6 431.6,1004 434.5,1002.5 437.4,1001.1 440.3,999.9 443.1,998.7 445.9,997.7 448.8,996.8 451.5,996 454.3,995.3 457.1,994.7 459.8,994.2 462.5,993.8 465.2,993.4 467.9,993.1 470.6,992.8 473.3,992.6 476,992.4 478.7,992.2 481.5,992 484.3,991.9 487.1,991.8 490,991.7 493,991.8 496,991.9 499.1,992 502.3,992.3 505.7,992.6 509.1,993 512.7,993.5 516.4,994.1 520.3,994.8 524.4,995.6 528.7,996.6 533.1,997.8 537.5,999.3 541.8,1001.3 545.8,1003.7 549.4,1006.6 552.6,1009.9 555.3,1013.6 557.6,1017.5 559.4,1021.7 560.7,1026 561.4,1030.5 561.5,1035 561,1039.5Z" fill="#ffdb00"/>
<path d="M558.2,1044 556.6,1048.2 554.5,1052.3 552.1,1056.1 549.4,1059.6 546.5,1062.9 543.4,1065.9 540.3,1068.7 537.1,1071.2 534.1,1073.6 531.2,1075.9 528.4,1078 525.7,1080.1 523.1,1082.1 520.5,1084.1 517.8,1085.8 515.1,1087.5 512.4,1089 509.7,1090.4 507,1091.7 504.2,1092.9 501.5,1094 498.7,1095.1 496,1096.1 493.2,1097 490.5,1097.9 487.7,1098.9 484.8,1099.8 482,1100.7 479,1101.6 476,1102.5 472.9,1103.4 469.7,1104.3 466.3,1105.2 462.8,1106.1 459.2,1106.9 455.3,1107.7 451.2,1108.5 446.9,1109.4 442.2,1110.3 437.2,1111.2 431.9,1111.9 426.3,1112.4 420.6,1112.4 414.9,1111.9 409.2,1110.8 403.7,1109.1 398.6,1106.7 393.8,1103.7 389.4,1100.2 385.5,1096.2 382.1,1091.8 379.3,1087.1 377.2,1081.9 376,1076.5 375.8,1070.8 376.6,1065.1 378.2,1059.5 380.5,1054 383.3,1048.9 386.4,1044 389.7,1039.5 393.1,1035.3 396.5,1031.4 399.9,1027.8 403.3,1024.5 406.8,1021.5 410.2,1018.7 413.6,1016.2 417,1013.9 420.3,1011.8 423.5,1009.9 426.5,1008.1 429.5,1006.4 432.5,1004.8 435.3,1003.3 438.1,1001.9 440.9,1000.7 443.7,999.5 446.4,998.5 449.2,997.5 451.9,996.7 454.6,995.9 457.3,995.3 460,994.8 462.7,994.3 465.4,993.9 468,993.6 470.7,993.3 473.3,993.1 476,992.9 478.7,992.7 481.4,992.6 484.2,992.5 487,992.4 489.8,992.5 492.7,992.6 495.7,992.8 498.7,993 501.8,993.3 505.1,993.6 508.5,994 512,994.5 515.7,995 519.6,995.6 523.7,996.3 528,997.2 532.3,998.4 536.7,999.9 540.8,1001.9 544.7,1004.3 548.2,1007.2 551.2,1010.5 553.8,1014.1 556,1018 557.7,1022.1 558.9,1026.4 559.6,1030.8 559.7,1035.2 559.2,1039.6Z" fill="#ffd100"/>
<path d="M556.5,1044 555,1048.1 553,1052.1 550.6,1055.8 547.9,1059.3 544.9,1062.5 541.8,1065.4 538.7,1068.1 535.5,1070.5 532.5,1072.8 529.7,1075 527,1077.1 524.4,1079.1 521.8,1081.1 519.3,1083 516.7,1084.7 514.1,1086.3 511.5,1087.8 508.8,1089.2 506.2,1090.5 503.5,1091.7 500.8,1092.7 498.2,1093.8 495.5,1094.7 492.8,1095.6 490.1,1096.5 487.3,1097.3 484.6,1098.2 481.8,1099 478.9,1099.8 476,1100.6 473,1101.5 469.9,1102.3 466.6,1103.2 463.2,1104.1 459.7,1104.9 455.9,1105.7 452,1106.6 447.7,1107.5 443.2,1108.4 438.4,1109.2 433.2,1109.9 427.8,1110.3 422.3,1110.3 416.8,1109.8 411.3,1108.7 405.9,1107.1 400.8,1104.9 396.1,1102.1 391.7,1098.8 387.7,1095 384.2,1090.8 381.3,1086.2 379.1,1081.2 377.9,1075.9 377.7,1070.3 378.5,1064.7 380.1,1059.2 382.3,1053.8 385.1,1048.8 388.2,1044 391.5,1039.6 394.8,1035.5 398.1,1031.7 401.5,1028.2 404.8,1024.9 408.1,1022 411.5,1019.2 414.9,1016.8 418.2,1014.5 421.4,1012.5 424.5,1010.6 427.5,1008.8 430.5,1007.1 433.3,1005.6 436.1,1004.1 438.9,1002.7 441.6,1001.5 444.2,1000.3 446.9,999.2 449.6,998.2 452.2,997.3 454.9,996.5 457.5,995.9 460.2,995.3 462.8,994.8 465.5,994.4 468.1,994 470.7,993.7 473.4,993.5 476,993.3 478.7,993.2 481.3,993.1 484.1,993.1 486.8,993.1 489.6,993.2 492.5,993.4 495.3,993.6 498.3,993.9 501.4,994.2 504.5,994.6 507.9,994.9 511.4,995.3 515.1,995.8 518.9,996.3 523,997 527.3,997.8 531.6,999 535.8,1000.5 539.9,1002.5 543.6,1004.9 547,1007.8 549.9,1011.1 552.3,1014.7 554.4,1018.5 556,1022.6 557.2,1026.7 557.9,1031 558,1035.4 557.5,1039.7Z" fill="#ffc700"/>
<path d="M554.9,1044 553.4,1048.1 551.4,1051.9 549,1055.6 546.3,1058.9 543.3,1062 540.2,1064.9 537.1,1067.4 533.9,1069.8 531,1072 528.1,1074.1 525.5,1076.1 523,1078.1 520.5,1080 518.1,1081.9 515.6,1083.6 513.1,1085.2 510.5,1086.6 508,1088 505.4,1089.3 502.8,1090.4 500.2,1091.5 497.6,1092.5 495,1093.4 492.3,1094.2 489.7,1095 487,1095.8 484.3,1096.6 481.6,1097.3 478.8,1098 476,1098.7 473.1,1099.5 470.1,1100.3 466.9,1101.2 463.7,1102.1 460.2,1103 456.6,1103.8 452.7,1104.7 448.6,1105.6 444.1,1106.5 439.4,1107.3 434.5,1108 429.3,1108.3 424,1108.3 418.6,1107.8 413.3,1106.7 408,1105.2 403,1103.1 398.3,1100.5 393.8,1097.4 389.7,1093.8 386.2,1089.8 383.2,1085.3 381.1,1080.4 379.8,1075.2 379.6,1069.8 380.3,1064.3 381.9,1058.9 384.2,1053.6 387,1048.7 390,1044 393.3,1039.7 396.5,1035.6 399.8,1031.9 403,1028.5 406.3,1025.3 409.5,1022.4 412.8,1019.7 416.1,1017.3 419.3,1015.1 422.4,1013.1 425.5,1011.2 428.5,1009.5 431.4,1007.9 434.2,1006.3 436.9,1004.9 439.6,1003.5 442.2,1002.2 444.8,1001 447.4,999.9 449.9,998.9 452.5,997.9 455.1,997.1 457.7,996.4 460.3,995.8 462.9,995.3 465.5,994.8 468.2,994.5 470.8,994.2 473.4,993.9 476,993.8 478.6,993.7 481.3,993.6 484,993.6 486.7,993.7 489.4,993.9 492.2,994.1 495,994.5 497.9,994.8 500.9,995.2 504,995.5 507.3,995.9 510.7,996.2 514.4,996.6 518.3,997 522.4,997.6 526.6,998.4 530.8,999.6 535,1001.1 539,1003.1 542.6,1005.6 545.8,1008.4 548.5,1011.7 550.8,1015.3 552.8,1019.1 554.3,1023 555.4,1027.1 556.1,1031.3 556.2,1035.6 555.8,1039.8Z" fill="#ffbd00"/>
<path d="M553.2,1044 551.7,1048 549.8,1051.8 547.4,1055.3 544.7,1058.6 541.8,1061.6 538.6,1064.3 535.5,1066.8 532.4,1069.1 529.4,1071.2 526.6,1073.2 524,1075.2 521.6,1077.1 519.2,1079 516.8,1080.8 514.4,1082.4 512,1084 509.6,1085.5 507.1,1086.8 504.6,1088 502.1,1089.1 499.5,1090.2 497,1091.1 494.4,1092 491.9,1092.8 489.3,1093.6 486.7,1094.3 484.1,1094.9 481.4,1095.6 478.7,1096.2 476,1096.9 473.2,1097.6 470.3,1098.4 467.3,1099.2 464.1,1100.1 460.7,1101.1 457.2,1102 453.4,1102.9 449.4,1103.8 445.1,1104.7 440.5,1105.5 435.7,1106.1 430.7,1106.4 425.5,1106.3 420.4,1105.8 415.2,1104.8 410.1,1103.3 405.2,1101.4 400.4,1098.9 395.9,1096 391.8,1092.6 388.2,1088.7 385.2,1084.4 383,1079.7 381.7,1074.6 381.5,1069.3 382.2,1063.9 383.8,1058.6 386.1,1053.5 388.8,1048.6 391.9,1044 395.1,1039.8 398.3,1035.8 401.5,1032.2 404.6,1028.8 407.8,1025.7 410.9,1022.9 414.1,1020.2 417.3,1017.9 420.4,1015.7 423.5,1013.7 426.5,1011.9 429.5,1010.2 432.3,1008.6 435,1007.1 437.7,1005.7 440.3,1004.3 442.8,1003 445.3,1001.8 447.8,1000.6 450.3,999.6 452.9,998.6 455.4,997.7 457.9,997 460.5,996.3 463.1,995.7 465.6,995.3 468.2,994.9 470.8,994.6 473.4,994.4 476,994.2 478.6,994.2 481.2,994.1 483.9,994.2 486.6,994.4 489.2,994.6 491.9,994.9 494.7,995.3 497.5,995.7 500.4,996.1 503.4,996.5 506.6,996.8 510.1,997.1 513.8,997.4 517.6,997.8 521.7,998.3 525.9,999.1 530.1,1000.2 534.2,1001.7 538,1003.7 541.5,1006.2 544.6,1009.1 547.2,1012.3 549.4,1015.8 551.2,1019.6 552.6,1023.5 553.6,1027.5 554.3,1031.6 554.4,1035.8 554.1,1039.9Z" fill="#ffb300"/>
<path d="M551.5,1044 550.1,1047.9 548.2,1051.6 545.8,1055.1 543.1,1058.3 540.1,1061.2 537,1063.8 533.8,1066.2 530.7,1068.4 527.8,1070.4 525.1,1072.3 522.6,1074.2 520.2,1076.1 517.9,1077.9 515.6,1079.7 513.3,1081.3 511,1082.8 508.6,1084.2 506.2,1085.6 503.8,1086.8 501.3,1087.9 498.9,1088.9 496.4,1089.8 493.9,1090.6 491.4,1091.4 488.9,1092.1 486.4,1092.8 483.8,1093.3 481.2,1093.9 478.6,1094.4 476,1095 473.3,1095.7 470.5,1096.4 467.6,1097.3 464.5,1098.2 461.2,1099.2 457.8,1100.1 454.1,1101.1 450.1,1102.1 446,1103 441.5,1103.7 436.9,1104.2 432.1,1104.5 427.1,1104.4 422.1,1103.8 417.1,1102.9 412.2,1101.5 407.3,1099.6 402.6,1097.3 398.1,1094.6 393.9,1091.4 390.2,1087.7 387.2,1083.5 385,1078.9 383.7,1074 383.5,1068.8 384.2,1063.5 385.8,1058.3 388,1053.2 390.7,1048.5 393.8,1044 396.9,1039.9 400.1,1036 403.2,1032.5 406.2,1029.2 409.3,1026.1 412.3,1023.3 415.4,1020.8 418.5,1018.4 421.6,1016.3 424.6,1014.3 427.6,1012.6 430.5,1010.9 433.2,1009.4 435.9,1007.9 438.5,1006.5 441,1005.1 443.5,1003.8 445.9,1002.6 448.3,1001.4 450.7,1000.3 453.2,999.2 455.7,998.3 458.2,997.5 460.7,996.8 463.2,996.3 465.8,995.8 468.3,995.4 470.9,995.1 473.4,994.9 476,994.7 478.6,994.7 481.2,994.7 483.8,994.8 486.4,995 489,995.3 491.7,995.7 494.3,996.2 497.1,996.7 499.9,997.1 502.8,997.5 506,997.8 509.4,998 513.1,998.2 516.9,998.5 521,999 525.2,999.7 529.3,1000.8 533.3,1002.3 537.1,1004.3 540.4,1006.8 543.3,1009.7 545.8,1012.9 547.8,1016.4 549.5,1020.1 550.8,1024 551.8,1027.9 552.4,1031.9 552.6,1035.9 552.3,1040Z" fill="#ffa900"/>
<path d="M549.7,1044 548.3,1047.8 546.5,1051.4 544.2,1054.8 541.4,1057.9 538.5,1060.7 535.3,1063.3 532.2,1065.6 529.1,1067.6 526.2,1069.6 523.5,1071.4 521.1,1073.3 518.8,1075.1 516.5,1076.8 514.3,1078.5 512.1,1080.1 509.9,1081.6 507.6,1083 505.3,1084.3 502.9,1085.5 500.6,1086.6 498.2,1087.6 495.8,1088.4 493.4,1089.2 490.9,1090 488.5,1090.6 486,1091.2 483.6,1091.7 481.1,1092.2 478.6,1092.7 476,1093.2 473.4,1093.8 470.7,1094.5 467.9,1095.3 464.9,1096.3 461.7,1097.3 458.4,1098.3 454.8,1099.3 450.9,1100.3 446.9,1101.2 442.6,1101.9 438.1,1102.4 433.4,1102.6 428.7,1102.4 423.9,1101.9 419.1,1100.9 414.2,1099.6 409.5,1097.9 404.8,1095.8 400.3,1093.2 396.1,1090.1 392.4,1086.6 389.3,1082.6 387.1,1078.1 385.8,1073.3 385.5,1068.2 386.2,1063.1 387.8,1058 390,1053 392.7,1048.4 395.7,1044 398.8,1040 401.9,1036.2 404.9,1032.7 407.9,1029.5 410.9,1026.5 413.8,1023.8 416.8,1021.3 419.8,1019 422.8,1016.9 425.8,1015 428.7,1013.3 431.5,1011.7 434.2,1010.2 436.8,1008.7 439.3,1007.3 441.8,1006 444.2,1004.7 446.5,1003.4 448.8,1002.2 451.2,1001 453.6,1000 456,999 458.4,998.2 460.9,997.5 463.4,996.8 465.9,996.3 468.4,995.9 470.9,995.6 473.5,995.4 476,995.3 478.6,995.3 481.1,995.3 483.7,995.5 486.3,995.8 488.8,996.1 491.4,996.6 494,997.1 496.6,997.7 499.3,998.2 502.2,998.6 505.3,998.8 508.7,999 512.4,999.1 516.2,999.3 520.3,999.7 524.4,1000.4 528.5,1001.5 532.4,1003 536,1005 539.2,1007.5 542,1010.4 544.3,1013.6 546.2,1017.1 547.8,1020.7 549,1024.4 549.9,1028.3 550.5,1032.2 550.7,1036.1 550.4,1040.1Z" fill="#ff9f00"/>
<path d="M547.8,1044 546.5,1047.7 544.7,1051.2 542.4,1054.5 539.7,1057.5 536.7,1060.3 533.6,1062.7 530.4,1064.9 527.4,1066.9 524.6,1068.7 521.9,1070.5 519.5,1072.3 517.3,1074 515.2,1075.7 513.1,1077.4 510.9,1078.9 508.8,1080.4 506.6,1081.8 504.4,1083 502.1,1084.2 499.8,1085.2 497.5,1086.2 495.2,1087.1 492.8,1087.8 490.5,1088.5 488.1,1089.1 485.7,1089.6 483.3,1090.1 480.9,1090.5 478.5,1090.9 476,1091.3 473.5,1091.9 470.9,1092.6 468.2,1093.4 465.3,1094.3 462.2,1095.4 459,1096.4 455.5,1097.5 451.8,1098.5 447.8,1099.3 443.7,1100 439.3,1100.5 434.9,1100.6 430.3,1100.4 425.7,1099.9 421,1099 416.3,1097.7 411.7,1096.1 407,1094.1 402.5,1091.7 398.3,1088.8 394.6,1085.5 391.5,1081.6 389.3,1077.3 388,1072.6 387.7,1067.7 388.4,1062.6 389.9,1057.6 392.2,1052.8 394.8,1048.3 397.8,1044 400.8,1040.1 403.9,1036.4 406.8,1033 409.7,1029.9 412.5,1027 415.4,1024.3 418.3,1021.9 421.2,1019.6 424.2,1017.6 427,1015.7 429.9,1014 432.6,1012.5 435.3,1011 437.8,1009.6 440.2,1008.2 442.6,1006.9 444.9,1005.6 447.1,1004.3 449.4,1003 451.7,1001.8 454,1000.7 456.3,999.8 458.7,998.9 461.1,998.1 463.5,997.5 466,997 468.5,996.5 471,996.2 473.5,996 476,995.9 478.5,995.9 481,996 483.6,996.2 486.1,996.6 488.6,997 491.1,997.6 493.6,998.2 496.1,998.8 498.8,999.3 501.6,999.7 504.6,999.9 508,1000 511.6,1000.1 515.4,1000.2 519.4,1000.6 523.5,1001.2 527.5,1002.3 531.4,1003.8 534.9,1005.8 538,1008.2 540.6,1011.1 542.7,1014.3 544.5,1017.7 545.9,1021.3 547.1,1025 548,1028.7 548.5,1032.5 548.7,1036.4 548.5,1040.2Z" fill="#ff9500"/>
<path d="M545.8,1044 544.6,1047.6 542.8,1051 540.5,1054.2 537.8,1057.1 534.9,1059.8 531.8,1062.1 528.7,1064.2 525.7,1066.1 522.9,1067.9 520.3,1069.6 518,1071.3 515.8,1072.9 513.8,1074.6 511.8,1076.2 509.7,1077.7 507.7,1079.2 505.5,1080.5 503.4,1081.7 501.2,1082.8 499,1083.9 496.8,1084.8 494.5,1085.6 492.3,1086.4 490,1087 487.7,1087.5 485.4,1088 483,1088.4 480.7,1088.7 478.4,1089.1 476,1089.5 473.6,1090 471.1,1090.6 468.5,1091.4 465.7,1092.4 462.8,1093.4 459.6,1094.5 456.2,1095.6 452.6,1096.5 448.8,1097.4 444.8,1098.1 440.6,1098.5 436.3,1098.6 432,1098.4 427.5,1097.8 423,1097 418.5,1095.8 413.9,1094.3 409.4,1092.4 404.9,1090.2 400.7,1087.5 397,1084.3 393.9,1080.6 391.6,1076.4 390.3,1071.8 390.1,1067 390.7,1062.1 392.2,1057.3 394.4,1052.6 397.1,1048.1 400,1044 403,1040.2 405.9,1036.6 408.8,1033.4 411.6,1030.3 414.3,1027.5 417.1,1024.9 419.9,1022.5 422.7,1020.3 425.6,1018.3 428.4,1016.5 431.1,1014.9 433.8,1013.3 436.4,1011.9 438.8,1010.5 441.2,1009.2 443.5,1007.9 445.7,1006.6 447.8,1005.3 450,1004 452.2,1002.8 454.4,1001.6 456.7,1000.6 459,999.7 461.3,998.9 463.7,998.2 466.2,997.7 468.6,997.2 471.1,996.9 473.5,996.7 476,996.6 478.5,996.7 481,996.8 483.4,997.1 485.9,997.5 488.3,998 490.8,998.6 493.2,999.3 495.6,999.9 498.2,1000.5 500.9,1000.8 503.9,1001.1 507.2,1001.1 510.7,1001.1 514.5,1001.2 518.5,1001.5 522.5,1002.1 526.5,1003.1 530.2,1004.6 533.6,1006.6 536.6,1009 539,1011.9 541,1015 542.7,1018.4 544,1021.9 545.1,1025.5 545.9,1029.1 546.4,1032.8 546.6,1036.6 546.4,1040.3Z" fill="#ff8b00"/>
<path d="M543.6,1044 542.5,1047.5 540.8,1050.8 538.5,1053.9 535.9,1056.7 533,1059.3 529.9,1061.5 526.8,1063.5 523.9,1065.3 521.2,1067 518.7,1068.6 516.4,1070.3 514.4,1071.9 512.4,1073.5 510.5,1075 508.5,1076.5 506.5,1077.9 504.5,1079.2 502.4,1080.4 500.3,1081.5 498.2,1082.4 496,1083.3 493.9,1084.1 491.7,1084.8 489.5,1085.4 487.2,1085.9 485,1086.4 482.8,1086.7 480.5,1087 478.3,1087.3 476,1087.6 473.7,1088.1 471.3,1088.7 468.8,1089.5 466.1,1090.4 463.3,1091.5 460.2,1092.5 457,1093.6 453.5,1094.5 449.8,1095.4 446,1096 442,1096.4 437.9,1096.5 433.7,1096.3 429.4,1095.7 425.1,1094.9 420.8,1093.7 416.3,1092.3 411.8,1090.6 407.4,1088.5 403.3,1086 399.5,1083 396.4,1079.4 394.2,1075.4 392.9,1071 392.6,1066.3 393.2,1061.6 394.7,1056.9 396.9,1052.3 399.5,1048 402.3,1044 405.2,1040.3 408.1,1036.9 410.9,1033.7 413.6,1030.7 416.2,1028 418.9,1025.4 421.6,1023.1 424.3,1021 427.1,1019.1 429.8,1017.3 432.5,1015.7 435.1,1014.3 437.6,1012.9 440,1011.6 442.3,1010.3 444.4,1009 446.6,1007.6 448.6,1006.3 450.7,1005 452.8,1003.8 454.9,1002.6 457.1,1001.6 459.4,1000.6 461.6,999.8 464,999.1 466.3,998.5 468.7,998.1 471.1,997.8 473.6,997.6 476,997.5 478.4,997.6 480.9,997.8 483.3,998.1 485.7,998.5 488,999.1 490.4,999.8 492.7,1000.5 495.1,1001.2 497.5,1001.7 500.2,1002.1 503.1,1002.3 506.3,1002.3 509.8,1002.3 513.6,1002.3 517.5,1002.5 521.4,1003.1 525.3,1004.1 528.9,1005.5 532.2,1007.5 535,1009.9 537.3,1012.8 539.2,1015.9 540.7,1019.2 541.9,1022.6 542.9,1026.1 543.7,1029.6 544.2,1033.2 544.4,1036.8 544.2,1040.4Z" fill="#ff8100"/>
<path d="M541.5,1044 540.3,1047.4 538.7,1050.6 536.5,1053.6 533.9,1056.3 531,1058.7 528,1060.9 525,1062.8 522.2,1064.5 519.5,1066.2 517.1,1067.7 514.9,1069.3 512.9,1070.8 511,1072.4 509.2,1073.9 507.3,1075.3 505.4,1076.6 503.4,1077.9 501.5,1079.1 499.4,1080.1 497.4,1081.1 495.3,1081.9 493.2,1082.7 491.1,1083.4 489,1083.9 486.8,1084.4 484.7,1084.8 482.5,1085.1 480.3,1085.3 478.2,1085.6 476,1085.9 473.8,1086.3 471.5,1086.9 469.1,1087.6 466.5,1088.5 463.8,1089.6 460.9,1090.6 457.7,1091.6 454.4,1092.6 450.8,1093.4 447.1,1094 443.3,1094.3 439.4,1094.4 435.4,1094.2 431.3,1093.7 427.2,1092.8 422.9,1091.8 418.6,1090.5 414.2,1088.9 409.9,1086.9 405.8,1084.5 402.1,1081.7 399,1078.3 396.8,1074.4 395.5,1070.2 395.2,1065.7 395.8,1061 397.3,1056.5 399.4,1052.1 401.9,1047.9 404.7,1044 407.5,1040.4 410.3,1037.1 413,1034 415.6,1031.2 418.2,1028.5 420.7,1026 423.3,1023.8 426,1021.7 428.6,1019.9 431.3,1018.2 433.9,1016.6 436.4,1015.2 438.8,1013.9 441.1,1012.6 443.3,1011.3 445.4,1010.1 447.5,1008.8 449.4,1007.4 451.4,1006.1 453.4,1004.9 455.5,1003.7 457.6,1002.6 459.8,1001.7 462,1000.8 464.2,1000.1 466.5,999.5 468.9,999.1 471.2,998.7 473.6,998.6 476,998.5 478.4,998.6 480.7,998.8 483.1,999.2 485.4,999.7 487.7,1000.3 490,1001 492.2,1001.8 494.5,1002.5 496.9,1003.1 499.4,1003.4 502.2,1003.6 505.4,1003.6 508.8,1003.5 512.5,1003.5 516.4,1003.6 520.3,1004.2 524,1005.1 527.5,1006.6 530.7,1008.5 533.3,1010.9 535.5,1013.7 537.3,1016.7 538.7,1019.9 539.8,1023.3 540.7,1026.7 541.4,1030.1 541.9,1033.6 542.1,1037 542,1040.5Z" fill="#ff7700"/>
<path d="M539.3,1044 538.2,1047.3 536.6,1050.4 534.5,1053.3 531.9,1055.9 529.1,1058.2 526.2,1060.3 523.3,1062.1 520.5,1063.8 517.9,1065.3 515.6,1066.8 513.5,1068.3 511.6,1069.8 509.7,1071.3 508,1072.8 506.2,1074.2 504.3,1075.5 502.5,1076.7 500.5,1077.8 498.6,1078.8 496.6,1079.7 494.6,1080.6 492.6,1081.3 490.6,1081.9 488.5,1082.5 486.4,1082.9 484.3,1083.3 482.3,1083.5 480.2,1083.7 478.1,1084 476,1084.2 473.9,1084.6 471.7,1085.2 469.4,1085.9 466.9,1086.8 464.3,1087.8 461.4,1088.8 458.4,1089.8 455.2,1090.7 451.8,1091.5 448.2,1092.1 444.6,1092.4 440.8,1092.5 436.9,1092.2 433,1091.7 429.1,1090.9 425,1089.9 420.8,1088.7 416.5,1087.2 412.3,1085.4 408.3,1083.1 404.6,1080.4 401.6,1077.1 399.4,1073.4 398.1,1069.3 397.8,1064.9 398.4,1060.5 399.8,1056.1 401.9,1051.8 404.4,1047.8 407.1,1044 409.8,1040.5 412.5,1037.3 415.1,1034.4 417.6,1031.6 420.1,1029 422.6,1026.6 425.1,1024.5 427.6,1022.5 430.2,1020.7 432.7,1019 435.2,1017.5 437.7,1016.2 440,1014.9 442.3,1013.6 444.4,1012.4 446.4,1011.2 448.4,1009.9 450.3,1008.6 452.2,1007.3 454.1,1006.1 456.1,1004.9 458.1,1003.8 460.2,1002.9 462.4,1002 464.6,1001.3 466.8,1000.7 469.1,1000.2 471.4,999.9 473.7,999.7 476,999.7 478.3,999.8 480.6,1000 482.9,1000.4 485.2,1000.9 487.4,1001.6 489.5,1002.3 491.7,1003.1 493.9,1003.8 496.2,1004.4 498.7,1004.8 501.4,1004.9 504.4,1004.9 507.8,1004.7 511.4,1004.7 515.2,1004.8 519,1005.3 522.6,1006.2 526,1007.6 529.1,1009.5 531.6,1011.9 533.7,1014.6 535.3,1017.6 536.6,1020.7 537.7,1024 538.5,1027.2 539.2,1030.6 539.7,1033.9 539.9,1037.3 539.8,1040.7Z" fill="#ff6d00"/>
<path d="M537.1,1044 536.1,1047.1 534.5,1050.1 532.4,1052.9 530,1055.5 527.2,1057.7 524.4,1059.7 521.5,1061.5 518.8,1063.1 516.3,1064.6 514.1,1066 512.1,1067.4 510.2,1068.9 508.5,1070.3 506.8,1071.7 505,1073 503.3,1074.3 501.5,1075.5 499.6,1076.5 497.8,1077.5 495.9,1078.4 493.9,1079.2 492,1079.9 490,1080.5 488,1081 486,1081.5 484,1081.8 482,1082 480,1082.2 478,1082.4 476,1082.7 474,1083.1 471.8,1083.6 469.6,1084.3 467.3,1085.1 464.7,1086.1 462,1087.1 459.1,1088.1 456,1089 452.7,1089.7 449.3,1090.3 445.8,1090.6 442.1,1090.6 438.4,1090.4 434.7,1089.9 430.9,1089.1 426.9,1088.2 422.9,1087 418.8,1085.6 414.7,1083.8 410.7,1081.7 407.2,1079.1 404.2,1076 402.1,1072.4 400.8,1068.4 400.5,1064.2 401.1,1059.9 402.5,1055.6 404.4,1051.5 406.8,1047.6 409.5,1044 412.1,1040.7 414.8,1037.6 417.3,1034.7 419.7,1032 422,1029.5 424.4,1027.2 426.8,1025.1 429.3,1023.2 431.8,1021.5 434.2,1019.9 436.7,1018.5 439,1017.1 441.3,1015.9 443.5,1014.7 445.5,1013.5 447.5,1012.3 449.3,1011.1 451.1,1009.8 453,1008.5 454.8,1007.3 456.7,1006.1 458.7,1005.1 460.7,1004.1 462.8,1003.3 464.9,1002.6 467.1,1002 469.3,1001.5 471.5,1001.2 473.7,1001 476,1001 478.2,1001.1 480.5,1001.4 482.7,1001.8 484.9,1002.3 487,1003 489.1,1003.7 491.2,1004.4 493.3,1005.2 495.5,1005.8 497.9,1006.1 500.5,1006.3 503.5,1006.2 506.7,1006.1 510.2,1006 513.9,1006.1 517.6,1006.5 521.2,1007.4 524.4,1008.8 527.3,1010.7 529.8,1013 531.7,1015.6 533.3,1018.5 534.5,1021.5 535.5,1024.7 536.3,1027.8 537,1031 537.4,1034.3 537.7,1037.5 537.6,1040.8Z" fill="#ff6300"/>
<path d="M534.8,1044 533.8,1047 532.3,1049.9 530.3,1052.6 527.9,1055 525.3,1057.2 522.6,1059.1 519.8,1060.8 517.2,1062.3 514.8,1063.8 512.6,1065.1 510.7,1066.5 508.9,1067.9 507.2,1069.3 505.6,1070.6 503.9,1071.9 502.2,1073.1 500.5,1074.3 498.7,1075.3 496.9,1076.2 495.1,1077.1 493.3,1077.9 491.4,1078.6 489.5,1079.1 487.6,1079.6 485.7,1080 483.7,1080.3 481.8,1080.6 479.9,1080.7 477.9,1080.9 476,1081.2 474,1081.5 472,1082 469.9,1082.7 467.6,1083.5 465.2,1084.4 462.5,1085.4 459.7,1086.4 456.8,1087.2 453.6,1087.9 450.3,1088.5 446.9,1088.8 443.5,1088.8 439.9,1088.6 436.3,1088.1 432.6,1087.4 428.9,1086.5 425,1085.3 421,1084 417,1082.3 413.2,1080.3 409.7,1077.8 406.9,1074.8 404.8,1071.3 403.6,1067.5 403.3,1063.5 403.9,1059.3 405.2,1055.2 407.1,1051.2 409.4,1047.5 411.9,1044 414.5,1040.8 417,1037.8 419.4,1035 421.8,1032.5 424,1030.1 426.3,1027.9 428.7,1025.8 431,1024 433.4,1022.3 435.8,1020.8 438.1,1019.4 440.4,1018.1 442.6,1016.9 444.7,1015.8 446.6,1014.6 448.5,1013.5 450.3,1012.3 452.1,1011 453.8,1009.8 455.6,1008.6 457.4,1007.5 459.3,1006.5 461.2,1005.5 463.2,1004.7 465.3,1004 467.4,1003.4 469.5,1003 471.7,1002.7 473.8,1002.5 476,1002.5 478.2,1002.6 480.3,1002.9 482.5,1003.3 484.5,1003.8 486.6,1004.4 488.6,1005.1 490.6,1005.9 492.7,1006.6 494.8,1007.2 497.1,1007.5 499.6,1007.6 502.5,1007.6 505.6,1007.4 509,1007.3 512.6,1007.4 516.1,1007.9 519.5,1008.7 522.7,1010.1 525.5,1011.9 527.8,1014.1 529.7,1016.6 531.2,1019.4 532.4,1022.4 533.3,1025.4 534.1,1028.4 534.7,1031.5 535.1,1034.6 535.4,1037.8 535.3,1040.9Z" fill="#ff5900"/>
<path d="M532.4,1044 531.5,1046.9 530.1,1049.7 528.2,1052.3 525.9,1054.6 523.3,1056.7 520.7,1058.5 518,1060.1 515.5,1061.6 513.2,1063 511.1,1064.3 509.3,1065.6 507.6,1066.9 506,1068.3 504.4,1069.6 502.8,1070.8 501.2,1072 499.5,1073 497.8,1074 496.1,1074.9 494.3,1075.8 492.6,1076.5 490.8,1077.2 488.9,1077.7 487.1,1078.2 485.3,1078.6 483.4,1078.9 481.6,1079.1 479.7,1079.3 477.9,1079.4 476,1079.7 474.1,1080 472.2,1080.5 470.1,1081.1 467.9,1081.9 465.6,1082.8 463.1,1083.7 460.4,1084.6 457.5,1085.5 454.5,1086.2 451.4,1086.7 448.1,1086.9 444.8,1087 441.4,1086.8 437.9,1086.3 434.4,1085.6 430.8,1084.7 427,1083.7 423.2,1082.4 419.4,1080.8 415.7,1078.8 412.4,1076.4 409.7,1073.5 407.7,1070.2 406.5,1066.6 406.2,1062.7 406.8,1058.7 408,1054.8 409.9,1051 412.1,1047.4 414.5,1044 417,1040.9 419.4,1038.1 421.7,1035.4 423.9,1032.9 426.1,1030.6 428.3,1028.5 430.6,1026.6 432.8,1024.8 435.1,1023.2 437.4,1021.7 439.6,1020.4 441.8,1019.2 443.9,1018 445.9,1016.9 447.8,1015.8 449.6,1014.7 451.3,1013.5 453,1012.4 454.7,1011.2 456.4,1010 458.1,1009 460,1008 461.8,1007.1 463.7,1006.3 465.7,1005.6 467.7,1005 469.8,1004.6 471.8,1004.3 473.9,1004.1 476,1004.1 478.1,1004.2 480.2,1004.5 482.2,1004.9 484.2,1005.4 486.2,1006 488.1,1006.7 490,1007.4 492,1008.1 494,1008.6 496.2,1009 498.7,1009.1 501.4,1009 504.4,1008.9 507.7,1008.8 511.1,1008.9 514.5,1009.3 517.8,1010.1 520.8,1011.4 523.5,1013.1 525.8,1015.3 527.6,1017.7 529,1020.4 530.1,1023.2 531,1026.1 531.8,1029.1 532.4,1032 532.8,1035 533,1038 532.9,1041Z" fill="#ff4f00"/>
<path d="M530,1044 529.1,1046.8 527.7,1049.4 525.9,1051.9 523.7,1054.1 521.3,1056.1 518.7,1057.9 516.2,1059.4 513.8,1060.8 511.6,1062.1 509.6,1063.4 507.8,1064.7 506.2,1066 504.7,1067.2 503.2,1068.5 501.6,1069.6 500.1,1070.7 498.5,1071.8 496.9,1072.7 495.2,1073.6 493.5,1074.4 491.8,1075.1 490.1,1075.7 488.4,1076.3 486.6,1076.7 484.9,1077.1 483.1,1077.4 481.3,1077.6 479.5,1077.7 477.8,1077.9 476,1078.1 474.2,1078.5 472.3,1078.9 470.4,1079.5 468.3,1080.3 466,1081.1 463.6,1082 461.1,1082.9 458.3,1083.7 455.4,1084.4 452.4,1084.8 449.3,1085.1 446.1,1085.1 442.9,1084.9 439.6,1084.5 436.2,1083.8 432.7,1083 429.1,1082 425.5,1080.7 421.8,1079.2 418.3,1077.3 415.2,1075 412.6,1072.2 410.7,1069.1 409.6,1065.6 409.3,1061.9 409.8,1058.1 411,1054.3 412.8,1050.6 414.9,1047.2 417.2,1044 419.6,1041 421.9,1038.3 424.1,1035.8 426.2,1033.4 428.3,1031.2 430.4,1029.2 432.6,1027.3 434.7,1025.6 436.9,1024.1 439.1,1022.7 441.2,1021.4 443.3,1020.3 445.3,1019.2 447.2,1018.1 449.1,1017.1 450.8,1016 452.4,1014.9 454,1013.8 455.6,1012.6 457.3,1011.5 458.9,1010.5 460.7,1009.6 462.5,1008.7 464.3,1008 466.2,1007.3 468.1,1006.8 470,1006.4 472,1006.1 474,1005.9 476,1005.9 478,1006 480,1006.3 481.9,1006.6 483.8,1007.1 485.7,1007.7 487.6,1008.3 489.4,1009 491.3,1009.7 493.2,1010.2 495.3,1010.5 497.7,1010.6 500.3,1010.6 503.2,1010.4 506.3,1010.4 509.5,1010.5 512.8,1010.9 515.9,1011.7 518.9,1012.9 521.4,1014.5 523.5,1016.5 525.3,1018.9 526.7,1021.4 527.7,1024.1 528.6,1026.9 529.3,1029.7 529.9,1032.5 530.3,1035.4 530.5,1038.3 530.4,1041.1Z" fill="#ff4400"/>
<path d="M527.3,1044 526.5,1046.6 525.2,1049.2 523.4,1051.5 521.4,1053.6 519.1,1055.5 516.7,1057.2 514.3,1058.7 512,1060 509.9,1061.3 508,1062.5 506.3,1063.7 504.8,1064.9 503.3,1066.1 501.9,1067.3 500.4,1068.4 498.9,1069.5 497.4,1070.5 495.9,1071.4 494.3,1072.2 492.7,1072.9 491.1,1073.6 489.4,1074.2 487.8,1074.7 486.1,1075.2 484.4,1075.5 482.8,1075.8 481.1,1076 479.4,1076.2 477.7,1076.3 476,1076.5 474.3,1076.9 472.5,1077.3 470.6,1077.9 468.6,1078.6 466.5,1079.4 464.2,1080.2 461.8,1081.1 459.2,1081.8 456.4,1082.5 453.5,1082.9 450.6,1083.2 447.5,1083.2 444.4,1083 441.2,1082.6 438,1082 434.7,1081.2 431.3,1080.2 427.9,1079 424.4,1077.5 421.1,1075.7 418.1,1073.5 415.6,1070.9 413.8,1067.9 412.8,1064.5 412.5,1061 413,1057.4 414.2,1053.8 415.8,1050.3 417.9,1047 420.1,1044 422.3,1041.2 424.5,1038.6 426.6,1036.2 428.6,1033.9 430.6,1031.8 432.6,1029.9 434.7,1028.1 436.7,1026.5 438.8,1025.1 440.9,1023.7 442.9,1022.5 444.9,1021.4 446.8,1020.4 448.6,1019.4 450.4,1018.4 452,1017.3 453.6,1016.3 455.1,1015.2 456.6,1014.2 458.2,1013.2 459.8,1012.2 461.4,1011.3 463.1,1010.5 464.9,1009.8 466.7,1009.2 468.5,1008.7 470.3,1008.3 472.2,1008.1 474.1,1007.9 476,1007.9 477.9,1008 479.8,1008.2 481.6,1008.5 483.4,1009 485.2,1009.5 487,1010.1 488.8,1010.8 490.5,1011.4 492.4,1011.8 494.4,1012.2 496.6,1012.3 499.1,1012.2 501.8,1012.1 504.8,1012 507.9,1012.1 511,1012.5 513.9,1013.3 516.7,1014.4 519.1,1016 521.2,1017.9 522.8,1020.1 524.2,1022.6 525.2,1025.1 526.1,1027.7 526.7,1030.4 527.3,1033.1 527.7,1035.8 527.8,1038.6 527.8,1041.3Z" fill="#ff3a00"/>
<path d="M524.5,1044 523.7,1046.5 522.5,1048.9 520.9,1051.1 518.9,1053.1 516.8,1054.9 514.5,1056.5 512.3,1057.9 510.1,1059.2 508.1,1060.4 506.3,1061.5 504.7,1062.7 503.3,1063.8 501.9,1065 500.5,1066.1 499.1,1067.1 497.7,1068.1 496.3,1069.1 494.8,1069.9 493.3,1070.7 491.8,1071.4 490.3,1072 488.7,1072.6 487.2,1073.1 485.6,1073.5 484,1073.8 482.4,1074.1 480.8,1074.3 479.2,1074.5 477.6,1074.7 476,1074.9 474.4,1075.2 472.7,1075.6 470.9,1076.1 469,1076.8 467,1077.6 464.8,1078.4 462.5,1079.1 460,1079.9 457.4,1080.4 454.7,1080.9 451.9,1081.1 449,1081.2 446,1081 443,1080.6 440,1080 436.9,1079.2 433.7,1078.3 430.4,1077.1 427.1,1075.7 424,1074 421.3,1071.9 418.9,1069.4 417.2,1066.6 416.3,1063.4 416,1060.1 416.5,1056.6 417.6,1053.3 419.1,1050 421,1046.9 423.1,1044 425.2,1041.3 427.3,1038.9 429.3,1036.6 431.2,1034.5 433.1,1032.5 435,1030.7 436.9,1029 438.9,1027.5 440.9,1026.1 442.8,1024.8 444.7,1023.7 446.6,1022.7 448.4,1021.7 450.1,1020.7 451.8,1019.8 453.3,1018.8 454.8,1017.8 456.3,1016.8 457.7,1015.9 459.2,1014.9 460.7,1014 462.3,1013.2 463.9,1012.4 465.5,1011.8 467.2,1011.2 468.9,1010.8 470.7,1010.4 472.4,1010.2 474.2,1010 476,1010 477.8,1010.1 479.5,1010.3 481.3,1010.6 483,1011 484.7,1011.5 486.4,1012 488.1,1012.6 489.7,1013.2 491.5,1013.6 493.4,1013.9 495.5,1014 497.8,1014 500.4,1013.9 503.2,1013.8 506.1,1013.9 509,1014.3 511.8,1015 514.4,1016.1 516.7,1017.6 518.6,1019.4 520.2,1021.5 521.5,1023.7 522.5,1026.1 523.3,1028.6 524,1031.1 524.5,1033.7 524.8,1036.3 525,1038.8 524.9,1041.4Z" fill="#ff3000"/>
<path d="M521.5,1044 520.8,1046.3 519.6,1048.6 518.1,1050.7 516.3,1052.6 514.2,1054.2 512.2,1055.7 510.1,1057.1 508.1,1058.3 506.2,1059.4 504.5,1060.5 503,1061.5 501.6,1062.6 500.3,1063.7 499,1064.7 497.7,1065.7 496.4,1066.7 495.1,1067.5 493.7,1068.3 492.3,1069.1 490.9,1069.7 489.4,1070.3 488,1070.9 486.5,1071.3 485,1071.7 483.5,1072.1 482,1072.3 480.5,1072.5 479,1072.7 477.5,1072.8 476,1073.1 474.5,1073.3 472.9,1073.8 471.2,1074.3 469.4,1074.9 467.5,1075.6 465.5,1076.3 463.3,1077.1 461,1077.7 458.5,1078.3 456,1078.7 453.3,1078.9 450.6,1079 447.8,1078.8 445,1078.5 442.1,1077.9 439.2,1077.2 436.2,1076.3 433.1,1075.2 430.1,1073.8 427.2,1072.2 424.6,1070.2 422.5,1067.8 420.9,1065.1 420,1062.2 419.8,1059.1 420.2,1055.9 421.2,1052.7 422.7,1049.6 424.5,1046.7 426.4,1044 428.4,1041.5 430.3,1039.2 432.2,1037.1 434,1035.1 435.8,1033.2 437.6,1031.5 439.4,1029.9 441.2,1028.5 443,1027.2 444.9,1026 446.7,1025 448.4,1024 450.1,1023.1 451.7,1022.2 453.3,1021.3 454.7,1020.4 456.1,1019.5 457.5,1018.6 458.9,1017.6 460.3,1016.8 461.7,1015.9 463.2,1015.2 464.7,1014.5 466.2,1013.9 467.8,1013.4 469.4,1013 471,1012.7 472.7,1012.4 474.3,1012.3 476,1012.3 477.7,1012.3 479.3,1012.5 480.9,1012.8 482.6,1013.1 484.2,1013.6 485.7,1014.1 487.3,1014.6 488.9,1015.1 490.5,1015.5 492.3,1015.8 494.3,1015.9 496.4,1015.9 498.8,1015.8 501.4,1015.8 504.1,1015.9 506.8,1016.2 509.5,1016.9 511.9,1017.9 514.1,1019.3 515.9,1021 517.4,1022.9 518.6,1025 519.6,1027.3 520.4,1029.6 521,1031.9 521.5,1034.3 521.8,1036.7 522,1039.2 521.9,1041.6Z" fill="#ff2600"/>
<path d="M518.3,1044 517.5,1046.2 516.5,1048.3 515.1,1050.2 513.4,1051.9 511.5,1053.5 509.6,1054.9 507.7,1056.2 505.8,1057.3 504.1,1058.3 502.6,1059.3 501.2,1060.3 499.9,1061.3 498.6,1062.3 497.4,1063.3 496.2,1064.2 495,1065.1 493.7,1065.9 492.5,1066.7 491.2,1067.3 489.8,1068 488.5,1068.5 487.1,1069 485.8,1069.4 484.4,1069.8 483,1070.1 481.6,1070.4 480.2,1070.6 478.8,1070.7 477.4,1070.9 476,1071.1 474.6,1071.4 473.1,1071.7 471.5,1072.2 469.9,1072.8 468.1,1073.5 466.2,1074.1 464.2,1074.8 462,1075.4 459.7,1075.9 457.3,1076.3 454.9,1076.6 452.3,1076.6 449.7,1076.5 447.1,1076.1 444.4,1075.6 441.7,1074.9 438.9,1074 436.1,1073 433.3,1071.7 430.6,1070.2 428.3,1068.3 426.3,1066.1 424.9,1063.6 424,1060.9 423.8,1058 424.2,1055 425.2,1052 426.5,1049.2 428.2,1046.5 430,1044 431.8,1041.7 433.6,1039.5 435.3,1037.6 437,1035.7 438.6,1034 440.3,1032.4 442,1030.9 443.7,1029.6 445.4,1028.4 447.1,1027.3 448.8,1026.3 450.4,1025.4 452,1024.6 453.5,1023.7 454.9,1022.9 456.3,1022.1 457.6,1021.2 458.9,1020.4 460.1,1019.6 461.4,1018.8 462.8,1018 464.1,1017.3 465.5,1016.7 467,1016.2 468.4,1015.7 469.9,1015.3 471.4,1015.1 472.9,1014.8 474.5,1014.7 476,1014.7 477.5,1014.7 479.1,1014.9 480.6,1015.1 482.1,1015.4 483.6,1015.8 485,1016.3 486.5,1016.7 487.9,1017.2 489.5,1017.6 491.1,1017.8 492.9,1017.9 495,1017.9 497.2,1017.9 499.5,1017.8 502,1018 504.5,1018.3 507,1018.9 509.2,1019.8 511.3,1021.1 513,1022.6 514.4,1024.4 515.5,1026.4 516.5,1028.5 517.2,1030.6 517.8,1032.8 518.3,1035 518.6,1037.3 518.7,1039.5 518.6,1041.8Z" fill="#ff1c00"/>
<path d="M514.7,1044 514.1,1046 513.1,1047.9 511.8,1049.7 510.3,1051.3 508.6,1052.7 506.8,1054 505.1,1055.2 503.4,1056.2 501.8,1057.2 500.4,1058.1 499.1,1059 497.9,1059.9 496.8,1060.9 495.7,1061.7 494.6,1062.6 493.5,1063.4 492.3,1064.1 491.1,1064.8 489.9,1065.4 488.7,1066 487.5,1066.5 486.2,1067 485,1067.4 483.7,1067.7 482.4,1068 481.1,1068.2 479.9,1068.4 478.6,1068.6 477.3,1068.7 476,1068.9 474.7,1069.2 473.3,1069.5 471.9,1070 470.4,1070.5 468.7,1071.1 467,1071.7 465.1,1072.3 463.1,1072.9 461,1073.4 458.8,1073.7 456.6,1073.9 454.2,1074 451.8,1073.9 449.4,1073.5 446.9,1073.1 444.4,1072.4 441.9,1071.6 439.3,1070.7 436.8,1069.5 434.4,1068 432.2,1066.3 430.4,1064.3 429.1,1062 428.4,1059.5 428.2,1056.8 428.6,1054.1 429.4,1051.4 430.7,1048.8 432.2,1046.3 433.8,1044 435.5,1041.9 437.1,1039.9 438.7,1038.1 440.2,1036.4 441.8,1034.8 443.3,1033.4 444.8,1032 446.4,1030.8 448,1029.7 449.5,1028.7 451.1,1027.8 452.6,1027 454,1026.2 455.4,1025.4 456.7,1024.7 457.9,1023.9 459.1,1023.2 460.3,1022.4 461.5,1021.7 462.7,1020.9 463.9,1020.3 465.2,1019.6 466.4,1019.1 467.8,1018.6 469.1,1018.2 470.4,1017.9 471.8,1017.6 473.2,1017.4 474.6,1017.3 476,1017.3 477.4,1017.3 478.8,1017.4 480.2,1017.6 481.5,1017.9 482.9,1018.2 484.2,1018.6 485.6,1019 486.9,1019.4 488.3,1019.8 489.9,1020 491.5,1020.1 493.4,1020.1 495.4,1020.1 497.5,1020.1 499.8,1020.2 502.1,1020.5 504.3,1021.1 506.4,1021.9 508.2,1023.1 509.8,1024.5 511.2,1026.1 512.2,1027.9 513.1,1029.8 513.8,1031.7 514.3,1033.7 514.7,1035.8 515,1037.8 515.2,1039.9 515.1,1042Z" fill="#ff1200"/>
<path d="M510.9,1044 510.3,1045.8 509.4,1047.5 508.3,1049.1 506.9,1050.6 505.4,1051.9 503.8,1053 502.3,1054.1 500.7,1055 499.3,1055.9 498,1056.7 496.9,1057.6 495.8,1058.4 494.8,1059.2 493.8,1060 492.8,1060.8 491.8,1061.5 490.7,1062.2 489.6,1062.8 488.6,1063.3 487.5,1063.9 486.4,1064.3 485.2,1064.7 484.1,1065.1 483,1065.4 481.8,1065.7 480.7,1065.9 479.5,1066.1 478.3,1066.2 477.2,1066.4 476,1066.5 474.8,1066.8 473.6,1067.1 472.3,1067.5 470.9,1068 469.4,1068.5 467.9,1069.1 466.2,1069.6 464.4,1070.1 462.5,1070.5 460.5,1070.9 458.4,1071.1 456.3,1071.1 454.1,1071 451.9,1070.7 449.7,1070.3 447.5,1069.7 445.2,1069 442.9,1068.1 440.6,1067 438.4,1065.7 436.5,1064.1 434.9,1062.3 433.8,1060.2 433.1,1057.9 432.9,1055.5 433.3,1053.1 434,1050.6 435.1,1048.3 436.5,1046.1 438,1044 439.5,1042.1 440.9,1040.3 442.4,1038.7 443.8,1037.1 445.1,1035.7 446.5,1034.4 447.9,1033.2 449.3,1032.1 450.7,1031.1 452.1,1030.2 453.5,1029.4 454.9,1028.6 456.2,1027.9 457.4,1027.3 458.6,1026.6 459.7,1025.9 460.8,1025.2 461.9,1024.6 462.9,1023.9 464,1023.2 465.1,1022.7 466.3,1022.1 467.4,1021.6 468.6,1021.2 469.8,1020.8 471,1020.5 472.2,1020.3 473.5,1020.1 474.7,1020 476,1020 477.3,1020 478.5,1020.1 479.8,1020.3 481,1020.5 482.2,1020.8 483.4,1021.2 484.6,1021.5 485.8,1021.9 487.1,1022.2 488.5,1022.4 490,1022.5 491.6,1022.5 493.4,1022.5 495.4,1022.5 497.4,1022.6 499.5,1022.9 501.5,1023.4 503.3,1024.1 505,1025.2 506.4,1026.4 507.6,1027.9 508.6,1029.5 509.4,1031.2 510,1032.9 510.5,1034.7 510.9,1036.6 511.2,1038.4 511.3,1040.3 511.2,1042.2Z" fill="#ff0800"/>
<path d="M506.8,1044 506.2,1045.6 505.5,1047.1 504.4,1048.5 503.2,1049.8 501.9,1050.9 500.5,1052 499.1,1052.9 497.8,1053.7 496.6,1054.5 495.4,1055.2 494.4,1056 493.5,1056.7 492.6,1057.4 491.7,1058.1 490.8,1058.8 489.9,1059.4 489,1060 488,1060.6 487.1,1061.1 486.1,1061.5 485.1,1061.9 484.1,1062.3 483.1,1062.6 482.1,1062.9 481.1,1063.1 480.1,1063.3 479.1,1063.5 478.1,1063.6 477,1063.7 476,1063.9 474.9,1064.1 473.9,1064.4 472.7,1064.7 471.5,1065.2 470.2,1065.6 468.8,1066.1 467.3,1066.6 465.7,1067 464.1,1067.4 462.3,1067.7 460.5,1067.9 458.6,1067.9 456.7,1067.8 454.8,1067.6 452.8,1067.2 450.8,1066.7 448.8,1066 446.8,1065.2 444.8,1064.3 442.9,1063.1 441.2,1061.7 439.8,1060.1 438.8,1058.3 438.2,1056.3 438.1,1054.2 438.4,1052 439,1049.9 440,1047.8 441.2,1045.8 442.5,1044 443.8,1042.3 445.1,1040.8 446.4,1039.3 447.6,1038 448.8,1036.7 450,1035.6 451.3,1034.5 452.5,1033.5 453.7,1032.7 455,1031.9 456.2,1031.1 457.4,1030.5 458.5,1029.8 459.6,1029.2 460.7,1028.7 461.6,1028.1 462.6,1027.5 463.6,1026.9 464.5,1026.3 465.5,1025.7 466.4,1025.2 467.4,1024.7 468.4,1024.3 469.5,1023.9 470.5,1023.6 471.6,1023.4 472.7,1023.2 473.8,1023 474.9,1022.9 476,1022.9 477.1,1022.9 478.2,1023 479.3,1023.2 480.4,1023.4 481.5,1023.6 482.5,1023.9 483.6,1024.2 484.7,1024.5 485.8,1024.8 487,1025 488.3,1025 489.8,1025.1 491.4,1025 493.1,1025 494.8,1025.2 496.6,1025.4 498.4,1025.9 500,1026.5 501.5,1027.4 502.8,1028.5 503.9,1029.8 504.7,1031.2 505.4,1032.7 506,1034.3 506.4,1035.8 506.8,1037.5 507,1039.1 507.1,1040.7 507,1042.4Z" fill="#fd0000"/>
<path d="M501.6,1044 501.1,1045.3 500.5,1046.6 499.7,1047.7 498.7,1048.8 497.6,1049.8 496.4,1050.6 495.2,1051.4 494.1,1052.1 493.1,1052.7 492.2,1053.3 491.3,1053.9 490.5,1054.6 489.8,1055.2 489,1055.7 488.3,1056.3 487.6,1056.8 486.8,1057.3 486,1057.8 485.2,1058.2 484.4,1058.6 483.6,1058.9 482.8,1059.2 481.9,1059.5 481.1,1059.7 480.3,1059.9 479.4,1060 478.6,1060.2 477.7,1060.3 476.9,1060.4 476,1060.5 475.1,1060.7 474.2,1060.9 473.3,1061.2 472.3,1061.6 471.2,1062 470,1062.4 468.8,1062.8 467.5,1063.1 466.1,1063.5 464.6,1063.7 463.1,1063.8 461.6,1063.9 460,1063.8 458.4,1063.6 456.7,1063.3 455.1,1062.8 453.4,1062.3 451.7,1061.7 450,1060.9 448.5,1059.9 447.1,1058.7 445.9,1057.4 445.1,1055.9 444.6,1054.2 444.5,1052.5 444.7,1050.7 445.3,1048.9 446.1,1047.1 447.1,1045.5 448.1,1044 449.2,1042.6 450.3,1041.3 451.4,1040.1 452.4,1039 453.4,1037.9 454.4,1037 455.4,1036.1 456.5,1035.3 457.5,1034.6 458.5,1033.9 459.5,1033.3 460.5,1032.8 461.5,1032.2 462.4,1031.7 463.2,1031.2 464.1,1030.7 464.9,1030.3 465.7,1029.8 466.4,1029.3 467.2,1028.8 468,1028.4 468.9,1028 469.7,1027.6 470.6,1027.3 471.5,1027.1 472.4,1026.8 473.3,1026.7 474.2,1026.6 475.1,1026.5 476,1026.5 476.9,1026.5 477.8,1026.5 478.7,1026.7 479.6,1026.8 480.5,1027 481.4,1027.3 482.3,1027.5 483.2,1027.8 484.1,1028 485.1,1028.2 486.2,1028.2 487.4,1028.2 488.8,1028.2 490.2,1028.2 491.7,1028.3 493.2,1028.5 494.6,1028.9 496,1029.5 497.2,1030.2 498.3,1031.1 499.2,1032.2 499.9,1033.4 500.5,1034.6 500.9,1035.9 501.3,1037.2 501.6,1038.6 501.8,1039.9 501.9,1041.3 501.8,1042.6Z" fill="#f30000"/>
<path d="M494.9,1044 494.6,1045 494.1,1045.9 493.5,1046.8 492.8,1047.6 492,1048.3 491.1,1048.9 490.2,1049.5 489.4,1050 488.7,1050.5 488,1050.9 487.3,1051.4 486.8,1051.8 486.2,1052.3 485.7,1052.7 485.1,1053.1 484.6,1053.5 484,1053.9 483.4,1054.2 482.8,1054.5 482.2,1054.8 481.6,1055 481,1055.2 480.4,1055.4 479.8,1055.6 479.2,1055.8 478.5,1055.9 477.9,1056 477.3,1056.1 476.6,1056.1 476,1056.2 475.4,1056.4 474.7,1056.5 474,1056.8 473.2,1057 472.4,1057.3 471.6,1057.6 470.7,1057.9 469.7,1058.2 468.7,1058.4 467.6,1058.6 466.5,1058.7 465.3,1058.7 464.1,1058.7 462.9,1058.5 461.7,1058.3 460.5,1058 459.3,1057.6 458,1057.1 456.8,1056.5 455.6,1055.8 454.6,1054.9 453.7,1053.9 453.1,1052.8 452.7,1051.6 452.7,1050.3 452.8,1048.9 453.2,1047.6 453.8,1046.3 454.6,1045.1 455.4,1044 456.2,1043 457,1042 457.8,1041.1 458.5,1040.3 459.3,1039.5 460,1038.8 460.8,1038.2 461.5,1037.6 462.3,1037 463.1,1036.5 463.8,1036.1 464.5,1035.7 465.2,1035.3 465.9,1034.9 466.6,1034.6 467.2,1034.2 467.8,1033.8 468.3,1033.5 468.9,1033.1 469.5,1032.8 470.1,1032.4 470.7,1032.1 471.3,1031.9 472,1031.7 472.6,1031.5 473.3,1031.3 474,1031.2 474.6,1031.1 475.3,1031 476,1031 476.7,1031 477.4,1031.1 478,1031.2 478.7,1031.3 479.4,1031.4 480,1031.6 480.7,1031.8 481.3,1032 482,1032.2 482.8,1032.3 483.6,1032.3 484.5,1032.3 485.5,1032.3 486.5,1032.3 487.6,1032.4 488.7,1032.6 489.8,1032.8 490.8,1033.2 491.7,1033.8 492.5,1034.5 493.2,1035.3 493.7,1036.1 494.1,1037 494.5,1038 494.7,1039 494.9,1040 495.1,1041 495.2,1042 495.1,1043Z" fill="#e90000"/>
<path d="M487.3,1044 487.1,1044.6 486.9,1045.1 486.5,1045.7 486,1046.1 485.6,1046.6 485,1046.9 484.5,1047.3 484,1047.6 483.6,1047.9 483.2,1048.1 482.8,1048.4 482.4,1048.7 482.1,1048.9 481.8,1049.2 481.5,1049.5 481.1,1049.7 480.8,1049.9 480.4,1050.1 480.1,1050.3 479.7,1050.5 479.4,1050.6 479,1050.7 478.6,1050.9 478.3,1051 477.9,1051 477.5,1051.1 477.1,1051.2 476.8,1051.2 476.4,1051.3 476,1051.3 475.6,1051.4 475.2,1051.5 474.8,1051.6 474.3,1051.8 473.9,1052 473.4,1052.1 472.8,1052.3 472.2,1052.5 471.6,1052.6 471,1052.7 470.3,1052.8 469.6,1052.8 468.9,1052.8 468.2,1052.7 467.5,1052.5 466.7,1052.4 466,1052.1 465.2,1051.8 464.5,1051.5 463.8,1051 463.2,1050.5 462.7,1049.9 462.3,1049.3 462.1,1048.5 462,1047.7 462.1,1046.9 462.4,1046.2 462.7,1045.4 463.2,1044.7 463.6,1044 464.1,1043.4 464.6,1042.8 465.1,1042.3 465.5,1041.8 466,1041.3 466.4,1040.9 466.9,1040.5 467.3,1040.1 467.8,1039.8 468.3,1039.5 468.7,1039.3 469.1,1039 469.6,1038.8 470,1038.6 470.3,1038.3 470.7,1038.1 471.1,1037.9 471.4,1037.7 471.8,1037.5 472.1,1037.3 472.5,1037.1 472.8,1036.9 473.2,1036.7 473.6,1036.6 474,1036.5 474.4,1036.4 474.8,1036.3 475.2,1036.3 475.6,1036.2 476,1036.2 476.4,1036.2 476.8,1036.3 477.2,1036.3 477.6,1036.4 478,1036.5 478.4,1036.6 478.8,1036.7 479.2,1036.8 479.6,1036.9 480.1,1037 480.5,1037 481.1,1037 481.7,1037 482.3,1037 482.9,1037.1 483.6,1037.2 484.3,1037.3 484.9,1037.6 485.4,1037.9 485.9,1038.3 486.3,1038.8 486.6,1039.3 486.8,1039.8 487,1040.4 487.2,1041 487.3,1041.6 487.4,1042.2 487.5,1042.8 487.4,1043.4Z" fill="#df0000"/>
<path d="M479.3,1044 479.2,1044.2 479.1,1044.3 479,1044.5 478.9,1044.6 478.8,1044.7 478.6,1044.9 478.5,1044.9 478.3,1045 478.2,1045.1 478.1,1045.2 478,1045.3 477.9,1045.4 477.8,1045.4 477.7,1045.5 477.6,1045.6 477.5,1045.6 477.4,1045.7 477.3,1045.8 477.2,1045.8 477.1,1045.9 477,1045.9 476.9,1046 476.8,1046 476.7,1046 476.5,1046 476.4,1046.1 476.3,1046.1 476.2,1046.1 476.1,1046.1 476,1046.1 475.9,1046.1 475.8,1046.2 475.6,1046.2 475.5,1046.3 475.4,1046.3 475.2,1046.4 475.1,1046.4 474.9,1046.5 474.7,1046.5 474.5,1046.5 474.3,1046.6 474.1,1046.6 473.9,1046.5 473.7,1046.5 473.5,1046.5 473.3,1046.4 473.1,1046.4 472.9,1046.3 472.7,1046.2 472.5,1046 472.3,1045.9 472.1,1045.7 472,1045.5 472,1045.3 471.9,1045.1 472,1044.9 472,1044.6 472.2,1044.4 472.3,1044.2 472.4,1044 472.6,1043.8 472.7,1043.7 472.8,1043.5 473,1043.4 473.1,1043.2 473.2,1043.1 473.4,1043 473.5,1042.9 473.6,1042.8 473.8,1042.7 473.9,1042.6 474,1042.6 474.1,1042.5 474.2,1042.4 474.4,1042.4 474.5,1042.3 474.6,1042.2 474.7,1042.2 474.8,1042.1 474.9,1042 475,1042 475.1,1041.9 475.2,1041.9 475.3,1041.9 475.4,1041.8 475.5,1041.8 475.6,1041.8 475.8,1041.8 475.9,1041.7 476,1041.7 476.1,1041.7 476.2,1041.8 476.4,1041.8 476.5,1041.8 476.6,1041.8 476.7,1041.9 476.8,1041.9 476.9,1041.9 477,1041.9 477.2,1042 477.3,1042 477.5,1042 477.6,1042 477.8,1042 478,1042 478.2,1042 478.4,1042.1 478.6,1042.1 478.7,1042.2 478.9,1042.3 479,1042.5 479.1,1042.6 479.1,1042.8 479.2,1043 479.3,1043.1 479.3,1043.3 479.3,1043.5 479.3,1043.7 479.3,1043.8Z" fill="#d50000"/>
</g></g>
<g opacity=".35">
<path d="M308,995L295.2,990.3" stroke="#1e60e8" stroke-width="2.2" stroke-linecap="round" fill="none"/><circle cx="295.2" cy="990.3" r="3.5" fill="#1e60e8"/>
<path d="M306.9,1014.9L294,1017.3" stroke="#1e60e8" stroke-width="2.2" stroke-linecap="round" fill="none"/><circle cx="294" cy="1017.3" r="3.5" fill="#1e60e8"/>
<path d="M356.1,968L345.5,961" stroke="#1e60e8" stroke-width="2.2" stroke-linecap="round" fill="none"/><circle cx="345.5" cy="961" r="3.5" fill="#1e60e8"/>
<path d="M356.1,1026.6L332.7,1024.3" stroke="#60f0f0" stroke-width="3.7" stroke-linecap="round" fill="none"/><circle cx="332.7" cy="1024.3" r="6" fill="#60f0f0"/>
</g>
<path d="M312.8,1067 313.6,1087.1 309.8,1087.2 315.3,1099 319.8,1086.8 316,1087 315.2,1067Z" fill="#1160f0"/>
<path d="M270.7,1108.6 282.7,1130.8 279.3,1132.6 289.4,1140.8 288.1,1127.9 284.8,1129.7 272.9,1107.4Z" fill="#1160f0"/>
<path d="M362.1,1077.2 353.6,1102.7 350,1101.5 350.9,1114.5 359.4,1104.7 355.8,1103.5 364.3,1078Z" fill="#1160f0"/>
<path d="M410.3,1087.9 388.2,1111.6 385.2,1108.8 380.5,1121.5 392.9,1116 389.9,1113.2 412.1,1089.5Z" fill="#1160f0"/>
<path d="M459.9,1099.2 431.7,1115.4 429.7,1111.9 421.5,1122.7 435,1121 432.9,1117.5 461.1,1101.2Z" fill="#1160f0"/>
<path d="M418,1141 392.2,1156.2 390.3,1152.9 382.5,1163.3 395.4,1161.5 393.4,1158.2 419.2,1143Z" fill="#1160f0"/>
<rect x="402.5" y="1072.5" width="3.4" height="3.6" fill="#1160f0" transform="rotate(20 404 1074)"/>
<path d="M411.2,1054.1L392.4,1057.1" stroke="#1e70f0" stroke-width="1.8" fill="none"/><path d="M387,1058.2L392.1,1053.5L396.4,1056L391.7,1060.7Z" fill="#1e70f0"/>
<path d="M459.2,1065.3L441.6,1068.8" stroke="#1060f0" stroke-width="1.8" fill="none"/><path d="M436.2,1069.9L441.3,1065.2L445.6,1067.7L440.9,1072.4Z" fill="#1060f0"/>
<path d="M550.3,1071.2L533.9,1073.5" stroke="#1060f0" stroke-width="1.8" fill="none"/><path d="M528.5,1074.6L533.5,1069.9L537.9,1072.4L533.2,1077.1Z" fill="#1060f0"/>
<path d="M312.7,1032L301,1036" stroke="#1e70f0" stroke-width="2.2" stroke-linecap="round" fill="none"/><circle cx="301" cy="1036" r="3.5" fill="#1e70f0"/>
<path d="M362,1042.3L346.7,1046.6" stroke="#1e70f0" stroke-width="2.9" stroke-linecap="round" fill="none"/><circle cx="346.7" cy="1046.6" r="4.7" fill="#1e70f0"/>
<path d="M359.6,1006.7L345.5,999.7" stroke="#1e70f0" stroke-width="2.8" stroke-linecap="round" fill="none"/><circle cx="345.5" cy="999.7" r="4.5" fill="#1e70f0"/>
<path d="M408.8,1018.4L395.9,1011.4" stroke="#1060f0" stroke-width="2.8" stroke-linecap="round" fill="none"/><circle cx="395.9" cy="1011.4" r="4.5" fill="#1060f0"/>
<path d="M458,1029.7L448.7,1025.9" stroke="#1060f0" stroke-width="2.5" stroke-linecap="round" fill="none"/><circle cx="448.7" cy="1025.9" r="4" fill="#1060f0"/>
<path d="M398.3,1020.8L377.1,1006.7" stroke="#1e80f0" stroke-width="2.8" stroke-linecap="round" fill="none"/><path d="M370.2,1002L379.8,1002.7C383.8,1005.4 378.5,1013.3 374.5,1010.7Z" fill="#1e80f0" stroke="#6a7686" stroke-width=".4" stroke-linejoin="round"/>
<path d="M405.3,1037.2L376,1036" stroke="#70f0a8" stroke-width="4.7" stroke-linecap="round" fill="none"/><circle cx="376" cy="1036" r="8" fill="#70f0a8"/>
<path d="M454.1,1048.4L424.1,1047.7" stroke="#70f0a0" stroke-width="4.8" stroke-linecap="round" fill="none"/><circle cx="424.1" cy="1047.7" r="9" fill="#70f0a0"/>
<path d="M502.3,1060.2L479.1,1058.3" stroke="#20e8e8" stroke-width="4.2" stroke-linecap="round" fill="none"/><circle cx="479.1" cy="1058.3" r="7" fill="#20e8e8"/>
<path d="M549.1,1036L543.3,1031.3" stroke="#1e80f0" stroke-width="2.8" stroke-linecap="round" fill="none"/><circle cx="543.3" cy="1031.3" r="4.5" fill="#1e80f0"/>
<path d="M543.3,1055.5L539.1,1043" stroke="#1e80f0" stroke-width="3.2" stroke-linecap="round" fill="none"/><circle cx="539.1" cy="1043" r="5.2" fill="#1e80f0"/>
<path d="M548,1000.9L546.3,992.7" stroke="#1e70f0" stroke-width="2.9" stroke-linecap="round" fill="none"/><circle cx="546.3" cy="992.7" r="4.6" fill="#1e70f0"/>
<path d="M302.2,908.8L285.2,895.9" stroke="#1565f0" stroke-width="2.6" stroke-linecap="round" fill="none"/><path d="M277.6,890.1L288.1,892.1C291.9,895 286.1,902.5 282.3,899.7Z" fill="#1565f0" stroke="#6a7686" stroke-width=".4" stroke-linejoin="round"/>
<path d="M304.5,944.6L282.8,931.9" stroke="#2070f0" stroke-width="2.6" stroke-linecap="round" fill="none"/><path d="M275.2,927.5L285.2,927.8C289.3,930.2 284.5,938.4 280.4,936Z" fill="#2070f0" stroke="#6a7686" stroke-width=".4" stroke-linejoin="round"/>
<path d="M305.7,979.8L285.4,972.2" stroke="#2080f0" stroke-width="2.6" stroke-linecap="round" fill="none"/><path d="M277.6,969.2L287.1,967.7C291.6,969.4 288.2,978.3 283.8,976.6Z" fill="#2080f0" stroke="#6a7686" stroke-width=".4" stroke-linejoin="round"/>
<path d="M343.2,869L324.8,845.8" stroke="#1565f0" stroke-width="2.9" stroke-linecap="round" fill="none"/><path d="M318.1,837.3L329,842.5C332.3,846.7 324,853.2 320.7,849.1Z" fill="#1565f0" stroke="#6a7686" stroke-width=".4" stroke-linejoin="round"/>
<path d="M349.5,884.2L337.3,867.6" stroke="#1565f0" stroke-width="2.9" stroke-linecap="round" fill="none"/><path d="M331.5,859.6L341.2,864.8C344,868.6 336.3,874.3 333.5,870.4Z" fill="#1565f0" stroke="#6a7686" stroke-width=".4" stroke-linejoin="round"/>
<path d="M344.4,903L321.8,878.3" stroke="#1e90ff" stroke-width="3.4" stroke-linecap="round" fill="none"/><path d="M313.9,869.7L326.1,874.4C330,878.7 321.4,886.5 317.5,882.2Z" fill="#1e90ff" stroke="#6a7686" stroke-width=".4" stroke-linejoin="round"/>
<path d="M350.9,920.5L334.7,902.7" stroke="#20a0ff" stroke-width="3.4" stroke-linecap="round" fill="none"/><path d="M326.8,894.1L339,898.8C342.9,903.1 334.3,910.9 330.3,906.6Z" fill="#20a0ff" stroke="#6a7686" stroke-width=".4" stroke-linejoin="round"/>
<path d="M346.7,939.3L319.4,912.2" stroke="#30d8f8" stroke-width="4.1" stroke-linecap="round" fill="none"/><path d="M309.7,902.5L324.4,907.2C329.3,912.1 319.5,922.1 314.5,917.1Z" fill="#30d8f8" stroke="#6a7686" stroke-width=".4" stroke-linejoin="round"/>
<path d="M352.6,955.2L331.5,936.9" stroke="#30c8f0" stroke-width="3.7" stroke-linecap="round" fill="none"/><path d="M322.8,929.4L335.7,932.1C340.5,936.3 332.2,945.9 327.4,941.7Z" fill="#30c8f0" stroke="#6a7686" stroke-width=".4" stroke-linejoin="round"/>
<path d="M347.9,975.1L320.6,951.9" stroke="#30c8f0" stroke-width="3.7" stroke-linecap="round" fill="none"/><path d="M312,944.6L324.7,947C329.5,951.1 321.3,960.8 316.4,956.7Z" fill="#30c8f0" stroke="#6a7686" stroke-width=".4" stroke-linejoin="round"/>
<path d="M354.9,991.5L331.7,976.8" stroke="#40e8d8" stroke-width="4.6" stroke-linecap="round" fill="none"/><path d="M319.8,969.2L335.9,970C342.7,974.3 334.1,987.8 327.4,983.5Z" fill="#40e8d8" stroke="#6a7686" stroke-width=".4" stroke-linejoin="round"/>
<path d="M381.9,828L372.1,806" stroke="#1565f0" stroke-width="2.9" stroke-linecap="round" fill="none"/><path d="M367.1,794.7L377,803.9C379.1,808.7 369.4,813 367.3,808.2Z" fill="#1565f0" stroke="#6a7686" stroke-width=".4" stroke-linejoin="round"/>
<path d="M390.5,844.4L380.5,823.1" stroke="#1565f0" stroke-width="2.9" stroke-linecap="round" fill="none"/><path d="M375.3,812L385.3,820.9C387.6,825.6 378,830.2 375.7,825.4Z" fill="#1565f0" stroke="#6a7686" stroke-width=".4" stroke-linejoin="round"/>
<path d="M391.2,881.9L367.9,834.8" stroke="#1e90ff" stroke-width="3.4" stroke-linecap="round" fill="none"/><path d="M362,822.8L373.1,832.2C375.7,837.4 365.2,842.6 362.7,837.3Z" fill="#1e90ff" stroke="#6a7686" stroke-width=".4" stroke-linejoin="round"/>
<path d="M398.3,895.9L389.1,876.9" stroke="#2080f0" stroke-width="3.1" stroke-linecap="round" fill="none"/><path d="M383.7,865.9L393.8,874.6C396.1,879.4 386.6,884 384.3,879.2Z" fill="#2080f0" stroke="#6a7686" stroke-width=".4" stroke-linejoin="round"/>
<path d="M386.6,900.6L365.6,864.6" stroke="#30c0f0" stroke-width="4" stroke-linecap="round" fill="none"/><path d="M358,851.4L371.6,861.1C375,867 363.1,874 359.6,868Z" fill="#30c0f0" stroke="#6a7686" stroke-width=".4" stroke-linejoin="round"/>
<path d="M381.9,924.1L364.3,894" stroke="#30d8f0" stroke-width="4.1" stroke-linecap="round" fill="none"/><path d="M356.6,880.7L370.4,890.5C373.9,896.5 361.8,903.6 358.3,897.6Z" fill="#30d8f0" stroke="#6a7686" stroke-width=".4" stroke-linejoin="round"/>
<path d="M391.2,914.7L373.7,880.5" stroke="#50f0c0" stroke-width="4.6" stroke-linecap="round" fill="none"/><path d="M365.5,864.3L380.9,876.8C384.5,883.9 370.3,891.2 366.6,884.1Z" fill="#50f0c0" stroke="#6a7686" stroke-width=".4" stroke-linejoin="round"/>
<path d="M400.6,933.4L388.3,913" stroke="#30b0f0" stroke-width="3.4" stroke-linecap="round" fill="none"/><path d="M381.9,902.5L393.2,910C396.3,915 386.3,921 383.3,916.1Z" fill="#30b0f0" stroke="#6a7686" stroke-width=".4" stroke-linejoin="round"/>
<path d="M392.4,945.2L369,909.9" stroke="#c0f050" stroke-width="6.1" stroke-linecap="round" fill="none"/><path d="M356.6,891.2L377.7,904.1C383.5,912.8 366,924.5 360.2,915.7Z" fill="#c0f050" stroke="#6a7686" stroke-width=".4" stroke-linejoin="round"/>
<path d="M407.7,983.3L398.3,972.7" stroke="#1e70f0" stroke-width="2.8" stroke-linecap="round" fill="none"/><circle cx="398.3" cy="972.7" r="4.5" fill="#1e70f0"/>
<path d="M403,1000.9L380.9,984.3" stroke="#60f0b0" stroke-width="4.6" stroke-linecap="round" fill="none"/><path d="M369.7,975.8L385.7,977.9C392.1,982.7 382.5,995.5 376.1,990.6Z" fill="#60f0b0" stroke="#6a7686" stroke-width=".4" stroke-linejoin="round"/>
<path d="M395.9,986.8L363.1,943.9" stroke="#ffe800" stroke-width="6.7" stroke-linecap="round" fill="none"/><path d="M350.2,927L372.3,936.9C379.2,946 361,960 354,950.9Z" fill="#ffe800" stroke="#6a7686" stroke-width=".4" stroke-linejoin="round"/>
<path d="M400.6,965.7L383,942.3" stroke="#40f0d0" stroke-width="4.4" stroke-linecap="round" fill="none"/><circle cx="383" cy="942.3" r="7" fill="#40f0d0"/>
<path d="M432.2,800.4L424.2,779.3" stroke="#1565f0" stroke-width="2.9" stroke-linecap="round" fill="none"/><path d="M420.2,768.8L428.6,777.6C430.2,782 421.5,785.3 419.8,780.9Z" fill="#1565f0" stroke="#6a7686" stroke-width=".4" stroke-linejoin="round"/>
<path d="M438.3,819.8L432.7,800.7" stroke="#1565f0" stroke-width="2.9" stroke-linecap="round" fill="none"/><path d="M429.6,789.9L437,799.4C438.3,803.7 429.7,806.3 428.4,801.9Z" fill="#1565f0" stroke="#6a7686" stroke-width=".4" stroke-linejoin="round"/>
<path d="M431.3,828.6L423.3,806.8" stroke="#1e8ef0" stroke-width="3" stroke-linecap="round" fill="none"/><path d="M419,795.2L428.1,805C429.9,809.9 420.2,813.4 418.5,808.6Z" fill="#1e8ef0" stroke="#6a7686" stroke-width=".4" stroke-linejoin="round"/>
<path d="M440.1,855.8L432.7,831.7" stroke="#1e78f0" stroke-width="2.9" stroke-linecap="round" fill="none"/><path d="M429,819.8L437.5,830.2C439,835 429.4,838 427.9,833.2Z" fill="#1e78f0" stroke="#6a7686" stroke-width=".4" stroke-linejoin="round"/>
<path d="M427.8,851.4L419.9,832.2" stroke="#28e0f0" stroke-width="4" stroke-linecap="round" fill="none"/><path d="M413.7,817.1L426.3,829.6C428.9,836 416.2,841.2 413.6,834.9Z" fill="#28e0f0" stroke="#6a7686" stroke-width=".4" stroke-linejoin="round"/>
<path d="M425.2,874.3L416.1,854.3" stroke="#98f868" stroke-width="4.6" stroke-linecap="round" fill="none"/><path d="M408.5,837.3L423.4,851C426.7,858.3 412.1,864.9 408.8,857.6Z" fill="#98f868" stroke="#6a7686" stroke-width=".4" stroke-linejoin="round"/>
<path d="M440.1,883L430.6,859.7" stroke="#20e8f0" stroke-width="4.1" stroke-linecap="round" fill="none"/><path d="M424.3,844.4L437,857.1C439.7,863.6 426.7,868.9 424.1,862.4Z" fill="#20e8f0" stroke="#6a7686" stroke-width=".4" stroke-linejoin="round"/>
<path d="M424.3,902.4L413.9,881.7" stroke="#f4f820" stroke-width="5.1" stroke-linecap="round" fill="none"/><path d="M404.9,863.7L421.8,877.7C425.7,885.6 410,893.5 406.1,885.6Z" fill="#f4f820" stroke="#6a7686" stroke-width=".4" stroke-linejoin="round"/>
<path d="M437.5,909.4L427.9,886.4" stroke="#98f868" stroke-width="5.1" stroke-linecap="round" fill="none"/><path d="M419.9,867.2L436,883.1C439.4,891.2 423.1,897.9 419.8,889.8Z" fill="#98f868" stroke="#6a7686" stroke-width=".4" stroke-linejoin="round"/>
<path d="M447.1,906.8L442.7,889.2" stroke="#1e70f0" stroke-width="2.7" stroke-linecap="round" fill="none"/><circle cx="442.7" cy="889.2" r="4.4" fill="#1e70f0"/>
<path d="M445.2,962.2L423.1,914.3" stroke="#ffa410" stroke-width="6.7" stroke-linecap="round" fill="none"/><path d="M412,890.1L433.6,909.5C438.4,920 417.5,929.6 412.7,919.1Z" fill="#ffa410" stroke="#6a7686" stroke-width=".4" stroke-linejoin="round"/>
<path d="M447.5,943.4L440.5,922.3" stroke="#20a8f0" stroke-width="3.1" stroke-linecap="round" fill="none"/><circle cx="440.5" cy="922.3" r="5" fill="#20a8f0"/>
<path d="M446.3,1032.5L427.2,1010.1" stroke="#30e0f0" stroke-width="4" stroke-linecap="round" fill="none"/><path d="M419.4,1000.9L432.5,1005.6C437,1010.9 426.5,1019.8 422,1014.6Z" fill="#30e0f0" stroke="#6a7686" stroke-width=".4" stroke-linejoin="round"/>
<path d="M452.2,1012.6L433.4,995" stroke="#60f0b0" stroke-width="4.6" stroke-linecap="round" fill="none"/><circle cx="433.4" cy="995" r="8" fill="#60f0b0"/>
<path d="M445.2,997.3L419,947.3" stroke="#ff2000" stroke-width="7.6" stroke-linecap="round" fill="none"/><path d="M405.3,921.2L432.3,940.4C439.2,953.7 412.7,967.6 405.7,954.3Z" fill="#ff2000" stroke="#6a7686" stroke-width=".4" stroke-linejoin="round"/>
<path d="M451,976.2L437,954" stroke="#50e8c8" stroke-width="4.4" stroke-linecap="round" fill="none"/><circle cx="437" cy="954" r="7" fill="#50e8c8"/>
<path d="M480.5,812.7L478.4,791.5" stroke="#1565f0" stroke-width="2.9" stroke-linecap="round" fill="none"/><path d="M477,777.6L483.5,791C484,796.1 473.8,797.1 473.3,792Z" fill="#1565f0" stroke="#6a7686" stroke-width=".4" stroke-linejoin="round"/>
<path d="M472.6,819.8L470.5,804.3" stroke="#1e78f0" stroke-width="2.9" stroke-linecap="round" fill="none"/><path d="M468.7,791.6L475.2,803.6C475.9,808.4 466.4,809.7 465.8,804.9Z" fill="#1e78f0" stroke="#6a7686" stroke-width=".4" stroke-linejoin="round"/>
<path d="M478.8,830.3L477,815.5" stroke="#20a0f0" stroke-width="3.1" stroke-linecap="round" fill="none"/><path d="M475.3,801.3L482.2,814.8C482.9,820.1 472.3,821.4 471.7,816.1Z" fill="#20a0f0" stroke="#6a7686" stroke-width=".4" stroke-linejoin="round"/>
<path d="M470,842.6L468.5,831.6" stroke="#20a8f0" stroke-width="2.8" stroke-linecap="round" fill="none"/><path d="M466.8,818.9L473.2,830.9C473.9,835.7 464.4,836.9 463.8,832.2Z" fill="#20a8f0" stroke="#6a7686" stroke-width=".4" stroke-linejoin="round"/>
<path d="M479.6,858.4L477.3,841" stroke="#70f0a0" stroke-width="4.6" stroke-linecap="round" fill="none"/><path d="M474.4,819.8L485.2,839.9C486.3,847.8 470.4,850 469.3,842.1Z" fill="#70f0a0" stroke="#6a7686" stroke-width=".4" stroke-linejoin="round"/>
<path d="M487.6,858.4L486.9,848.3" stroke="#1e78f0" stroke-width="3.2" stroke-linecap="round" fill="none"/><path d="M485.8,832.9L492.4,847.9C492.8,853.4 481.7,854.2 481.3,848.6Z" fill="#1e78f0" stroke="#6a7686" stroke-width=".4" stroke-linejoin="round"/>
<path d="M476.1,909.4L471.5,882.5" stroke="#ff3a10" stroke-width="7.6" stroke-linecap="round" fill="none"/><path d="M465.6,848.8L484.3,880.3C486.5,893.1 460.9,897.5 458.6,884.7Z" fill="#ff3a10" stroke="#6a7686" stroke-width=".4" stroke-linejoin="round"/>
<path d="M479.6,883L475.1,863.7" stroke="#ffdc10" stroke-width="5.1" stroke-linecap="round" fill="none"/><path d="M470,841.7L483.7,861.7C485.7,870.3 468.6,874.3 466.6,865.7Z" fill="#ffdc10" stroke="#6a7686" stroke-width=".4" stroke-linejoin="round"/>
<path d="M488.4,893.6L486.9,877.9" stroke="#20f0e8" stroke-width="4.3" stroke-linecap="round" fill="none"/><path d="M484.9,857.6L494.4,877.2C495.1,884.6 480.2,886.1 479.4,878.6Z" fill="#20f0e8" stroke="#6a7686" stroke-width=".4" stroke-linejoin="round"/>
<path d="M490.2,918.2L487.3,904.7" stroke="#98f868" stroke-width="5.4" stroke-linecap="round" fill="none"/><path d="M482.3,881.3L496.3,902.7C498.3,911.8 480.2,915.7 478.3,906.6Z" fill="#98f868" stroke="#6a7686" stroke-width=".4" stroke-linejoin="round"/>
<path d="M495.5,916.4L494.9,902" stroke="#1e70f0" stroke-width="2.7" stroke-linecap="round" fill="none"/><circle cx="494.9" cy="902" r="4.4" fill="#1e70f0"/>
<path d="M497,985L485.9,933.2" stroke="#ffa410" stroke-width="7" stroke-linecap="round" fill="none"/><path d="M479.6,904.1L497.9,930.6C500.5,942.7 476.4,947.8 473.9,935.8Z" fill="#ffa410" stroke="#6a7686" stroke-width=".4" stroke-linejoin="round"/>
<path d="M496.4,952.8L495.2,936.4" stroke="#2080f0" stroke-width="2.8" stroke-linecap="round" fill="none"/><circle cx="495.2" cy="936.4" r="4.5" fill="#2080f0"/>
<path d="M496.7,1013.7L480.1,960.6" stroke="#ff2000" stroke-width="7.6" stroke-linecap="round" fill="none"/><path d="M472.1,935.2L493.9,956.3C498.2,970.1 470.6,978.8 466.2,965Z" fill="#ff2000" stroke="#6a7686" stroke-width=".4" stroke-linejoin="round"/>
<path d="M498.7,990.3L492.9,972.7" stroke="#20c8f0" stroke-width="3.8" stroke-linecap="round" fill="none"/><circle cx="492.9" cy="972.7" r="6.5" fill="#20c8f0"/>
<path d="M491.7,1023.1L488.2,1011.4" stroke="#20e0f0" stroke-width="4" stroke-linecap="round" fill="none"/><circle cx="488.2" cy="1011.4" r="7" fill="#20e0f0"/>
<path d="M495.2,1044.2L489.4,1024.3" stroke="#20d8f0" stroke-width="3.8" stroke-linecap="round" fill="none"/><circle cx="489.4" cy="1024.3" r="6.2" fill="#20d8f0"/>
<path d="M525.4,812.7L526.2,918.2" stroke="#20d0f0" stroke-width="3" fill="none"/>
<path d="M523.1,811L523.1,785.2" stroke="#1565f0" stroke-width="2.9" stroke-linecap="round" fill="none"/><path d="M523.1,772L527.7,785.2C527.7,789.9 518.4,789.9 518.4,785.2Z" fill="#1565f0" stroke="#6a7686" stroke-width=".4" stroke-linejoin="round"/>
<path d="M529.7,819.8L530.8,801.9" stroke="#1565f0" stroke-width="2.9" stroke-linecap="round" fill="none"/><path d="M531.5,789L535.4,802.2C535.2,806.8 525.8,806.3 526.1,801.6Z" fill="#1565f0" stroke="#6a7686" stroke-width=".4" stroke-linejoin="round"/>
<path d="M525.4,858.4L524.9,841.3" stroke="#20c0f0" stroke-width="3.1" stroke-linecap="round" fill="none"/><path d="M524.5,826.4L530.2,841.2C530.3,846.5 519.7,846.8 519.6,841.5Z" fill="#20c0f0" stroke="#6a7686" stroke-width=".4" stroke-linejoin="round"/>
<path d="M533.3,844.4L533.9,830" stroke="#28b0f0" stroke-width="3.2" stroke-linecap="round" fill="none"/><path d="M534.5,814.5L539.4,830.2C539.2,835.8 528.1,835.3 528.3,829.8Z" fill="#28b0f0" stroke="#6a7686" stroke-width=".4" stroke-linejoin="round"/>
<path d="M522.7,883L521.8,870.1" stroke="#50f0c0" stroke-width="2.6" stroke-linecap="round" fill="none"/><path d="M521,858.4L526,869.8C526.3,874 517.9,874.6 517.6,870.4Z" fill="#50f0c0" stroke="#6a7686" stroke-width=".4" stroke-linejoin="round"/>
<path d="M534.1,872.5L534.9,856.1" stroke="#60f0b0" stroke-width="4.6" stroke-linecap="round" fill="none"/><path d="M535.9,833.8L542.9,856.5C542.5,864.4 526.5,863.7 526.9,855.7Z" fill="#60f0b0" stroke="#6a7686" stroke-width=".4" stroke-linejoin="round"/>
<path d="M535,952L535.4,920.5" stroke="#ff3a10" stroke-width="7.2" stroke-linecap="round" fill="none"/><path d="M535.9,879.5L549.9,920.7C549.7,935.2 520.7,934.8 520.9,920.3Z" fill="#ff3a10" stroke="#6a7686" stroke-width=".4" stroke-linejoin="round"/>
<path d="M536.8,893.6L536.8,883.3" stroke="#ffd810" stroke-width="6.7" stroke-linecap="round" fill="none"/><path d="M536.8,856.7L548.3,883.3C548.3,894.8 525.3,894.8 525.3,883.3Z" fill="#ffd810" stroke="#6a7686" stroke-width=".4" stroke-linejoin="round"/>
<path d="M538.5,876L539.4,861.2" stroke="#1e78f0" stroke-width="3" stroke-linecap="round" fill="none"/><path d="M540.3,847L544.6,861.5C544.3,866.7 534,866 534.3,860.9Z" fill="#1e78f0" stroke="#6a7686" stroke-width=".4" stroke-linejoin="round"/>
<path d="M539.4,911.2L540.5,898.3" stroke="#28b0f0" stroke-width="4" stroke-linecap="round" fill="none"/><path d="M542.1,879.5L547.3,898.9C546.8,905.8 533,904.6 533.6,897.8Z" fill="#28b0f0" stroke="#6a7686" stroke-width=".4" stroke-linejoin="round"/>
<path d="M542.1,935.8L542.6,926.1" stroke="#50f0c0" stroke-width="4.6" stroke-linecap="round" fill="none"/><path d="M543.8,905.9L550.6,926.5C550.1,934.5 534.2,933.6 534.6,925.6Z" fill="#50f0c0" stroke="#6a7686" stroke-width=".4" stroke-linejoin="round"/>
<path d="M532,997.3L530.9,963.6" stroke="#90f070" stroke-width="5.1" stroke-linecap="round" fill="none"/><path d="M530.4,948.1L539.7,963.3C540,972.1 522.4,972.7 522.1,963.9Z" fill="#90f070" stroke="#6a7686" stroke-width=".4" stroke-linejoin="round"/>
<path d="M542.8,973.9L543.1,953.1" stroke="#c0f850" stroke-width="5.8" stroke-linecap="round" fill="none"/><path d="M543.3,934.1L553.1,953.2C552.9,963.2 532.9,962.9 533.1,952.9Z" fill="#c0f850" stroke="#6a7686" stroke-width=".4" stroke-linejoin="round"/>
<path d="M546.8,964.5L546.8,955.2" stroke="#1e70f0" stroke-width="2.8" stroke-linecap="round" fill="none"/><circle cx="546.8" cy="955.2" r="4.5" fill="#1e70f0"/>
<path d="M541.4,1020.8L540.4,990.9" stroke="#ffff10" stroke-width="7" stroke-linecap="round" fill="none"/><path d="M539.8,971.6L551.4,990.5C551.8,1001.5 529.8,1002.3 529.4,991.3Z" fill="#ffff10" stroke="#6a7686" stroke-width=".4" stroke-linejoin="round"/>
<path d="M570.9,821.4L576.9,795.4" stroke="#1565f0" stroke-width="2.9" stroke-linecap="round" fill="none"/><path d="M579.6,783.4L581.5,796.4C580.5,801.1 571.2,799 572.2,794.3Z" fill="#1565f0" stroke="#6a7686" stroke-width=".4" stroke-linejoin="round"/>
<path d="M571.9,856.6L583.1,818.9" stroke="#1565f0" stroke-width="2.9" stroke-linecap="round" fill="none"/><path d="M586.6,806.9L587.9,820.3C586.5,825.2 576.8,822.3 578.2,817.5Z" fill="#1565f0" stroke="#6a7686" stroke-width=".4" stroke-linejoin="round"/>
<path d="M573.7,891.2L587,848.3" stroke="#30d0f8" stroke-width="3.4" stroke-linecap="round" fill="none"/><path d="M591.3,834.5L592.6,850.1C590.9,855.6 579.8,852.2 581.5,846.6Z" fill="#2090f8" stroke="#6a7686" stroke-width=".4" stroke-linejoin="round"/>
<path d="M574.9,927.6L590.8,877.3" stroke="#30e8e8" stroke-width="4.6" stroke-linecap="round" fill="none"/><path d="M596.7,858.4L598.4,879.7C596,887.3 580.7,882.5 583.1,874.9Z" fill="#30e8e8" stroke="#6a7686" stroke-width=".4" stroke-linejoin="round"/>
<path d="M583.1,945.2L595.1,904.6" stroke="#90f070" stroke-width="5.5" stroke-linecap="round" fill="none"/><path d="M601.9,881.9L604.3,907.3C601.6,916.4 583.3,911 586,901.9Z" fill="#90f070" stroke="#6a7686" stroke-width=".4" stroke-linejoin="round"/>
<path d="M576.1,962.2L594.8,906.5" stroke="#1e80f0" stroke-width="2.6" stroke-linecap="round" fill="none"/><circle cx="594.8" cy="906.5" r="5" fill="#1e80f0"/>
<path d="M583.1,978.6L597.9,931.5" stroke="#f8f810" stroke-width="6.5" stroke-linecap="round" fill="none"/><path d="M605.4,907.7L608.4,934.8C605.1,945.3 584.1,938.7 587.4,928.2Z" fill="#f8f810" stroke="#6a7686" stroke-width=".4" stroke-linejoin="round"/>
<path d="M590.2,959.8L597.2,941.1" stroke="#20a8f0" stroke-width="3.6" stroke-linecap="round" fill="none"/><circle cx="597.2" cy="941.1" r="6" fill="#20a8f0"/>
<g opacity=".55"><path d="M590.2,997.3L595.8,979.6" stroke="#40e0f0" stroke-width="4" stroke-linecap="round" fill="none"/><path d="M599.5,968L602.4,981.7C600.3,988.3 587.2,984.1 589.3,977.5Z" fill="#40e0f0" stroke="#6a7686" stroke-width=".4" stroke-linejoin="round"/></g>
<path d="M584.3,1013.7L587.2,987.9" stroke="#20a0f0" stroke-width="3.1" stroke-linecap="round" fill="none"/><path d="M588.3,978.6L592.5,988.5C591.9,993.7 581.4,992.5 582,987.3Z" fill="#20a0f0" stroke="#6a7686" stroke-width=".4" stroke-linejoin="round"/>
<path d="M590.6,1031.3L593.2,1013.7" stroke="#20c8f0" stroke-width="4" stroke-linecap="round" fill="none"/><circle cx="593.2" cy="1013.7" r="7" fill="#20c8f0"/>
<path d="M620.2,868.3L633.9,841.1" stroke="#1565f0" stroke-width="2.9" stroke-linecap="round" fill="none"/><path d="M639.4,830.3L638.7,843.5C636.3,848.2 626.8,843.4 629.2,838.7Z" fill="#1565f0" stroke="#6a7686" stroke-width=".4" stroke-linejoin="round"/>
<path d="M621.8,903.4L638.2,868.4" stroke="#20a0f8" stroke-width="3.1" stroke-linecap="round" fill="none"/><path d="M643.4,857.3L643,870.6C640.7,875.4 631.1,870.9 633.4,866.1Z" fill="#1060f0" stroke="#6a7686" stroke-width=".4" stroke-linejoin="round"/>
<path d="M623,940L641.8,901.1" stroke="#20a0f8" stroke-width="4.1" stroke-linecap="round" fill="none"/><path d="M648.7,886.6L648.1,904.1C645,910.4 632.4,904.3 635.5,898Z" fill="#20a0f8" stroke="#6a7686" stroke-width=".4" stroke-linejoin="round"/>
<path d="M630,955.2L646.2,929.6" stroke="#30c0f0" stroke-width="4" stroke-linecap="round" fill="none"/><path d="M653.4,918.2L652,933.3C648.4,939.1 636.7,931.7 640.4,925.9Z" fill="#30c0f0" stroke="#6a7686" stroke-width=".4" stroke-linejoin="round"/>
<path d="M631.2,990.3L646.5,965.2" stroke="#20c0f0" stroke-width="4.1" stroke-linecap="round" fill="none"/><path d="M653,954.7L652.5,968.8C648.9,974.8 636.9,967.5 640.6,961.5Z" fill="#20c0f0" stroke="#6a7686" stroke-width=".4" stroke-linejoin="round"/>
<path d="M670.3,914.7L687.4,893.7" stroke="#1060f0" stroke-width="2.4" stroke-linecap="round" fill="none"/><path d="M692.8,887L690.7,896.3C688,899.6 681.4,894.3 684.1,891Z" fill="#1060f0" stroke="#6a7686" stroke-width=".4" stroke-linejoin="round"/>
<path d="M110,1161.5L67.5,1154" stroke="#00e000" stroke-width="2" fill="none"/>
<path d="M66,1153.4L81,1149.6L79.4,1159.6Z" fill="#00e000"/>
<path d="M110,1161.5L109.3,1128" stroke="#0000e0" stroke-width="2" fill="none"/>
<path d="M109.2,1126L113.6,1137.5L105,1137.5Z" fill="#0000e0"/>
<path d="M110,1161.5L132.5,1143.5" stroke="#e00000" stroke-width="2" fill="none"/>
<path d="M133.5,1142.5L122.6,1145.8L128.2,1152.8Z" fill="#e00000"/>
<text x="54" y="1153.5" font-family="Liberation Sans,sans-serif" font-size="12.5" fill="#333">y</text>
<text x="104.3" y="1123.3" font-family="Liberation Sans,sans-serif" font-size="12.5" font-weight="bold" fill="#222">z</text>
<text x="131.5" y="1142" font-family="Liberation Sans,sans-serif" font-size="13.5" fill="#666" transform="rotate(-12 136 1138)">x</text>
<rect x="645" y="1168.6" width="69.5" height="18.7" fill="#000"/>
<text x="601.3" y="1152" class="pal" font-size="37" textLength="118" lengthAdjust="spacingAndGlyphs">100 µm</text>
<rect x="776.5" y="1203" width="2.4" height="1.2" fill="#999"/>
<text x="550.6" y="667" class="pal" font-size="40" textLength="45" lengthAdjust="spacingAndGlyphs">(<tspan font-weight="bold">a</tspan>)</text>
<text x="548.3" y="1260.8" class="pal" font-size="40" textLength="50" lengthAdjust="spacingAndGlyphs">(<tspan font-weight="bold">b</tspan>)</text>
</svg></body></html>
